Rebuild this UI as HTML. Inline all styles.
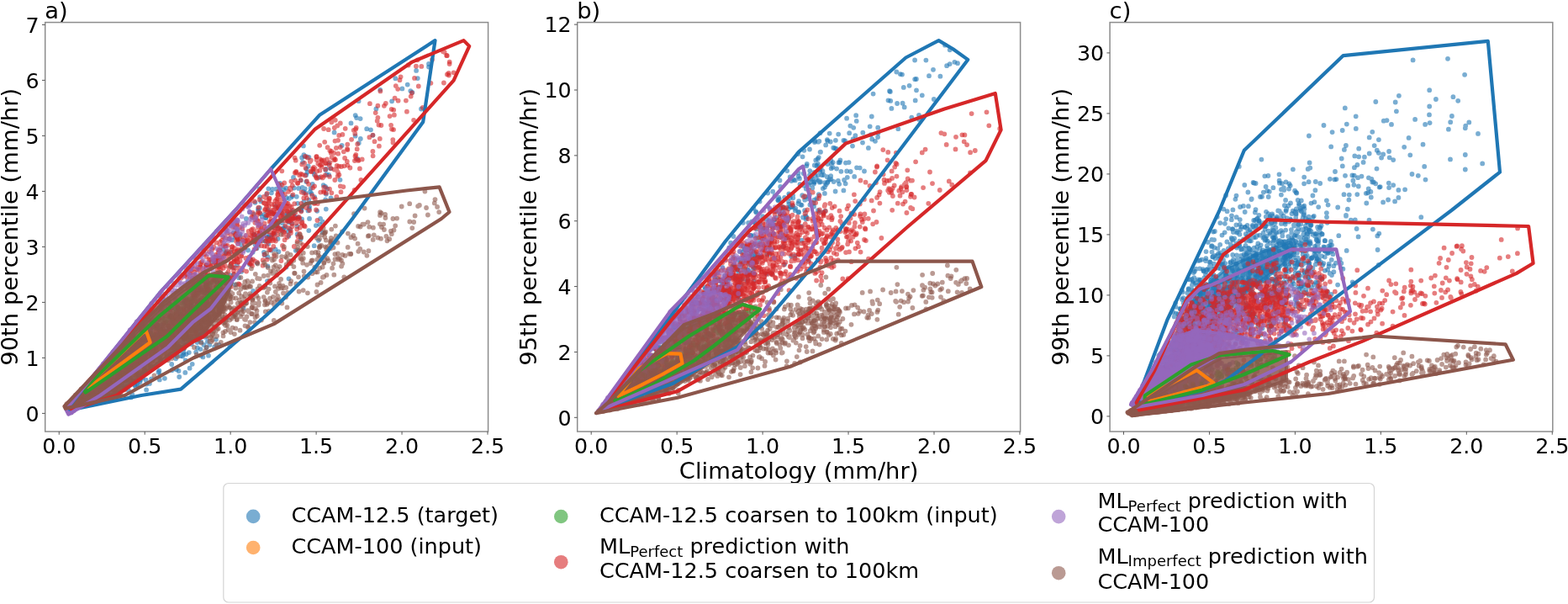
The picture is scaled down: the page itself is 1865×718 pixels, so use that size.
<!DOCTYPE html>
<html><head><meta charset="utf-8"><style>
html,body{margin:0;padding:0;background:#fff;width:1865px;height:718px;overflow:hidden}
svg{display:block}
</style></head><body>
<svg width="1865" height="718" viewBox="0 0 1865 718" font-family="'DejaVu Sans', 'Liberation Sans', sans-serif">
<rect x="53.7" y="26.6" width="526.9" height="486.4" fill="none" stroke="#8c8c8c" stroke-width="1.5"/>
<line x1="50.0" y1="491.40" x2="53.7" y2="491.40" stroke="#555" stroke-width="1"/>
<text x="46.7" y="500.60" text-anchor="end" font-size="25.3">0</text>
<line x1="50.0" y1="425.40" x2="53.7" y2="425.40" stroke="#555" stroke-width="1"/>
<text x="46.7" y="434.60" text-anchor="end" font-size="25.3">1</text>
<line x1="50.0" y1="359.40" x2="53.7" y2="359.40" stroke="#555" stroke-width="1"/>
<text x="46.7" y="368.60" text-anchor="end" font-size="25.3">2</text>
<line x1="50.0" y1="293.40" x2="53.7" y2="293.40" stroke="#555" stroke-width="1"/>
<text x="46.7" y="302.60" text-anchor="end" font-size="25.3">3</text>
<line x1="50.0" y1="227.40" x2="53.7" y2="227.40" stroke="#555" stroke-width="1"/>
<text x="46.7" y="236.60" text-anchor="end" font-size="25.3">4</text>
<line x1="50.0" y1="161.40" x2="53.7" y2="161.40" stroke="#555" stroke-width="1"/>
<text x="46.7" y="170.60" text-anchor="end" font-size="25.3">5</text>
<line x1="50.0" y1="95.40" x2="53.7" y2="95.40" stroke="#555" stroke-width="1"/>
<text x="46.7" y="104.60" text-anchor="end" font-size="25.3">6</text>
<line x1="50.0" y1="29.40" x2="53.7" y2="29.40" stroke="#555" stroke-width="1"/>
<text x="46.7" y="38.60" text-anchor="end" font-size="25.3">7</text>
<line x1="70.25" y1="513.0" x2="70.25" y2="516.7" stroke="#555" stroke-width="1"/>
<text x="70.25" y="539.00" text-anchor="middle" font-size="25.3">0.0</text>
<line x1="172.20" y1="513.0" x2="172.20" y2="516.7" stroke="#555" stroke-width="1"/>
<text x="172.20" y="539.00" text-anchor="middle" font-size="25.3">0.5</text>
<line x1="274.15" y1="513.0" x2="274.15" y2="516.7" stroke="#555" stroke-width="1"/>
<text x="274.15" y="539.00" text-anchor="middle" font-size="25.3">1.0</text>
<line x1="376.10" y1="513.0" x2="376.10" y2="516.7" stroke="#555" stroke-width="1"/>
<text x="376.10" y="539.00" text-anchor="middle" font-size="25.3">1.5</text>
<line x1="478.05" y1="513.0" x2="478.05" y2="516.7" stroke="#555" stroke-width="1"/>
<text x="478.05" y="539.00" text-anchor="middle" font-size="25.3">2.0</text>
<line x1="580.00" y1="513.0" x2="580.00" y2="516.7" stroke="#555" stroke-width="1"/>
<text x="580.00" y="539.00" text-anchor="middle" font-size="25.3">2.5</text>
<rect x="686.7" y="26.6" width="526.8999999999999" height="486.4" fill="none" stroke="#8c8c8c" stroke-width="1.5"/>
<line x1="683.0" y1="496.30" x2="686.7" y2="496.30" stroke="#555" stroke-width="1"/>
<text x="679.7" y="505.50" text-anchor="end" font-size="25.3">0</text>
<line x1="683.0" y1="418.44" x2="686.7" y2="418.44" stroke="#555" stroke-width="1"/>
<text x="679.7" y="427.64" text-anchor="end" font-size="25.3">2</text>
<line x1="683.0" y1="340.58" x2="686.7" y2="340.58" stroke="#555" stroke-width="1"/>
<text x="679.7" y="349.78" text-anchor="end" font-size="25.3">4</text>
<line x1="683.0" y1="262.72" x2="686.7" y2="262.72" stroke="#555" stroke-width="1"/>
<text x="679.7" y="271.92" text-anchor="end" font-size="25.3">6</text>
<line x1="683.0" y1="184.86" x2="686.7" y2="184.86" stroke="#555" stroke-width="1"/>
<text x="679.7" y="194.06" text-anchor="end" font-size="25.3">8</text>
<line x1="683.0" y1="107.00" x2="686.7" y2="107.00" stroke="#555" stroke-width="1"/>
<text x="679.7" y="116.20" text-anchor="end" font-size="25.3">10</text>
<line x1="683.0" y1="29.14" x2="686.7" y2="29.14" stroke="#555" stroke-width="1"/>
<text x="679.7" y="38.34" text-anchor="end" font-size="25.3">12</text>
<line x1="703.20" y1="513.0" x2="703.20" y2="516.7" stroke="#555" stroke-width="1"/>
<text x="703.20" y="539.00" text-anchor="middle" font-size="25.3">0.0</text>
<line x1="805.15" y1="513.0" x2="805.15" y2="516.7" stroke="#555" stroke-width="1"/>
<text x="805.15" y="539.00" text-anchor="middle" font-size="25.3">0.5</text>
<line x1="907.10" y1="513.0" x2="907.10" y2="516.7" stroke="#555" stroke-width="1"/>
<text x="907.10" y="539.00" text-anchor="middle" font-size="25.3">1.0</text>
<line x1="1009.05" y1="513.0" x2="1009.05" y2="516.7" stroke="#555" stroke-width="1"/>
<text x="1009.05" y="539.00" text-anchor="middle" font-size="25.3">1.5</text>
<line x1="1111.00" y1="513.0" x2="1111.00" y2="516.7" stroke="#555" stroke-width="1"/>
<text x="1111.00" y="539.00" text-anchor="middle" font-size="25.3">2.0</text>
<line x1="1212.95" y1="513.0" x2="1212.95" y2="516.7" stroke="#555" stroke-width="1"/>
<text x="1212.95" y="539.00" text-anchor="middle" font-size="25.3">2.5</text>
<rect x="1320.1" y="26.6" width="526.7" height="486.4" fill="none" stroke="#8c8c8c" stroke-width="1.5"/>
<line x1="1316.3999999999999" y1="494.90" x2="1320.1" y2="494.90" stroke="#555" stroke-width="1"/>
<text x="1313.1" y="504.10" text-anchor="end" font-size="25.3">0</text>
<line x1="1316.3999999999999" y1="422.90" x2="1320.1" y2="422.90" stroke="#555" stroke-width="1"/>
<text x="1313.1" y="432.10" text-anchor="end" font-size="25.3">5</text>
<line x1="1316.3999999999999" y1="350.90" x2="1320.1" y2="350.90" stroke="#555" stroke-width="1"/>
<text x="1313.1" y="360.10" text-anchor="end" font-size="25.3">10</text>
<line x1="1316.3999999999999" y1="278.90" x2="1320.1" y2="278.90" stroke="#555" stroke-width="1"/>
<text x="1313.1" y="288.10" text-anchor="end" font-size="25.3">15</text>
<line x1="1316.3999999999999" y1="206.90" x2="1320.1" y2="206.90" stroke="#555" stroke-width="1"/>
<text x="1313.1" y="216.10" text-anchor="end" font-size="25.3">20</text>
<line x1="1316.3999999999999" y1="134.90" x2="1320.1" y2="134.90" stroke="#555" stroke-width="1"/>
<text x="1313.1" y="144.10" text-anchor="end" font-size="25.3">25</text>
<line x1="1316.3999999999999" y1="62.90" x2="1320.1" y2="62.90" stroke="#555" stroke-width="1"/>
<text x="1313.1" y="72.10" text-anchor="end" font-size="25.3">30</text>
<line x1="1336.50" y1="513.0" x2="1336.50" y2="516.7" stroke="#555" stroke-width="1"/>
<text x="1336.50" y="539.00" text-anchor="middle" font-size="25.3">0.0</text>
<line x1="1438.45" y1="513.0" x2="1438.45" y2="516.7" stroke="#555" stroke-width="1"/>
<text x="1438.45" y="539.00" text-anchor="middle" font-size="25.3">0.5</text>
<line x1="1540.40" y1="513.0" x2="1540.40" y2="516.7" stroke="#555" stroke-width="1"/>
<text x="1540.40" y="539.00" text-anchor="middle" font-size="25.3">1.0</text>
<line x1="1642.35" y1="513.0" x2="1642.35" y2="516.7" stroke="#555" stroke-width="1"/>
<text x="1642.35" y="539.00" text-anchor="middle" font-size="25.3">1.5</text>
<line x1="1744.30" y1="513.0" x2="1744.30" y2="516.7" stroke="#555" stroke-width="1"/>
<text x="1744.30" y="539.00" text-anchor="middle" font-size="25.3">2.0</text>
<line x1="1846.25" y1="513.0" x2="1846.25" y2="516.7" stroke="#555" stroke-width="1"/>
<text x="1846.25" y="539.00" text-anchor="middle" font-size="25.3">2.5</text>
<text x="53.2" y="21.7" font-size="27.4">a)</text>
<text x="686.2" y="21.7" font-size="27.4">b)</text>
<text x="1319.6" y="21.7" font-size="27.4">c)</text>
<text transform="translate(21,269.8) rotate(-90)" text-anchor="middle" font-size="27.4">90th percentile (mm/hr)</text>
<text transform="translate(637.5,269.8) rotate(-90)" text-anchor="middle" font-size="27.4">95th percentile (mm/hr)</text>
<text transform="translate(1271,269.8) rotate(-90)" text-anchor="middle" font-size="27.4">99th percentile (mm/hr)</text>
<text x="950.15" y="569" text-anchor="middle" font-size="27.4">Climatology (mm/hr)</text>
<path d="M322.9 229.3h0M490.4 109.8h0M362.3 185.9h0M349.0 210.9h0M319.3 224.3h0M307.0 249.8h0M391.2 207.8h0M334.7 252.8h0M361.4 184.1h0M314.7 254.9h0M397.6 157.4h0M424.1 140.1h0M470.3 93.2h0M452.2 106.8h0M325.1 270.2h0M510.0 79.6h0M326.0 254.4h0M428.6 141.1h0M436.2 153.2h0M443.4 160.8h0M317.1 231.0h0M242.5 371.7h0M311.9 286.2h0M277.7 318.2h0M320.8 269.5h0M232.0 398.9h0M330.2 265.0h0M285.2 278.5h0M351.2 258.1h0M347.6 233.0h0M271.0 348.8h0M252.1 311.1h0M303.6 291.0h0M305.9 283.5h0M330.5 271.5h0M281.7 315.1h0M241.2 371.5h0M228.6 330.9h0M347.3 250.4h0M228.6 404.1h0M327.6 296.4h0M319.2 282.1h0M282.3 274.1h0M361.3 239.9h0M311.7 284.8h0M262.9 335.9h0M228.2 363.9h0M341.9 262.2h0M324.2 264.9h0M229.5 383.4h0M269.1 299.7h0M318.0 334.1h0M227.4 363.5h0M377.2 250.8h0M214.9 413.5h0M120.4 470.7h0M122.1 451.5h0M137.3 437.5h0M105.6 457.3h0M164.4 452.3h0M155.9 472.4h0M243.7 379.9h0M232.5 392.0h0M147.4 433.4h0M102.4 480.9h0M154.8 431.8h0M232.8 392.2h0M217.5 406.5h0M180.1 450.3h0M171.0 418.3h0M152.3 431.3h0M133.0 470.5h0M155.5 436.6h0M127.7 470.5h0M207.4 409.6h0M206.4 414.6h0M202.6 407.8h0M217.1 423.5h0M233.1 418.7h0M143.3 458.3h0M99.6 476.5h0M150.5 451.9h0M220.7 428.4h0M177.1 408.4h0M229.0 400.3h0M139.3 442.0h0M140.0 457.9h0M200.1 409.1h0M145.6 455.2h0M189.6 406.8h0M184.0 425.8h0M220.9 410.4h0M260.5 409.8h0M131.0 463.3h0M123.4 448.0h0M142.8 443.2h0M91.1 482.4h0M197.1 414.0h0M207.3 421.9h0M166.4 428.4h0M187.1 432.4h0M255.1 412.4h0M189.4 440.7h0M221.5 421.1h0M188.5 425.9h0M87.5 485.0h0M237.8 397.8h0M189.8 451.4h0M160.2 457.8h0M146.2 451.2h0M190.5 446.0h0M173.6 451.7h0M258.1 410.7h0M273.4 411.3h0M177.9 455.9h0M363.4 229.4h0M351.8 297.8h0M353.4 268.9h0M375.8 268.1h0M364.2 208.0h0M387.9 230.8h0M337.1 271.5h0M368.0 259.9h0M393.5 200.3h0M360.9 173.4h0M349.8 223.5h0M272.6 283.9h0M314.6 303.2h0M374.9 280.1h0M267.6 269.3h0M357.8 214.3h0M301.8 254.6h0M387.4 201.9h0M370.6 230.2h0M283.6 286.8h0M304.1 289.3h0M393.5 235.5h0M387.9 200.8h0" stroke="#1f77b4" stroke-opacity="0.6" stroke-width="5.8" stroke-linecap="round" fill="none"/>
<path d="M484.7 100.6h0M466.1 120.3h0M357.9 249.5h0M447.4 129.4h0M441.0 154.3h0M322.7 279.5h0M322.0 252.1h0M379.1 210.9h0M354.1 241.8h0M422.7 137.1h0M359.1 187.4h0M307.3 247.7h0M308.9 247.2h0M340.1 223.6h0M380.2 266.8h0M278.0 326.5h0M287.1 291.0h0M285.7 280.9h0M374.1 234.1h0M341.5 253.6h0M277.9 276.6h0M320.1 279.7h0M239.4 343.9h0M309.5 254.1h0M373.7 292.2h0M265.5 296.5h0M354.5 258.5h0M367.3 274.1h0M359.7 222.9h0M219.7 358.0h0M308.6 224.4h0M297.0 252.2h0M309.1 234.2h0M366.4 250.4h0M267.8 336.8h0M340.5 317.6h0M200.7 356.7h0M245.5 341.4h0M318.4 305.4h0M268.6 301.2h0M315.3 339.8h0M344.3 274.9h0M301.1 346.0h0M274.1 299.4h0M216.0 374.4h0M279.5 338.3h0M362.7 224.3h0M255.4 332.8h0M153.8 428.4h0M151.4 455.8h0M167.1 426.7h0M162.9 437.8h0M110.3 452.9h0M147.9 424.1h0M232.0 377.1h0M242.5 409.9h0M160.3 453.7h0M136.3 451.6h0M172.2 425.7h0M99.8 472.8h0M234.5 366.6h0M204.4 440.2h0M214.9 423.2h0M221.9 395.8h0M234.5 389.0h0M171.6 416.6h0M193.9 400.5h0M154.4 437.6h0M235.6 379.4h0M201.1 422.2h0M249.3 409.9h0M164.8 423.2h0M222.1 409.6h0M137.7 463.1h0M133.6 473.8h0M169.4 444.2h0M120.9 467.5h0M248.3 394.2h0M210.5 420.3h0M246.9 405.9h0M89.1 475.1h0M191.6 402.1h0M237.1 394.3h0M196.6 393.2h0M151.4 442.1h0M234.8 413.5h0M218.2 421.3h0M168.1 430.8h0M174.0 456.7h0M132.0 451.7h0M210.7 423.0h0M167.0 451.7h0M164.0 435.0h0M121.9 460.1h0M109.1 476.4h0M200.8 403.1h0M198.3 426.0h0M116.4 471.5h0M212.5 441.0h0M221.4 401.0h0M157.1 428.6h0M131.1 442.3h0M140.5 446.5h0M174.1 463.4h0M241.4 424.4h0M206.2 438.6h0M209.1 426.3h0M157.3 468.9h0M152.9 464.0h0M124.2 465.7h0M109.8 476.7h0M106.0 461.9h0M146.2 452.2h0M188.4 442.5h0M404.5 213.8h0M353.6 278.5h0M383.7 276.3h0M365.5 204.8h0M387.8 248.6h0M360.1 192.8h0M355.8 298.2h0M346.9 252.4h0M342.4 275.3h0M305.9 312.8h0M298.1 308.4h0M367.9 248.2h0M344.8 259.9h0M391.1 194.4h0M357.5 284.2h0M387.1 237.3h0M369.6 223.9h0" stroke="#1f77b4" stroke-opacity="0.6" stroke-width="5.8" stroke-linecap="round" fill="none"/>
<path d="M510.0 76.0h0M333.6 222.0h0M496.8 93.1h0M338.6 237.3h0M501.0 129.5h0M426.6 120.2h0M417.5 146.4h0M316.0 258.7h0M426.8 169.9h0M428.8 165.0h0M488.3 108.1h0M384.7 220.1h0M302.1 282.8h0M214.4 374.2h0M245.5 315.4h0M275.9 285.4h0M249.6 379.4h0M328.2 245.1h0M319.3 289.7h0M226.7 380.9h0M381.1 259.9h0M368.0 245.6h0M335.1 228.7h0M256.6 355.4h0M269.4 336.7h0M335.2 271.8h0M318.4 316.4h0M340.9 235.1h0M368.9 228.2h0M262.8 351.9h0M273.7 327.2h0M234.4 361.7h0M232.8 339.9h0M335.8 265.3h0M359.3 246.3h0M226.6 363.2h0M289.6 366.3h0M242.4 297.8h0M287.0 322.9h0M338.8 256.5h0M218.8 359.6h0M262.5 340.6h0M330.5 283.9h0M343.4 280.7h0M332.1 264.4h0M240.0 330.5h0M383.6 263.5h0M236.6 384.6h0M234.5 407.1h0M124.6 463.2h0M112.7 458.9h0M218.2 419.0h0M166.5 454.2h0M126.9 449.0h0M108.9 469.7h0M245.8 394.5h0M231.3 381.5h0M205.7 392.2h0M134.4 466.6h0M227.8 409.1h0M157.7 449.5h0M175.2 416.5h0M146.2 426.9h0M108.8 462.1h0M224.8 419.1h0M194.4 412.9h0M172.4 440.7h0M234.8 399.9h0M117.0 460.6h0M225.9 389.6h0M123.2 474.0h0M139.5 455.6h0M108.1 460.8h0M214.3 417.1h0M218.0 416.5h0M130.3 453.8h0M174.7 419.1h0M219.3 403.6h0M195.9 449.8h0M117.2 475.2h0M183.6 413.5h0M256.9 403.6h0M244.2 400.8h0M204.2 433.0h0M144.4 446.4h0M107.2 462.6h0M109.4 466.0h0M206.0 400.2h0M147.4 459.2h0M93.1 475.9h0M130.6 438.3h0M161.2 459.5h0M228.7 432.8h0M225.6 437.7h0M138.7 473.1h0M238.5 415.1h0M169.3 449.4h0M162.8 456.5h0M133.2 449.3h0M248.0 422.7h0M111.2 477.9h0M144.2 446.7h0M333.1 217.8h0M373.9 207.5h0M364.5 200.8h0M389.3 224.5h0M331.4 299.2h0M292.8 260.0h0M303.3 279.3h0M315.8 286.8h0M317.8 281.7h0M347.3 265.8h0M322.5 297.5h0M344.9 272.5h0M336.1 273.9h0M364.3 216.0h0" stroke="#1f77b4" stroke-opacity="0.6" stroke-width="5.8" stroke-linecap="round" fill="none"/>
<path d="M425.2 188.8h0M478.4 105.4h0M366.7 197.5h0M422.6 161.7h0M311.8 257.6h0M495.1 83.9h0M337.7 225.5h0M367.4 187.0h0M310.2 239.3h0M365.2 186.4h0M343.9 236.1h0M358.6 250.6h0M406.6 172.9h0M313.2 279.9h0M307.2 292.3h0M343.5 331.3h0M313.9 299.8h0M326.8 277.9h0M367.3 237.6h0M328.5 224.7h0M329.8 268.0h0M211.3 357.3h0M235.8 341.4h0M279.5 282.1h0M272.6 336.8h0M318.5 249.3h0M284.1 330.2h0M271.7 345.1h0M222.1 356.4h0M270.2 377.4h0M231.1 343.4h0M264.9 353.6h0M296.8 314.3h0M232.6 367.7h0M360.9 227.8h0M316.2 259.1h0M193.7 354.9h0M303.5 240.8h0M255.4 311.7h0M358.4 247.3h0M204.3 366.2h0M241.4 373.1h0M343.4 255.2h0M339.3 270.0h0M240.4 398.1h0M223.7 335.0h0M352.8 233.8h0M254.3 346.2h0M196.5 363.1h0M378.9 285.8h0M322.5 282.3h0M127.6 466.1h0M190.3 425.3h0M239.1 387.7h0M183.6 436.8h0M213.5 400.2h0M149.5 461.3h0M219.5 396.0h0M236.6 389.1h0M139.0 450.9h0M236.7 372.9h0M171.9 434.7h0M210.9 408.4h0M145.9 430.5h0M126.8 447.3h0M116.0 472.1h0M212.7 413.1h0M152.6 432.2h0M197.0 411.9h0M98.3 467.8h0M120.8 455.2h0M150.6 450.6h0M129.2 470.9h0M162.5 414.4h0M151.6 427.8h0M239.2 406.4h0M220.3 442.9h0M129.9 469.2h0M222.8 400.1h0M99.0 477.4h0M240.9 382.1h0M133.3 475.7h0M95.1 470.4h0M218.9 401.9h0M141.9 458.2h0M112.9 460.6h0M148.9 452.5h0M104.2 464.9h0M236.9 386.5h0M186.6 402.6h0M245.4 413.3h0M186.6 403.1h0M209.8 439.2h0M213.2 448.0h0M187.4 420.4h0M190.3 397.7h0M153.4 443.3h0M218.3 414.7h0M163.8 457.2h0M239.0 422.7h0M134.4 462.0h0M118.6 472.6h0M130.6 456.3h0M114.6 458.9h0M343.7 264.2h0M301.7 278.7h0M300.7 299.8h0M324.1 225.0h0M305.5 295.3h0M359.0 260.4h0M291.2 294.9h0M295.1 297.5h0M388.5 207.4h0M346.5 234.6h0M349.7 254.0h0M355.2 223.9h0M332.9 262.3h0M372.3 203.8h0M387.1 221.9h0M371.7 218.8h0" stroke="#1f77b4" stroke-opacity="0.6" stroke-width="5.8" stroke-linecap="round" fill="none"/>
<path d="M126.4 437.9h0M133.9 434.7h0M146.7 429.2h0M154.3 417.3h0M147.8 426.6h0M130.6 436.2h0M174.7 403.0h0M142.5 424.4h0M162.1 409.4h0M163.9 416.8h0M122.5 440.7h0M149.2 419.8h0M163.7 402.7h0M143.4 425.7h0M137.8 436.1h0M126.8 444.6h0M137.7 431.9h0M161.0 411.9h0M124.1 445.7h0M114.2 453.2h0M112.2 451.8h0" stroke="#ff7f0e" stroke-opacity="0.6" stroke-width="5.8" stroke-linecap="round" fill="none"/>
<path d="M145.8 426.6h0M130.9 434.5h0M149.1 423.0h0M150.1 417.5h0M137.0 434.2h0M150.0 416.5h0M139.4 430.4h0M143.2 427.8h0M134.0 430.5h0M157.8 413.4h0M152.5 416.4h0M164.7 411.9h0M106.3 456.3h0M163.0 408.1h0" stroke="#ff7f0e" stroke-opacity="0.6" stroke-width="5.8" stroke-linecap="round" fill="none"/>
<path d="M165.7 410.2h0M139.7 432.6h0M165.6 400.6h0M150.3 419.1h0M169.1 403.6h0M131.3 441.1h0M156.7 415.2h0M155.2 414.8h0M143.0 430.9h0M113.0 454.2h0M125.5 438.4h0M153.6 425.3h0" stroke="#ff7f0e" stroke-opacity="0.6" stroke-width="5.8" stroke-linecap="round" fill="none"/>
<path d="M125.1 443.5h0M150.3 424.4h0M138.0 431.6h0M153.8 411.1h0M116.2 447.5h0M131.3 435.6h0M111.2 452.0h0M117.7 446.4h0M104.9 458.0h0M129.2 437.4h0M123.6 443.6h0M149.4 421.6h0M146.7 426.9h0" stroke="#ff7f0e" stroke-opacity="0.6" stroke-width="5.8" stroke-linecap="round" fill="none"/>
<path d="M218.1 366.3h0M138.5 426.8h0M242.2 334.3h0M245.0 339.8h0M142.3 428.1h0M137.6 433.5h0M181.6 401.4h0M135.7 434.2h0M257.8 335.4h0M222.1 354.8h0M148.6 423.5h0M208.4 362.8h0M134.4 443.1h0M147.8 420.9h0M121.8 450.0h0M222.7 356.6h0M170.2 403.5h0M121.7 444.0h0M245.8 348.3h0M179.4 410.3h0M143.0 424.0h0M132.0 435.7h0M140.7 434.9h0M114.5 456.2h0M127.4 441.8h0M193.9 384.4h0M154.9 429.3h0M257.0 333.1h0M162.3 423.7h0M118.7 445.2h0M255.2 332.8h0M251.8 335.5h0M238.2 361.0h0M143.9 424.9h0M216.1 370.4h0M240.9 347.1h0M126.3 438.0h0M208.4 367.1h0M247.0 337.9h0M141.4 427.1h0M122.1 449.2h0M186.4 389.6h0M249.1 345.9h0M149.4 432.7h0M201.6 376.8h0" stroke="#2ca02c" stroke-opacity="0.6" stroke-width="5.8" stroke-linecap="round" fill="none"/>
<path d="M154.6 415.2h0M166.4 421.2h0M190.5 392.5h0M181.0 384.6h0M152.2 427.9h0M179.3 393.4h0M138.4 429.4h0M149.6 414.7h0M230.5 349.9h0M152.6 425.8h0M148.2 433.3h0M161.8 406.8h0M126.9 438.0h0M150.7 427.7h0M179.8 398.2h0M227.6 359.3h0M226.3 371.5h0M104.5 463.1h0M131.3 434.9h0M228.4 354.4h0M163.7 402.8h0M160.4 408.6h0M203.0 375.9h0M197.4 383.0h0M258.5 336.0h0M183.8 398.3h0M257.6 330.9h0M205.1 378.4h0M145.8 419.6h0M231.6 349.9h0M237.9 357.9h0M186.6 397.9h0M221.5 363.2h0M182.8 399.7h0M179.3 394.5h0" stroke="#2ca02c" stroke-opacity="0.6" stroke-width="5.8" stroke-linecap="round" fill="none"/>
<path d="M246.7 334.3h0M159.3 410.1h0M244.1 348.3h0M247.2 346.9h0M229.7 357.9h0M130.9 433.0h0M126.2 442.1h0M257.0 328.6h0M149.0 420.4h0M194.9 395.7h0M184.7 398.5h0M182.6 388.1h0M174.8 398.8h0M165.9 413.9h0M244.8 338.1h0M102.3 464.4h0M119.9 445.3h0M108.6 456.1h0M206.9 374.7h0M226.5 367.3h0M193.1 378.2h0M169.7 412.0h0M224.1 357.9h0M236.1 348.1h0M170.7 396.1h0M147.5 429.7h0M181.3 405.7h0M117.7 450.3h0M171.9 396.5h0M210.6 378.0h0" stroke="#2ca02c" stroke-opacity="0.6" stroke-width="5.8" stroke-linecap="round" fill="none"/>
<path d="M102.3 465.0h0M195.2 379.1h0M249.8 341.3h0M249.5 337.8h0M209.6 370.1h0M215.7 376.4h0M131.0 441.5h0M197.4 381.6h0M228.0 360.7h0M248.2 336.7h0M125.6 448.5h0M176.9 407.0h0M245.2 331.1h0M173.2 404.8h0M224.9 355.8h0M118.6 451.9h0M229.5 364.2h0M191.2 386.7h0M250.3 347.5h0M200.0 394.4h0M231.7 349.8h0M186.2 385.5h0M199.4 379.5h0M216.7 360.7h0M225.4 366.2h0M114.6 448.9h0M195.7 380.6h0M202.3 377.3h0M109.1 456.3h0M170.0 413.7h0M126.0 443.3h0M131.1 443.4h0M189.7 380.6h0M241.9 341.6h0M151.2 424.4h0M230.1 354.8h0M214.6 372.8h0M151.1 413.7h0M242.8 344.9h0M196.5 380.6h0" stroke="#2ca02c" stroke-opacity="0.6" stroke-width="5.8" stroke-linecap="round" fill="none"/>
<path d="M197.2 407.9h0M148.7 461.7h0M242.4 380.8h0M128.1 459.2h0M204.2 413.3h0M151.0 437.1h0M137.9 465.9h0M174.4 417.1h0M202.6 368.3h0M149.6 427.1h0M159.2 417.7h0M206.7 399.5h0M97.4 463.5h0M101.2 469.7h0M184.1 388.3h0M218.3 395.3h0M200.9 414.0h0M112.2 471.5h0M112.1 457.6h0M143.1 423.9h0M232.5 393.0h0M168.6 412.4h0M203.6 398.9h0M114.7 452.4h0M160.5 439.3h0M192.7 408.7h0M152.8 436.8h0M217.0 374.5h0M229.7 385.7h0M203.0 393.4h0M217.6 392.3h0M137.4 463.1h0M152.0 440.5h0M211.9 391.3h0M163.4 433.0h0M225.8 385.2h0M134.1 442.5h0M180.9 403.9h0M227.8 389.5h0M181.2 421.8h0M133.8 445.1h0M142.9 435.8h0M127.7 471.0h0M98.2 463.7h0M198.1 408.1h0M184.4 414.8h0M107.5 469.2h0M217.0 378.7h0M218.2 394.1h0M120.3 446.3h0M182.5 414.1h0M248.7 381.5h0M170.0 415.5h0M185.7 397.4h0M138.7 450.3h0M126.8 457.3h0M238.9 383.5h0M178.6 412.7h0M125.9 444.6h0M185.5 400.6h0M205.6 413.1h0M202.8 411.1h0M103.1 477.9h0M219.4 370.5h0M100.8 471.8h0M156.1 406.1h0M167.3 425.2h0M184.9 403.1h0M153.9 430.2h0M110.6 470.8h0M133.7 462.7h0M215.6 385.2h0M180.1 422.4h0M246.6 371.2h0M183.1 421.6h0M185.9 416.8h0M174.8 414.0h0M124.0 446.3h0M134.7 436.7h0M296.2 305.6h0M314.5 302.5h0M245.2 342.0h0M259.8 307.3h0M239.4 313.0h0M280.0 318.5h0M281.8 301.9h0M325.1 277.6h0M226.2 326.2h0M285.5 270.1h0M342.5 241.8h0M226.5 330.0h0M307.3 262.8h0M250.0 308.8h0M334.7 245.0h0M333.9 241.3h0M256.7 314.4h0M232.8 329.9h0M284.8 338.2h0M319.9 274.5h0M221.6 325.7h0M303.3 310.5h0M238.2 316.8h0M272.7 330.7h0M238.7 324.9h0M304.5 295.3h0M250.0 368.7h0M296.2 312.2h0M320.0 235.8h0M306.6 290.7h0M234.5 344.7h0M327.4 263.1h0M261.4 290.6h0M261.5 296.9h0M274.7 313.6h0M238.4 312.5h0M346.5 260.1h0M284.6 304.7h0M316.1 286.5h0M279.8 278.2h0M316.9 256.1h0M262.6 321.0h0M278.6 310.9h0M258.6 320.4h0M286.9 303.9h0M300.0 277.4h0M319.3 271.7h0M250.0 348.9h0M272.1 283.7h0M253.6 294.3h0M262.3 352.0h0M292.9 280.0h0M287.2 296.2h0M230.9 327.4h0M302.5 296.3h0M270.5 291.8h0M333.2 257.3h0M284.4 318.3h0M315.2 273.1h0M260.3 370.4h0M276.9 303.2h0M300.7 253.0h0M232.7 341.2h0M272.1 337.5h0M333.2 249.1h0M362.7 269.2h0M320.1 297.2h0M242.9 328.2h0M334.6 230.5h0M250.1 315.3h0M307.1 252.4h0M347.6 260.1h0M277.4 269.9h0M332.0 271.0h0M306.8 276.9h0M228.8 316.2h0M345.9 277.0h0M327.2 283.8h0M327.2 238.8h0M300.0 315.9h0M354.5 260.2h0M245.3 318.5h0M286.3 301.1h0M238.1 328.1h0M314.5 269.6h0M236.6 320.9h0M283.6 284.0h0M323.4 251.7h0M331.8 240.7h0M254.2 293.5h0M320.3 275.7h0M322.8 260.9h0M330.1 272.9h0M258.5 311.4h0M275.9 293.5h0M267.4 282.9h0M274.3 315.4h0M247.3 324.9h0M305.3 278.2h0M280.8 281.3h0M299.3 287.9h0M275.8 317.6h0M333.6 256.0h0M284.5 281.9h0M262.0 287.5h0M306.0 311.8h0M248.5 299.1h0M282.2 298.2h0M327.9 286.5h0M359.1 265.3h0M272.3 301.3h0M312.7 309.2h0M258.8 342.6h0M262.5 316.4h0M259.8 297.1h0M380.3 189.2h0M443.4 179.9h0M357.6 214.2h0M364.2 246.9h0M404.8 221.3h0M343.0 279.5h0M443.5 160.6h0M341.4 282.0h0M465.1 148.8h0M412.8 192.0h0M317.2 245.6h0M493.0 92.9h0M374.1 221.3h0M382.6 198.5h0M360.3 291.1h0M376.0 249.5h0M475.5 95.2h0M317.8 251.3h0M365.0 215.3h0M531.1 65.9h0M446.7 134.1h0M403.2 160.9h0M397.5 201.5h0M344.9 223.7h0M531.9 88.4h0M494.9 78.7h0M349.8 293.0h0M467.3 166.1h0M423.3 183.9h0M402.0 205.0h0M430.7 189.4h0M389.6 175.2h0M467.5 169.5h0M387.5 194.1h0M468.2 130.7h0M308.8 237.2h0M338.8 230.9h0M336.3 251.8h0M350.8 205.5h0M502.8 128.0h0M466.0 153.6h0M326.4 249.4h0M331.2 218.7h0M451.8 164.9h0M408.8 180.3h0M385.0 190.3h0M330.3 247.0h0M416.4 199.5h0M392.3 179.0h0M350.6 187.6h0M348.6 249.9h0M406.0 198.0h0M400.3 201.9h0M401.7 209.5h0M377.9 242.1h0M413.4 178.1h0M381.9 210.2h0M365.4 244.5h0M369.6 203.5h0M427.0 190.1h0M376.6 190.0h0M325.7 253.7h0M408.4 222.1h0M323.2 242.8h0M380.3 202.7h0M319.3 240.9h0M357.7 206.7h0M372.0 200.4h0M345.9 225.2h0M335.5 236.2h0M375.3 208.9h0M397.6 190.2h0M385.2 228.6h0" stroke="#d62728" stroke-opacity="0.6" stroke-width="5.8" stroke-linecap="round" fill="none"/>
<path d="M158.7 435.2h0M245.4 383.7h0M168.3 428.9h0M112.7 466.9h0M173.9 424.3h0M181.3 429.6h0M211.7 399.0h0M87.7 482.6h0M167.9 401.2h0M145.9 438.3h0M102.1 475.6h0M113.8 464.3h0M85.7 481.7h0M91.3 471.5h0M105.3 459.5h0M200.0 406.9h0M200.3 387.6h0M152.2 432.3h0M140.8 428.1h0M166.3 428.8h0M190.5 397.7h0M195.5 393.3h0M164.0 445.4h0M232.9 394.8h0M109.8 461.7h0M162.5 424.0h0M116.6 466.1h0M126.6 462.7h0M198.4 423.2h0M125.9 458.5h0M151.1 444.2h0M137.1 429.1h0M206.7 379.0h0M245.6 375.1h0M238.6 387.4h0M130.9 454.9h0M227.5 392.0h0M201.2 406.7h0M235.4 376.0h0M168.7 429.0h0M149.6 429.8h0M143.9 445.8h0M180.3 387.1h0M242.1 372.9h0M201.0 394.7h0M166.0 425.5h0M147.1 447.4h0M105.7 470.9h0M227.7 375.8h0M107.9 476.3h0M181.2 399.9h0M148.7 436.7h0M213.1 396.8h0M179.1 427.7h0M171.2 424.5h0M180.9 401.4h0M237.5 376.8h0M196.3 417.7h0M214.3 387.7h0M138.0 437.8h0M212.6 412.3h0M217.6 395.9h0M220.2 378.5h0M222.2 396.2h0M166.0 424.6h0M94.4 467.7h0M152.2 429.6h0M186.1 412.9h0M208.1 409.8h0M152.7 438.2h0M94.9 470.1h0M218.9 389.4h0M175.3 431.0h0M191.3 403.0h0M164.9 431.2h0M183.8 405.4h0M174.0 414.8h0M215.3 392.1h0M226.4 391.3h0M221.8 374.5h0M294.3 285.5h0M223.9 320.5h0M299.1 280.1h0M347.3 255.0h0M254.4 315.2h0M292.1 286.9h0M285.4 309.2h0M278.5 325.8h0M233.9 351.6h0M294.4 287.8h0M315.7 248.4h0M342.5 260.2h0M330.7 232.1h0M261.4 327.2h0M317.6 308.6h0M309.8 276.9h0M266.9 304.3h0M256.5 305.6h0M263.0 306.4h0M323.6 286.3h0M262.3 329.7h0M352.2 259.4h0M280.0 279.6h0M318.3 287.3h0M314.6 265.7h0M268.4 291.9h0M295.6 275.0h0M241.1 333.4h0M257.4 341.4h0M268.5 326.2h0M281.4 298.7h0M257.2 288.4h0M310.5 270.4h0M269.9 277.5h0M274.9 340.8h0M340.6 247.6h0M276.4 293.2h0M244.0 323.5h0M330.6 274.0h0M356.2 259.6h0M326.2 270.8h0M325.3 292.9h0M311.1 292.2h0M285.6 310.0h0M300.6 258.3h0M308.0 267.0h0M314.7 241.5h0M317.0 272.2h0M271.3 308.3h0M333.6 273.0h0M325.4 285.7h0M332.6 274.7h0M281.0 310.0h0M291.3 294.3h0M300.8 308.4h0M309.1 278.8h0M223.5 338.8h0M263.8 285.9h0M345.4 261.1h0M284.1 323.1h0M275.1 313.0h0M303.4 264.8h0M282.1 283.1h0M256.3 306.9h0M286.5 297.6h0M347.7 259.0h0M335.2 257.4h0M309.2 252.8h0M347.3 265.5h0M331.1 271.3h0M318.9 255.3h0M298.0 278.9h0M282.1 301.1h0M324.4 265.9h0M220.1 327.5h0M259.4 309.1h0M278.4 299.1h0M321.9 253.8h0M241.4 320.0h0M345.6 253.3h0M324.7 253.8h0M297.1 288.9h0M252.5 296.3h0M339.5 246.2h0M248.4 308.5h0M332.9 228.5h0M283.7 311.3h0M343.3 248.1h0M287.4 304.6h0M267.8 315.9h0M235.1 317.9h0M268.5 343.2h0M225.2 319.4h0M356.6 263.2h0M339.1 244.3h0M330.4 236.1h0M239.1 333.6h0M243.4 302.2h0M238.7 317.7h0M340.4 246.5h0M301.2 285.9h0M253.3 333.0h0M308.7 276.2h0M359.4 263.9h0M247.5 329.6h0M333.1 261.8h0M257.8 305.2h0M325.7 276.4h0M258.3 315.6h0M377.4 262.0h0M405.5 228.2h0M385.1 226.7h0M539.6 86.3h0M453.4 149.0h0M404.8 146.5h0M392.0 209.9h0M356.3 277.9h0M488.7 114.6h0M374.6 200.2h0M389.0 189.5h0M343.1 227.8h0M380.2 172.8h0M402.2 182.7h0M492.1 142.8h0M512.4 98.8h0M413.0 177.0h0M439.4 163.2h0M514.0 70.9h0M449.4 125.7h0M452.4 108.4h0M421.6 225.9h0M327.0 246.5h0M531.8 66.2h0M344.7 244.8h0M376.4 186.6h0M348.4 231.3h0M463.6 138.1h0M469.6 116.7h0M333.3 256.3h0M401.2 149.4h0M328.9 247.7h0M424.7 177.2h0M316.6 235.5h0M351.7 190.7h0M377.1 211.9h0M468.9 136.7h0M445.5 168.2h0M338.2 217.5h0M374.5 241.3h0M364.9 235.7h0M387.4 194.0h0M413.3 171.6h0M365.8 187.5h0M409.4 197.3h0M356.2 208.2h0M331.4 262.3h0M382.6 190.3h0M386.9 223.1h0M358.2 251.6h0M378.3 194.6h0M423.7 189.1h0M359.2 195.4h0M336.7 248.7h0M329.6 265.8h0M362.1 194.0h0M426.2 190.9h0M359.5 245.2h0M355.0 259.9h0M376.9 203.6h0M313.8 234.0h0M352.3 265.6h0M373.3 198.9h0M383.6 211.4h0M328.0 262.3h0M385.2 222.6h0M350.2 242.2h0M397.8 152.0h0M354.2 217.8h0M384.5 210.6h0M320.1 238.9h0" stroke="#d62728" stroke-opacity="0.6" stroke-width="5.8" stroke-linecap="round" fill="none"/>
<path d="M139.1 451.4h0M153.4 446.9h0M186.6 402.0h0M189.7 398.3h0M191.7 428.9h0M119.2 452.9h0M102.5 468.4h0M218.8 392.5h0M243.8 396.5h0M128.2 445.2h0M162.0 446.7h0M217.8 400.6h0M205.0 398.6h0M132.3 460.9h0M224.3 382.2h0M150.3 433.5h0M117.6 469.9h0M147.0 448.8h0M126.6 449.9h0M241.8 370.2h0M140.9 454.9h0M183.1 415.6h0M202.0 375.5h0M184.8 424.8h0M178.9 434.3h0M211.0 385.7h0M182.5 416.6h0M242.8 378.7h0M203.1 392.5h0M204.2 394.4h0M99.5 460.8h0M215.0 397.9h0M93.7 477.9h0M96.0 469.8h0M95.2 480.3h0M195.6 406.3h0M110.8 461.2h0M86.8 478.0h0M243.9 391.2h0M154.1 420.9h0M239.9 379.0h0M221.2 384.1h0M175.5 403.7h0M180.4 423.7h0M173.1 421.8h0M241.2 371.8h0M235.3 400.0h0M196.3 397.0h0M88.8 480.9h0M103.3 478.3h0M107.0 478.1h0M200.5 402.9h0M246.2 369.7h0M231.4 381.3h0M168.6 421.6h0M87.3 478.8h0M128.6 454.0h0M136.7 428.9h0M220.1 394.3h0M248.7 376.4h0M141.7 438.7h0M132.3 445.8h0M120.0 458.1h0M304.5 282.3h0M216.0 329.6h0M317.8 274.7h0M265.0 308.2h0M215.4 330.5h0M253.7 305.8h0M350.8 260.6h0M275.2 297.4h0M306.6 254.6h0M308.9 276.7h0M248.6 313.7h0M260.7 308.7h0M229.1 340.9h0M265.1 281.4h0M324.6 283.7h0M283.1 311.9h0M308.3 271.2h0M235.5 336.7h0M259.1 324.3h0M279.9 301.5h0M264.6 344.3h0M346.2 252.7h0M353.2 272.5h0M230.4 319.6h0M281.5 307.0h0M308.1 287.0h0M233.3 328.6h0M324.6 267.2h0M274.7 314.1h0M308.8 271.1h0M320.8 286.0h0M234.3 320.3h0M317.5 292.7h0M246.5 344.7h0M227.8 320.8h0M322.2 263.8h0M290.1 282.8h0M297.5 313.5h0M332.0 245.4h0M349.0 256.1h0M319.9 244.8h0M331.2 247.9h0M240.0 328.8h0M326.2 243.2h0M343.3 256.0h0M323.1 284.7h0M326.5 304.0h0M264.9 316.6h0M303.4 261.0h0M275.9 316.4h0M261.9 334.9h0M240.5 326.6h0M246.2 336.8h0M330.1 279.0h0M288.3 272.0h0M358.1 281.9h0M309.1 266.6h0M282.8 289.2h0M264.1 316.4h0M299.4 257.6h0M267.9 310.6h0M272.1 303.4h0M265.6 291.7h0M342.1 262.7h0M344.3 261.7h0M337.2 257.3h0M299.0 273.1h0M260.3 316.9h0M325.0 262.4h0M315.0 249.8h0M312.6 315.7h0M259.2 312.4h0M258.4 306.1h0M223.3 342.8h0M272.4 318.6h0M340.6 246.5h0M265.0 318.5h0M275.9 331.2h0M325.5 278.7h0M345.4 254.6h0M341.5 250.4h0M238.3 314.3h0M307.1 270.5h0M231.2 351.0h0M281.0 286.7h0M278.0 311.4h0M271.5 322.8h0M259.5 300.3h0M229.8 335.7h0M233.0 339.4h0M320.3 284.5h0M264.6 348.2h0M307.4 246.6h0M317.3 283.2h0M292.1 286.3h0M347.0 258.4h0M226.3 343.9h0M280.0 310.9h0M245.3 314.7h0M265.8 318.8h0M241.7 332.2h0M281.8 267.3h0M302.9 287.4h0M332.6 229.8h0M345.7 262.0h0M305.2 256.7h0M244.6 323.3h0M301.7 284.6h0M254.3 309.7h0M347.6 269.2h0M320.1 256.7h0M271.9 302.7h0M234.1 348.7h0M289.1 285.2h0M282.3 284.2h0M361.8 268.2h0M337.6 247.1h0M534.7 73.6h0M450.9 173.7h0M335.3 203.3h0M361.3 235.4h0M468.1 154.1h0M372.3 234.6h0M497.8 102.5h0M418.1 165.8h0M317.6 230.0h0M465.7 129.8h0M398.8 142.8h0M483.9 132.7h0M423.0 153.8h0M329.2 265.9h0M326.6 252.1h0M376.5 186.0h0M363.1 185.8h0M398.3 214.0h0M355.4 249.1h0M427.9 200.4h0M399.0 189.8h0M394.3 145.3h0M533.7 86.9h0M527.9 98.5h0M410.7 152.8h0M489.9 110.4h0M392.5 193.1h0M482.9 119.6h0M340.8 258.9h0M328.0 268.2h0M352.2 204.0h0M473.6 119.7h0M346.4 215.6h0M370.6 204.2h0M397.4 141.9h0M458.8 122.9h0M381.2 228.6h0M407.4 159.9h0M338.1 275.9h0M337.0 278.8h0M341.6 245.6h0M335.7 231.0h0M367.1 218.8h0M332.1 231.3h0M336.0 253.9h0M413.5 196.6h0M382.5 195.7h0M403.4 207.8h0M346.7 246.1h0M386.2 168.8h0M410.1 187.9h0M399.9 175.9h0M363.5 199.7h0M330.2 230.9h0M376.1 211.0h0M363.0 208.7h0M429.4 213.9h0M421.9 191.1h0M364.0 231.3h0M422.5 185.7h0M392.0 224.7h0M400.7 196.9h0M371.2 232.5h0M394.2 179.8h0M358.3 241.8h0" stroke="#d62728" stroke-opacity="0.6" stroke-width="5.8" stroke-linecap="round" fill="none"/>
<path d="M175.6 415.5h0M124.0 448.1h0M158.2 428.3h0M98.6 476.4h0M220.2 382.2h0M127.6 445.2h0M208.2 406.1h0M146.8 452.4h0M227.6 386.4h0M149.8 432.4h0M225.1 401.0h0M114.1 466.8h0M209.3 380.8h0M179.9 414.8h0M90.6 479.4h0M168.5 442.5h0M205.4 397.1h0M101.8 474.8h0M178.3 416.3h0M152.6 441.6h0M211.4 395.1h0M112.5 474.5h0M223.7 382.9h0M134.7 426.2h0M139.5 460.3h0M232.2 370.7h0M121.9 458.5h0M239.2 389.8h0M195.9 412.4h0M242.0 392.2h0M210.0 418.6h0M245.4 377.2h0M248.2 385.5h0M205.6 397.4h0M148.5 413.9h0M221.2 401.4h0M165.4 417.5h0M158.8 433.3h0M193.3 400.9h0M168.2 424.0h0M145.3 435.9h0M165.4 444.7h0M114.6 446.4h0M210.8 378.5h0M239.4 360.5h0M168.0 420.3h0M137.8 436.1h0M185.2 394.0h0M155.7 441.6h0M128.9 452.5h0M245.7 390.0h0M201.5 406.5h0M174.2 429.5h0M201.7 389.9h0M152.7 439.8h0M209.6 373.5h0M220.6 392.7h0M234.0 358.4h0M218.6 368.1h0M245.1 392.0h0M222.6 373.8h0M227.5 399.5h0M94.4 469.6h0M128.2 468.1h0M150.1 415.1h0M171.6 424.2h0M162.4 422.3h0M95.2 479.2h0M233.4 392.7h0M199.9 412.1h0M247.4 379.6h0M138.6 454.9h0M241.6 370.3h0M171.0 431.1h0M233.1 396.1h0M109.4 467.1h0M235.5 365.5h0M244.4 371.6h0M305.3 288.1h0M339.4 268.5h0M334.4 310.0h0M323.1 280.0h0M324.6 254.9h0M269.1 272.6h0M256.8 310.7h0M293.1 322.6h0M243.6 327.3h0M237.0 340.7h0M320.5 263.4h0M300.8 272.1h0M275.6 332.0h0M306.6 280.6h0M297.7 308.2h0M355.6 258.0h0M303.2 286.5h0M256.7 303.0h0M320.9 252.0h0M256.9 341.1h0M282.9 285.4h0M302.5 274.3h0M238.4 343.9h0M282.0 265.7h0M320.7 236.0h0M341.6 251.6h0M266.9 302.2h0M279.9 270.6h0M354.5 281.2h0M275.8 330.5h0M336.4 261.9h0M325.9 274.8h0M349.1 259.6h0M274.6 278.9h0M322.3 249.7h0M324.2 262.9h0M250.5 316.8h0M272.1 330.7h0M338.6 285.2h0M288.7 285.7h0M296.0 288.3h0M300.0 238.4h0M281.1 276.8h0M230.5 343.7h0M231.0 333.3h0M327.4 255.2h0M293.2 286.0h0M356.6 281.3h0M336.0 291.9h0M278.0 321.9h0M234.4 332.7h0M231.3 344.2h0M245.1 315.2h0M353.6 287.0h0M314.5 292.7h0M229.9 339.0h0M333.2 262.5h0M321.8 296.8h0M343.3 262.9h0M290.9 290.3h0M254.9 359.8h0M351.3 252.8h0M297.2 283.0h0M278.7 294.8h0M289.0 320.9h0M263.4 304.9h0M321.3 284.2h0M226.6 324.3h0M333.5 242.9h0M310.0 286.4h0M250.1 319.7h0M328.2 263.2h0M269.8 298.5h0M279.8 295.8h0M222.2 329.3h0M298.8 313.7h0M337.6 296.0h0M306.0 261.6h0M282.5 296.6h0M278.3 308.0h0M282.1 307.7h0M260.4 318.1h0M260.5 305.8h0M267.6 292.8h0M255.3 306.4h0M277.1 265.0h0M312.8 274.4h0M283.7 337.4h0M245.4 304.9h0M337.5 275.9h0M247.4 343.2h0M260.9 297.6h0M240.3 310.9h0M229.6 351.4h0M299.0 311.0h0M243.4 330.1h0M230.7 345.8h0M259.8 303.6h0M340.7 241.4h0M262.1 337.8h0M273.0 329.5h0M343.1 270.8h0M292.4 307.0h0M301.8 279.2h0M231.2 323.3h0M227.1 321.2h0M264.6 311.6h0M242.4 358.5h0M358.4 268.8h0M261.2 297.1h0M473.2 105.8h0M534.6 76.0h0M420.7 154.8h0M449.4 139.8h0M352.4 204.9h0M533.9 89.5h0M391.7 196.5h0M316.5 242.7h0M422.3 158.9h0M527.0 61.2h0M356.7 270.6h0M448.7 143.7h0M400.3 233.8h0M330.9 246.4h0M501.3 78.9h0M443.6 185.3h0M397.7 188.3h0M470.8 102.1h0M528.6 61.9h0M450.5 148.5h0M496.6 71.3h0M402.1 166.8h0M485.7 77.5h0M476.6 91.3h0M334.5 273.2h0M335.4 219.9h0M456.9 125.8h0M302.8 239.4h0M393.7 182.1h0M425.2 171.2h0M319.9 253.4h0M439.9 123.2h0M385.1 153.0h0M368.0 250.1h0M372.7 201.2h0M423.7 151.9h0M359.8 207.6h0M349.1 253.6h0M339.8 262.3h0M324.1 254.4h0M394.4 229.3h0M380.6 196.5h0M345.9 274.0h0M373.8 241.9h0M383.0 191.6h0M368.8 192.1h0M404.8 175.0h0M397.2 181.9h0M358.7 228.4h0M390.7 154.2h0M398.5 167.6h0M361.0 229.5h0M351.3 214.6h0M374.8 236.5h0M372.1 223.3h0M387.1 201.4h0M330.9 227.9h0M329.2 236.4h0M354.0 217.6h0M347.8 220.5h0M352.4 205.6h0M320.5 250.5h0M387.8 229.4h0M369.8 190.6h0M329.6 241.1h0M394.6 187.1h0M313.6 241.1h0M403.0 197.7h0M393.3 200.1h0M386.7 208.4h0" stroke="#d62728" stroke-opacity="0.6" stroke-width="5.8" stroke-linecap="round" fill="none"/>
<path d="M226.1 339.7h0M181.2 387.7h0M142.3 415.4h0M94.8 468.6h0M252.4 301.7h0M96.7 481.9h0M84.7 486.6h0M114.4 446.6h0M297.5 242.9h0M106.1 457.7h0M95.8 466.4h0M240.8 300.3h0M261.2 301.0h0M83.8 481.4h0M119.0 460.0h0M131.4 434.1h0M122.3 445.1h0M277.5 267.0h0M86.5 488.3h0M96.1 470.4h0M261.2 275.4h0M121.3 461.7h0M295.6 243.6h0M136.7 418.2h0M105.1 454.3h0M219.6 336.8h0M181.8 371.1h0M89.9 474.8h0M133.0 429.0h0M263.4 299.3h0M188.2 377.8h0M254.6 310.7h0M129.5 438.5h0M125.5 442.3h0M235.8 320.0h0M288.8 286.7h0M267.6 286.3h0M241.9 327.7h0M265.1 272.4h0M263.9 279.2h0M132.9 445.6h0M223.7 319.0h0M123.2 454.3h0M275.8 274.8h0M82.4 486.7h0M125.7 443.2h0M140.9 428.3h0M116.9 453.8h0M217.4 353.1h0M123.6 446.1h0M241.6 323.3h0M269.9 265.6h0M282.1 261.5h0M100.7 477.4h0M102.2 463.0h0M155.8 414.7h0M125.5 446.5h0M277.2 259.4h0M200.6 389.8h0M159.2 399.5h0M157.1 425.3h0M84.7 490.3h0M120.5 440.3h0M272.0 270.5h0M247.1 301.9h0M171.3 382.2h0M187.9 375.5h0M203.4 382.9h0M86.8 485.4h0M136.5 444.9h0M226.6 326.9h0M132.3 438.2h0M104.0 461.2h0M114.5 465.0h0M110.9 460.8h0M85.2 481.6h0M169.0 387.0h0M104.3 474.8h0M90.6 479.1h0M237.9 337.1h0M109.7 466.3h0M85.3 486.9h0M191.0 363.9h0M81.1 485.7h0M116.4 441.4h0M134.4 418.4h0M180.2 360.6h0M191.2 361.1h0M250.8 289.2h0M95.3 472.8h0M274.6 284.5h0M232.5 336.8h0M95.9 468.2h0M272.0 275.7h0M138.7 436.4h0M134.0 430.1h0M80.6 485.1h0M268.9 294.7h0M263.4 307.4h0M82.9 488.8h0M208.5 355.3h0M83.7 485.1h0M134.7 426.1h0M287.8 269.3h0M125.3 453.8h0M290.9 243.2h0M104.8 470.7h0M254.9 282.6h0M113.3 464.9h0M122.3 465.9h0M215.0 341.4h0M99.4 473.0h0M99.7 463.8h0M137.9 429.3h0M268.8 276.0h0M282.7 272.7h0M90.9 483.8h0M239.9 304.9h0M172.0 410.8h0M241.8 296.8h0M255.4 304.6h0M255.1 304.6h0M304.0 259.9h0M289.0 300.2h0M308.5 280.2h0M247.2 320.1h0M307.0 268.0h0M250.9 295.5h0M261.7 310.8h0" stroke="#9467bd" stroke-opacity="0.6" stroke-width="5.8" stroke-linecap="round" fill="none"/>
<path d="M168.3 395.6h0M202.7 362.3h0M242.3 294.2h0M261.1 278.9h0M112.9 464.4h0M192.8 362.6h0M113.1 455.0h0M277.9 254.9h0M101.3 467.3h0M138.4 440.0h0M118.6 464.0h0M155.6 404.4h0M114.9 455.4h0M122.9 432.3h0M262.8 278.8h0M138.6 434.7h0M150.5 415.5h0M295.2 264.9h0M85.0 479.1h0M104.6 464.2h0M97.1 476.8h0M194.0 349.3h0M213.7 336.6h0M80.7 486.5h0M100.1 470.5h0M146.2 410.8h0M209.0 359.8h0M156.0 402.4h0M191.7 367.4h0M93.4 474.9h0M189.3 351.2h0M142.9 412.2h0M238.0 327.9h0M136.3 446.8h0M92.0 475.2h0M270.6 274.4h0M206.5 336.6h0M126.1 454.6h0M200.4 360.2h0M192.3 359.3h0M186.2 383.9h0M104.1 458.7h0M177.2 365.3h0M111.7 469.1h0M250.4 289.8h0M223.9 315.3h0M116.7 442.9h0M251.3 293.3h0M178.7 381.5h0M151.0 412.7h0M86.4 479.7h0M291.9 279.8h0M120.2 447.4h0M274.7 268.7h0M154.6 392.2h0M233.1 326.1h0M127.4 440.4h0M129.4 431.0h0M275.4 267.2h0M113.9 449.6h0M226.8 319.0h0M92.1 484.1h0M222.1 319.8h0M296.7 251.8h0M111.7 469.8h0M252.4 305.3h0M121.6 451.8h0M201.2 344.4h0M288.4 248.5h0M251.1 287.1h0M162.5 415.3h0M267.6 282.0h0M116.4 453.4h0M210.0 339.1h0M129.2 450.0h0M197.2 352.4h0M297.7 260.1h0M227.0 319.8h0M220.7 317.3h0M203.6 364.4h0M166.2 381.3h0M128.4 440.2h0M149.0 430.2h0M189.2 365.6h0M145.2 431.2h0M223.9 336.8h0M84.6 490.2h0M266.1 280.5h0M91.6 483.3h0M238.5 301.8h0M283.1 263.0h0M200.0 371.5h0M177.1 380.5h0M146.8 408.1h0M288.2 275.1h0M263.2 293.4h0M234.4 326.5h0M136.0 439.7h0M120.3 451.9h0M303.8 258.3h0M88.6 477.3h0M220.9 340.1h0M126.4 448.1h0M146.9 418.9h0M127.3 452.1h0M287.7 257.4h0M153.0 401.1h0M293.4 244.9h0M278.3 261.8h0M191.7 349.3h0M103.6 457.1h0M179.0 390.4h0M86.2 484.5h0M122.7 447.3h0M118.3 457.9h0M159.3 402.7h0M233.4 302.6h0M187.6 358.7h0M239.0 343.2h0M232.7 305.6h0M259.0 304.8h0M271.8 286.2h0M315.9 269.8h0M257.7 330.1h0M284.3 275.8h0M234.9 306.7h0" stroke="#9467bd" stroke-opacity="0.6" stroke-width="5.8" stroke-linecap="round" fill="none"/>
<path d="M190.1 392.5h0M175.7 392.4h0M217.9 328.8h0M222.7 338.7h0M146.4 443.2h0M171.7 387.2h0M204.0 363.9h0M82.7 483.8h0M103.1 470.6h0M281.5 262.3h0M205.3 341.1h0M116.4 464.9h0M162.7 415.4h0M168.4 384.6h0M247.6 288.3h0M110.4 455.1h0M221.7 322.2h0M234.6 312.9h0M158.4 398.4h0M193.4 353.7h0M115.4 456.6h0M173.0 381.1h0M112.0 470.4h0M165.1 401.1h0M285.0 251.8h0M163.2 403.4h0M120.7 458.3h0M107.0 468.9h0M297.1 243.8h0M227.9 347.2h0M96.4 467.7h0M107.5 456.3h0M213.3 324.3h0M208.7 345.3h0M311.6 261.1h0M206.5 348.0h0M132.4 455.8h0M282.4 261.3h0M91.1 484.9h0M297.3 252.1h0M190.7 356.1h0M253.5 322.8h0M190.8 370.9h0M93.6 469.7h0M111.0 472.3h0M179.5 369.0h0M98.3 470.3h0M157.4 418.0h0M242.3 297.8h0M120.3 449.6h0M103.0 456.6h0M90.6 474.7h0M188.6 396.6h0M289.0 265.8h0M88.9 483.2h0M152.3 418.2h0M86.5 483.7h0M145.9 417.9h0M87.6 488.6h0M82.1 486.5h0M156.8 399.6h0M131.3 440.4h0M292.0 264.9h0M111.3 473.3h0M205.3 340.5h0M254.2 284.2h0M226.8 320.2h0M102.4 479.9h0M130.5 443.5h0M122.1 440.6h0M112.0 462.7h0M169.8 420.5h0M136.0 422.7h0M124.7 445.1h0M254.5 306.7h0M147.7 404.9h0M94.5 476.9h0M174.5 391.7h0M153.4 419.9h0M105.5 455.4h0M92.9 484.5h0M80.4 486.3h0M136.6 446.6h0M108.1 454.4h0M273.2 260.6h0M140.4 418.8h0M179.5 391.1h0M281.4 272.0h0M172.9 403.4h0M305.4 265.0h0M134.7 420.1h0M112.7 452.5h0M211.5 370.2h0M193.1 386.5h0M192.5 390.6h0M148.3 416.4h0M129.4 443.6h0M150.9 413.2h0M174.3 396.6h0M85.9 487.0h0M170.4 376.8h0M82.7 488.1h0M103.4 474.9h0M148.0 425.3h0M275.3 268.1h0M152.4 414.1h0M266.6 306.4h0M241.8 309.7h0M246.4 312.7h0M310.3 266.1h0M282.0 279.5h0M253.1 308.6h0" stroke="#9467bd" stroke-opacity="0.6" stroke-width="5.8" stroke-linecap="round" fill="none"/>
<path d="M267.4 274.8h0M119.4 444.2h0M101.4 464.1h0M153.8 401.9h0M242.2 318.6h0M261.5 299.6h0M93.4 477.3h0M104.3 459.5h0M215.9 344.9h0M210.2 345.7h0M243.2 291.4h0M189.0 359.4h0M99.4 475.2h0M153.3 411.3h0M138.8 419.9h0M279.4 270.8h0M224.5 326.0h0M173.1 402.2h0M119.5 451.0h0M138.8 441.6h0M95.7 473.1h0M274.5 265.9h0M199.4 348.6h0M286.2 278.6h0M208.2 348.5h0M213.2 329.6h0M180.8 381.1h0M189.4 408.1h0M125.6 432.1h0M164.7 388.8h0M128.6 444.5h0M191.5 362.0h0M111.7 462.0h0M94.6 473.1h0M177.2 373.9h0M295.4 246.3h0M211.2 362.0h0M117.0 470.7h0M101.8 467.7h0M122.9 436.9h0M231.7 312.4h0M202.4 347.3h0M154.5 433.6h0M94.9 476.3h0M120.1 455.0h0M110.8 461.5h0M227.7 329.9h0M223.1 334.2h0M155.6 398.0h0M166.6 399.2h0M123.6 435.4h0M204.0 344.3h0M200.9 341.9h0M88.3 486.8h0M184.2 379.1h0M169.8 395.9h0M115.6 453.2h0M177.4 368.3h0M100.8 462.1h0M258.3 295.7h0M178.9 393.9h0M90.3 483.5h0M144.7 433.3h0M250.9 300.3h0M273.1 283.3h0M97.0 476.9h0M91.5 474.6h0M87.3 477.1h0M117.7 459.2h0M151.6 420.5h0M190.1 351.2h0M95.2 477.5h0M87.2 482.9h0M154.6 410.7h0M135.5 437.2h0M170.5 382.8h0M166.5 400.8h0M225.3 330.1h0M218.8 338.5h0M266.4 288.6h0M211.8 347.7h0M289.7 298.0h0M119.7 445.5h0M291.1 267.8h0M114.8 454.1h0M100.0 472.0h0M84.9 490.5h0M278.2 263.2h0M164.4 388.8h0M162.5 382.5h0M84.5 488.3h0M239.0 303.5h0M171.6 379.8h0M167.5 391.3h0M202.8 343.4h0M104.8 472.9h0M214.7 335.9h0M104.2 471.9h0M231.7 326.1h0M206.9 353.7h0M299.5 261.6h0M279.6 263.0h0M230.8 306.1h0M172.7 400.3h0M142.5 409.8h0M275.0 265.6h0M283.0 290.2h0M237.5 305.4h0M311.9 275.0h0M231.3 317.0h0M260.8 304.2h0M232.7 341.0h0M245.5 334.0h0" stroke="#9467bd" stroke-opacity="0.6" stroke-width="5.8" stroke-linecap="round" fill="none"/>
<polygon points="80.0,484.0 140.0,419.0 167.0,390.0 194.0,363.0 218.0,345.0 241.0,329.0 262.0,323.0 276.0,335.0 262.0,372.0 238.0,399.0 200.0,423.0 139.0,468.0 88.0,486.0" fill="#8c564b" fill-opacity="0.92" stroke="#8c564b" stroke-opacity="0.92" stroke-width="4" stroke-linejoin="round"/>
<path d="M119.6 446.0h0M185.4 406.2h0M190.7 407.1h0M248.5 362.0h0M131.9 453.5h0M208.1 393.4h0M202.4 383.3h0M250.7 382.6h0M193.8 415.0h0M165.3 433.2h0M88.0 473.9h0M240.3 376.1h0M106.4 478.3h0M243.4 353.3h0M151.4 449.3h0M129.1 465.1h0M101.1 479.5h0M168.9 394.0h0M92.9 470.2h0M121.3 463.6h0M256.4 376.8h0M135.8 463.9h0M184.1 421.9h0M112.1 471.6h0M189.2 378.3h0M217.0 393.5h0M249.7 376.2h0M179.9 425.8h0M148.9 425.2h0M222.7 362.4h0M202.0 385.1h0M256.3 376.2h0M128.8 449.4h0M219.7 376.1h0M204.9 384.6h0M101.4 479.9h0M130.7 432.1h0M205.9 393.1h0M242.1 356.7h0M126.6 443.5h0M202.3 374.9h0M196.0 407.6h0M117.4 449.1h0M91.3 476.8h0M242.4 371.8h0M194.0 390.0h0M239.7 367.1h0M239.2 371.5h0M99.4 477.0h0M236.6 364.6h0M143.1 444.8h0M169.6 411.8h0M203.8 403.7h0M135.3 458.8h0M143.1 469.0h0M115.5 464.3h0M117.5 473.6h0M239.1 361.6h0M247.6 370.0h0M123.1 469.8h0M244.8 354.2h0M120.5 465.2h0M97.8 473.0h0M248.2 353.4h0M200.1 405.0h0M124.1 444.4h0M161.9 427.9h0M151.6 439.9h0M228.7 372.3h0M113.3 461.5h0M139.9 420.2h0M171.3 419.1h0M100.4 469.0h0M142.1 455.8h0M190.9 427.5h0M248.6 363.6h0M193.9 412.5h0M102.2 462.5h0M203.5 399.9h0M251.2 362.3h0M148.7 430.0h0M139.9 448.8h0M136.7 427.4h0M229.2 381.8h0M87.2 475.9h0M185.3 412.2h0M122.4 458.5h0M253.4 357.1h0M176.2 416.1h0M261.0 368.4h0M233.2 365.5h0M132.0 446.7h0M215.1 383.7h0M199.9 409.0h0M239.7 356.6h0M219.2 400.3h0M118.0 454.8h0M194.9 414.5h0M136.1 437.4h0M212.5 392.8h0M243.5 345.2h0M179.6 420.2h0M169.4 433.5h0M172.1 419.5h0M143.2 446.7h0M224.4 386.8h0M222.4 395.0h0M146.0 449.4h0M237.1 334.2h0M137.2 434.8h0M128.2 460.5h0M240.3 367.5h0M157.8 416.3h0M230.6 372.7h0M115.7 455.6h0M134.9 453.3h0M134.7 437.9h0M243.2 364.2h0M149.1 446.7h0M81.5 478.8h0M245.5 367.8h0M83.7 480.5h0M172.7 427.1h0M137.3 454.7h0M124.8 469.5h0M123.1 449.3h0M256.6 356.0h0M209.6 412.5h0M247.5 377.4h0M111.7 465.9h0M133.1 449.3h0M201.6 391.4h0M210.5 395.6h0M127.5 471.2h0M115.6 471.5h0M249.9 371.8h0M214.9 384.8h0M118.8 464.6h0M110.2 459.5h0M238.6 361.3h0M94.6 470.4h0M139.1 422.3h0M171.8 416.2h0M206.7 400.8h0M157.1 433.0h0M244.0 362.3h0M194.9 415.1h0M147.8 420.1h0M166.3 407.0h0M174.7 386.8h0M147.2 443.1h0M150.0 412.1h0M218.4 391.1h0M135.6 469.2h0M219.9 398.0h0M115.5 475.2h0M253.5 359.0h0M222.2 373.1h0M169.1 389.1h0M155.8 452.8h0M253.5 363.8h0M164.0 420.0h0M236.9 376.8h0M125.6 435.4h0M193.6 414.8h0M109.6 462.1h0M246.9 351.4h0M184.8 419.8h0M120.6 451.5h0M142.8 432.9h0M235.3 388.2h0M200.7 396.0h0M127.1 465.6h0M226.3 366.9h0M234.8 360.7h0M133.1 453.8h0M247.0 354.1h0M132.4 438.4h0M102.1 479.6h0M178.7 396.7h0M218.0 392.5h0M105.4 467.3h0M217.8 401.4h0M142.0 445.3h0M145.4 441.7h0M163.3 407.3h0M234.8 363.8h0M227.3 383.1h0M108.6 464.5h0M183.0 416.0h0M213.5 412.0h0M252.4 367.8h0M218.7 389.4h0M232.8 377.4h0M89.1 473.8h0M140.1 444.8h0M258.1 363.0h0M252.8 376.1h0M83.6 483.6h0M218.5 392.1h0M139.5 441.6h0M178.7 405.5h0M94.2 480.1h0M210.6 380.1h0M225.9 377.2h0M144.3 443.0h0M127.9 435.2h0M119.5 456.2h0M241.6 361.6h0M168.1 426.8h0M99.5 470.2h0M213.2 386.8h0M123.0 440.2h0M177.9 419.9h0M90.6 478.5h0M130.2 455.9h0M225.3 368.7h0M250.4 350.7h0M211.0 423.9h0M216.9 383.0h0M183.5 405.4h0M211.5 394.9h0M128.3 430.1h0M251.3 366.2h0M182.3 427.5h0M228.4 358.6h0M132.7 445.9h0M262.4 361.0h0M239.4 378.9h0M250.3 349.4h0M136.7 455.4h0M161.4 437.1h0M98.6 473.2h0M332.8 340.2h0M291.4 341.7h0M230.3 388.1h0M323.9 309.6h0M407.4 313.3h0M236.5 398.7h0M256.6 394.0h0M261.9 366.3h0M383.9 329.7h0M292.0 349.1h0M294.6 387.8h0M322.6 359.5h0M233.8 421.7h0M293.5 376.5h0M319.8 369.8h0M244.1 417.2h0M291.0 379.4h0M274.5 395.0h0M349.4 317.1h0M238.0 345.2h0M294.3 333.8h0M244.8 382.0h0M255.8 382.2h0M238.2 386.8h0M340.3 342.0h0M385.2 328.9h0M220.4 395.4h0M249.6 371.1h0M295.5 336.2h0M349.3 309.4h0M396.5 313.3h0M358.8 308.2h0M324.9 352.9h0M274.7 373.3h0M325.0 322.4h0M252.6 397.2h0M216.7 390.1h0M355.0 329.3h0M355.6 346.5h0M231.3 390.5h0M215.4 395.1h0M288.7 364.6h0M384.6 270.9h0M255.1 372.0h0M291.5 379.3h0M387.8 285.6h0M291.5 387.3h0M323.1 307.8h0M244.1 357.1h0M337.2 342.3h0M212.7 377.1h0M271.5 392.0h0M340.7 314.5h0M379.8 294.2h0M385.4 312.7h0M270.2 349.8h0M377.5 323.4h0M328.4 324.1h0M324.1 324.9h0M382.8 279.2h0M267.9 346.5h0M360.7 345.1h0M329.8 356.4h0M286.4 329.9h0M255.5 393.4h0M305.8 375.8h0M371.6 309.4h0M304.0 366.8h0M236.8 364.6h0M213.7 380.7h0M255.8 356.6h0M346.8 309.8h0M341.9 301.1h0M226.2 401.4h0M254.1 393.9h0M407.3 302.9h0M335.3 360.5h0M264.5 370.6h0M213.1 378.2h0M307.9 359.6h0M239.3 407.6h0M273.8 353.4h0M257.1 383.2h0M258.4 384.0h0M291.1 351.8h0M284.9 356.6h0M253.6 385.1h0M289.6 369.9h0M258.2 379.2h0M307.6 362.6h0M256.6 385.9h0M257.3 400.0h0M233.4 377.8h0M256.6 392.7h0M305.4 351.7h0M300.9 354.4h0M276.7 354.3h0M277.6 376.2h0M239.7 389.1h0M276.5 389.7h0M272.0 355.4h0M292.0 379.9h0M246.0 399.7h0M265.9 357.4h0M302.2 366.4h0M286.3 360.0h0M258.0 391.6h0M297.4 383.1h0M268.0 366.1h0M258.1 399.3h0M297.1 352.8h0M264.5 378.5h0M252.4 404.3h0M292.2 350.7h0M272.7 365.2h0M298.9 353.7h0M245.2 376.5h0M294.0 340.0h0M273.5 316.4h0M254.8 399.8h0M297.2 352.3h0M281.8 380.2h0M265.8 384.1h0M254.4 396.4h0M460.5 286.3h0M314.0 311.9h0M417.3 301.8h0M375.4 300.0h0M392.8 287.9h0M453.6 253.5h0M413.7 293.9h0M360.8 300.7h0M439.2 269.7h0M402.1 306.7h0M437.8 280.7h0M464.9 274.7h0M406.1 316.6h0M425.6 289.7h0M459.4 280.9h0M456.9 273.0h0M467.4 260.0h0M438.4 298.2h0M420.3 280.0h0M443.7 284.9h0" stroke="#8c564b" stroke-opacity="0.6" stroke-width="5.8" stroke-linecap="round" fill="none"/>
<path d="M187.2 388.1h0M184.4 421.6h0M88.9 480.3h0M96.5 462.5h0M162.9 428.8h0M119.7 470.5h0M220.9 375.8h0M107.5 458.7h0M119.6 446.0h0M176.2 410.1h0M105.6 462.0h0M249.9 365.3h0M202.6 416.0h0M233.3 369.7h0M251.2 353.0h0M245.4 361.8h0M122.7 455.4h0M180.9 406.3h0M93.3 471.3h0M113.8 448.8h0M232.2 369.5h0M201.4 406.5h0M235.9 344.0h0M140.1 425.2h0M219.8 357.7h0M113.0 459.3h0M222.5 372.7h0M219.5 413.6h0M217.0 384.3h0M164.4 413.9h0M149.2 460.4h0M195.3 405.4h0M205.6 388.2h0M118.2 457.0h0M200.4 387.3h0M116.5 460.2h0M156.2 424.8h0M165.3 404.3h0M110.5 463.0h0M133.0 456.1h0M240.4 375.7h0M248.9 380.2h0M138.3 433.7h0M129.4 451.7h0M211.0 412.4h0M261.7 358.3h0M131.1 460.0h0M250.4 349.5h0M179.5 411.3h0M257.8 352.3h0M244.8 356.3h0M219.3 385.4h0M136.1 442.7h0M172.9 413.6h0M164.7 425.6h0M218.2 400.8h0M170.7 419.4h0M150.6 437.6h0M169.1 416.9h0M168.1 425.2h0M187.0 402.6h0M124.4 457.8h0M108.6 467.2h0M142.3 435.9h0M228.6 373.9h0M156.7 409.8h0M117.0 442.3h0M166.8 426.8h0M240.2 379.4h0M191.0 408.2h0M175.2 420.5h0M230.3 395.6h0M194.4 405.8h0M188.4 387.0h0M152.8 410.9h0M233.8 397.3h0M157.3 432.0h0M132.3 437.2h0M203.6 388.0h0M188.8 393.0h0M232.2 352.8h0M105.0 456.3h0M225.9 376.0h0M192.4 405.5h0M210.3 400.3h0M225.8 369.3h0M205.6 380.8h0M123.5 466.4h0M240.2 395.1h0M182.2 403.7h0M131.0 437.7h0M93.8 473.2h0M251.1 349.7h0M236.0 364.3h0M201.4 419.4h0M183.7 409.9h0M99.5 474.0h0M177.7 402.7h0M113.8 466.8h0M94.0 467.0h0M113.4 463.6h0M266.6 365.1h0M260.7 356.2h0M252.7 359.2h0M116.6 458.1h0M182.2 423.2h0M173.4 420.3h0M123.5 460.6h0M126.8 453.2h0M184.4 404.1h0M216.6 378.7h0M225.6 362.9h0M191.1 391.5h0M114.6 462.3h0M116.6 472.2h0M147.0 443.8h0M160.8 413.6h0M132.8 440.3h0M91.4 479.1h0M161.4 411.9h0M166.8 425.2h0M120.8 471.0h0M180.9 435.9h0M117.8 440.5h0M126.0 460.7h0M89.5 474.8h0M190.2 398.4h0M254.1 363.4h0M240.7 357.7h0M234.9 362.6h0M149.0 412.7h0M104.8 460.4h0M245.8 364.0h0M254.8 363.9h0M242.0 347.9h0M140.2 454.8h0M236.1 367.0h0M181.4 414.6h0M202.8 387.3h0M100.3 468.1h0M193.4 416.7h0M165.8 414.9h0M151.5 436.5h0M90.9 481.5h0M98.4 478.7h0M254.0 393.7h0M119.2 446.5h0M166.5 412.8h0M217.3 397.6h0M200.8 413.3h0M140.1 451.3h0M167.4 432.6h0M198.8 424.6h0M155.8 434.0h0M132.6 431.5h0M171.7 440.0h0M169.0 415.5h0M80.7 480.6h0M132.4 444.0h0M141.6 443.1h0M219.6 384.6h0M219.9 386.8h0M255.7 380.4h0M103.0 468.8h0M225.6 395.0h0M139.9 457.7h0M179.6 416.9h0M177.5 413.3h0M118.4 459.6h0M249.6 363.3h0M254.6 364.2h0M140.3 438.3h0M169.1 425.2h0M241.1 378.8h0M146.3 452.1h0M157.3 409.4h0M113.9 447.8h0M151.3 450.7h0M181.1 421.7h0M152.5 413.3h0M225.6 399.7h0M232.0 368.0h0M155.4 407.1h0M138.3 442.8h0M119.6 467.9h0M238.5 374.3h0M97.0 473.1h0M228.5 368.6h0M163.0 443.7h0M90.7 475.3h0M225.7 372.8h0M108.8 457.0h0M234.5 389.9h0M144.1 431.5h0M198.8 400.3h0M198.3 401.1h0M209.8 396.2h0M164.3 409.6h0M170.9 442.0h0M221.2 363.8h0M205.5 396.7h0M256.9 354.2h0M214.9 366.9h0M239.2 372.8h0M193.1 410.8h0M197.6 400.4h0M207.0 412.7h0M208.6 419.2h0M175.4 399.9h0M115.5 470.7h0M228.9 373.7h0M161.4 419.2h0M244.5 394.7h0M267.6 374.4h0M131.4 459.1h0M192.3 401.7h0M208.8 398.7h0M196.1 374.9h0M137.0 455.7h0M234.6 370.2h0M123.6 474.5h0M200.1 394.6h0M153.1 405.1h0M159.1 433.2h0M131.6 444.1h0M315.5 341.4h0M386.3 281.8h0M350.1 324.7h0M290.5 362.2h0M394.1 294.7h0M260.5 368.9h0M378.7 303.7h0M216.8 413.9h0M398.5 308.2h0M341.5 365.4h0M321.1 354.6h0M396.6 294.3h0M287.1 352.2h0M280.3 390.3h0M260.6 374.3h0M371.3 325.2h0M274.6 347.7h0M273.4 380.3h0M272.4 380.7h0M357.3 307.0h0M393.4 295.3h0M365.8 293.1h0M273.6 337.7h0M343.6 309.8h0M393.9 287.7h0M265.5 399.4h0M254.1 365.1h0M352.3 337.4h0M249.4 405.9h0M330.4 319.8h0M330.9 342.9h0M241.4 386.1h0M319.7 343.6h0M270.8 336.8h0M307.5 354.3h0M377.5 338.5h0M221.2 395.9h0M326.2 362.3h0M340.0 353.3h0M370.5 310.0h0M325.8 380.9h0M230.5 378.4h0M264.0 370.3h0M317.9 347.5h0M223.6 370.5h0M357.4 304.2h0M260.2 381.8h0M223.3 403.4h0M327.0 358.6h0M287.8 352.5h0M298.1 340.7h0M315.4 358.2h0M250.1 384.0h0M241.9 370.6h0M206.2 390.2h0M235.7 362.2h0M404.0 307.9h0M393.8 282.9h0M236.3 391.3h0M228.3 377.6h0M299.3 365.8h0M223.7 381.0h0M361.5 322.6h0M344.9 313.4h0M321.9 322.4h0M314.9 362.3h0M250.5 391.4h0M267.2 379.4h0M380.1 318.9h0M327.8 347.0h0M273.6 355.0h0M234.5 384.1h0M236.0 357.0h0M205.3 373.0h0M259.7 390.7h0M380.2 293.7h0M263.4 345.5h0M252.3 387.9h0M386.3 276.6h0M357.2 288.8h0M286.2 343.7h0M275.0 335.2h0M261.2 366.3h0M270.4 386.7h0M267.7 374.4h0M291.1 355.7h0M240.8 381.8h0M278.9 397.1h0M253.3 389.4h0M281.7 379.4h0M276.5 349.1h0M238.3 378.9h0M279.7 374.4h0M245.2 362.8h0M299.2 373.2h0M268.0 335.9h0M257.3 409.4h0M275.6 369.2h0M242.9 389.1h0M235.7 373.9h0M295.9 370.5h0M294.8 369.2h0M286.0 343.1h0M252.3 389.2h0M276.3 368.0h0M290.9 361.9h0M246.5 391.2h0M303.0 383.1h0M310.9 380.6h0M287.6 370.4h0M268.1 367.7h0M243.5 368.2h0M245.8 374.5h0M248.2 381.4h0M248.1 377.5h0M288.1 373.4h0M280.2 376.2h0M251.6 406.0h0M353.5 289.2h0M315.4 314.6h0M402.1 308.4h0M453.9 270.1h0M433.0 266.6h0M463.2 284.2h0M317.2 301.0h0M417.5 282.2h0M431.3 266.6h0M360.2 312.7h0M360.8 307.2h0M432.7 299.5h0M345.7 302.9h0M340.9 306.3h0M426.3 298.8h0M433.6 247.6h0M465.8 278.2h0M468.5 273.5h0M470.2 268.3h0M390.8 310.0h0M398.4 302.1h0M490.3 271.1h0M458.1 254.9h0M428.3 295.9h0M472.1 259.6h0M477.7 245.5h0M492.2 264.0h0" stroke="#8c564b" stroke-opacity="0.6" stroke-width="5.8" stroke-linecap="round" fill="none"/>
<path d="M211.9 406.4h0M216.8 391.9h0M158.0 433.2h0M182.1 389.2h0M173.9 415.1h0M187.4 379.2h0M196.4 415.0h0M152.2 450.9h0M121.1 457.8h0M253.5 369.5h0M211.9 398.9h0M228.1 367.7h0M140.8 462.6h0M143.8 443.9h0M212.4 412.7h0M235.8 349.5h0M234.4 374.8h0M207.8 403.4h0M203.1 403.7h0M161.3 422.5h0M94.6 479.8h0M173.1 415.6h0M114.2 470.5h0M150.3 439.5h0M208.3 391.3h0M146.2 433.9h0M242.8 375.3h0M181.6 425.3h0M180.0 382.4h0M252.0 346.1h0M222.9 385.7h0M98.9 475.8h0M196.2 396.5h0M232.5 377.1h0M222.0 378.0h0M153.0 430.1h0M243.2 361.9h0M200.3 388.0h0M88.5 477.4h0M185.8 390.1h0M158.2 419.5h0M212.9 385.8h0M258.0 359.7h0M210.1 405.0h0M237.5 370.3h0M121.7 469.3h0M240.0 371.6h0M174.4 419.4h0M236.4 378.0h0M219.6 377.4h0M139.7 435.3h0M213.1 400.1h0M261.2 373.3h0M178.6 435.4h0M242.3 360.3h0M118.8 444.6h0M159.0 431.1h0M226.3 373.5h0M96.6 481.2h0M212.7 381.9h0M247.3 352.0h0M140.4 444.5h0M179.5 402.1h0M130.2 441.7h0M209.5 384.4h0M128.0 442.4h0M104.6 466.8h0M185.8 405.0h0M180.4 409.7h0M234.5 382.5h0M156.6 451.9h0M105.7 473.4h0M122.6 461.7h0M223.0 371.0h0M86.7 474.1h0M148.9 432.3h0M149.0 412.6h0M200.0 411.7h0M245.3 339.0h0M170.8 422.4h0M211.3 410.4h0M171.0 422.5h0M261.1 369.9h0M106.6 460.5h0M211.1 365.0h0M237.2 366.1h0M191.8 410.1h0M240.5 384.8h0M227.3 375.6h0M220.1 385.5h0M113.2 454.1h0M148.2 422.8h0M235.6 402.8h0M114.5 446.0h0M192.1 404.4h0M228.0 386.9h0M101.5 478.8h0M182.7 418.6h0M229.9 377.4h0M255.7 356.0h0M142.2 438.8h0M182.0 404.6h0M202.8 409.2h0M255.2 358.1h0M218.4 391.9h0M181.7 425.0h0M212.3 370.9h0M88.7 474.7h0M84.7 476.3h0M229.1 388.1h0M80.3 480.9h0M97.2 470.1h0M151.3 434.7h0M152.0 426.7h0M147.0 448.8h0M191.4 405.2h0M84.8 483.5h0M184.1 380.9h0M186.8 399.9h0M203.8 400.2h0M139.8 425.9h0M124.1 443.5h0M111.3 458.4h0M128.7 463.2h0M204.0 376.2h0M177.6 429.6h0M168.8 431.5h0M256.4 353.9h0M151.3 429.1h0M126.5 437.9h0M113.8 459.1h0M224.6 403.4h0M90.8 478.4h0M254.0 350.5h0M231.4 376.5h0M255.9 352.5h0M137.8 424.4h0M202.9 421.1h0M242.9 375.8h0M83.2 480.0h0M176.8 412.1h0M104.0 458.0h0M259.9 358.1h0M212.9 402.3h0M213.9 376.7h0M247.8 344.5h0M223.1 364.2h0M205.2 381.4h0M222.7 358.9h0M209.7 393.9h0M129.6 453.2h0M182.3 417.3h0M167.7 410.6h0M209.7 396.9h0M137.4 439.8h0M257.6 361.0h0M108.6 464.1h0M170.1 405.9h0M171.7 438.0h0M235.4 365.0h0M204.5 389.5h0M216.6 397.5h0M109.4 470.6h0M136.3 468.5h0M212.3 385.4h0M164.4 445.4h0M79.3 480.1h0M100.4 459.6h0M225.1 388.1h0M239.2 372.2h0M136.4 446.8h0M185.0 422.7h0M152.6 448.5h0M247.7 367.9h0M264.4 365.4h0M148.7 429.7h0M266.4 366.8h0M218.3 396.3h0M200.1 428.3h0M113.8 470.1h0M111.3 470.5h0M195.5 384.0h0M170.3 412.8h0M222.2 384.5h0M259.2 366.6h0M143.5 426.4h0M198.7 394.6h0M144.5 451.1h0M237.4 378.5h0M228.3 393.4h0M136.1 456.4h0M189.3 405.1h0M90.1 481.1h0M211.7 410.1h0M195.2 419.7h0M168.7 425.7h0M123.0 452.8h0M152.1 426.0h0M209.8 384.5h0M158.7 438.4h0M92.0 481.2h0M200.8 404.5h0M126.9 457.0h0M190.5 391.9h0M148.0 463.4h0M99.3 480.3h0M145.8 444.3h0M207.0 386.7h0M107.6 456.4h0M158.8 428.6h0M199.6 368.1h0M254.7 352.9h0M171.5 416.6h0M191.9 408.0h0M163.7 427.7h0M123.5 467.3h0M151.2 434.9h0M390.5 295.6h0M361.8 328.2h0M357.0 278.8h0M295.1 389.0h0M376.6 282.9h0M230.9 413.0h0M213.1 387.4h0M315.5 357.0h0M332.7 316.8h0M235.2 373.8h0M286.9 367.9h0M247.0 352.3h0M251.5 399.0h0M350.7 324.8h0M244.4 378.1h0M330.2 352.0h0M353.8 297.1h0M331.5 355.1h0M336.6 339.8h0M402.0 301.4h0M376.4 346.9h0M252.0 398.3h0M406.0 309.4h0M317.2 361.5h0M313.7 353.1h0M236.4 402.7h0M258.6 348.8h0M217.4 389.4h0M378.0 282.0h0M337.0 348.4h0M334.9 342.4h0M313.0 342.0h0M247.2 384.2h0M222.1 368.2h0M306.2 330.9h0M231.6 384.4h0M223.7 381.6h0M346.5 312.8h0M282.5 365.7h0M258.2 355.5h0M388.5 326.9h0M268.8 381.7h0M386.6 308.3h0M280.4 370.7h0M342.0 347.8h0M374.3 317.7h0M230.2 344.8h0M380.4 292.3h0M327.0 340.4h0M305.0 373.0h0M300.4 356.7h0M308.7 339.8h0M325.6 317.4h0M308.8 331.3h0M317.6 361.8h0M296.5 391.5h0M201.7 361.3h0M235.8 404.0h0M273.3 365.8h0M332.0 336.8h0M395.1 318.7h0M381.6 335.9h0M280.3 342.5h0M385.3 312.1h0M345.5 337.5h0M250.8 376.3h0M286.7 360.5h0M380.1 284.1h0M212.5 379.9h0M280.0 374.2h0M277.0 372.3h0M293.5 341.8h0M224.9 359.4h0M280.6 354.5h0M265.4 365.8h0M268.1 349.0h0M241.7 390.2h0M297.3 349.2h0M284.2 348.4h0M265.8 370.1h0M246.5 358.8h0M255.0 389.5h0M245.4 355.1h0M242.3 375.4h0M253.2 396.8h0M263.2 380.2h0M274.2 352.7h0M302.6 360.4h0M292.8 360.4h0M299.7 373.0h0M257.6 363.2h0M257.6 365.3h0M290.0 339.0h0M243.7 389.4h0M300.3 360.7h0M252.9 364.8h0M255.7 374.1h0M267.9 394.0h0M247.7 383.8h0M246.1 387.1h0M267.5 386.0h0M274.6 359.5h0M251.9 363.5h0M243.9 397.2h0M268.5 387.1h0M282.4 371.6h0M305.5 369.3h0M291.3 335.0h0M410.5 303.9h0M438.9 280.1h0M386.1 277.2h0M452.1 252.2h0M375.3 323.4h0M437.5 264.1h0M449.4 282.6h0M421.0 254.2h0M415.3 301.8h0M329.3 327.1h0M522.2 252.1h0M444.8 279.3h0M406.9 275.4h0M458.4 259.0h0M516.8 241.4h0M417.1 301.9h0M508.9 255.5h0M422.2 283.6h0M426.1 268.9h0M394.3 272.6h0M387.0 293.3h0" stroke="#8c564b" stroke-opacity="0.6" stroke-width="5.8" stroke-linecap="round" fill="none"/>
<path d="M240.6 362.4h0M93.9 477.7h0M128.3 461.5h0M124.4 436.9h0M132.7 443.5h0M204.3 426.1h0M104.6 470.3h0M220.3 382.1h0M230.4 376.5h0M135.9 457.8h0M233.5 390.9h0M238.3 365.6h0M265.1 376.5h0M202.8 395.5h0M190.4 417.2h0M255.0 358.9h0M206.2 395.5h0M163.2 434.6h0M257.2 377.8h0M186.5 386.7h0M141.5 447.9h0M192.2 395.8h0M212.5 381.1h0M158.4 411.5h0M232.9 392.5h0M120.1 452.7h0M215.8 376.6h0M86.4 481.4h0M195.0 387.0h0M165.4 412.0h0M238.7 373.7h0M126.5 451.5h0M230.0 381.6h0M89.6 478.1h0M246.3 382.7h0M194.3 395.1h0M252.5 359.2h0M116.4 455.5h0M244.9 359.9h0M240.2 354.3h0M170.0 418.0h0M245.7 357.7h0M86.9 479.1h0M238.3 371.7h0M180.1 411.2h0M163.3 444.8h0M128.7 461.0h0M224.9 372.1h0M211.8 382.5h0M223.1 384.9h0M157.4 406.9h0M264.7 361.9h0M151.6 449.6h0M154.9 425.3h0M197.7 408.1h0M111.8 450.4h0M226.6 380.7h0M186.3 399.1h0M138.0 440.6h0M210.2 377.0h0M231.7 392.5h0M160.3 416.3h0M120.1 467.0h0M130.5 450.3h0M124.7 449.0h0M183.4 446.3h0M103.1 467.8h0M245.1 372.9h0M81.6 482.2h0M185.9 420.8h0M169.9 397.6h0M155.9 440.9h0M191.0 395.5h0M146.2 461.7h0M89.8 469.7h0M186.9 413.3h0M167.6 428.1h0M204.8 402.4h0M197.5 395.5h0M140.0 451.0h0M88.2 477.8h0M110.3 457.3h0M128.7 453.5h0M210.9 384.1h0M216.1 387.8h0M186.9 423.7h0M184.3 403.0h0M218.3 399.4h0M143.1 429.3h0M162.4 405.2h0M140.5 448.6h0M179.6 403.3h0M91.2 472.4h0M128.2 435.6h0M245.9 355.4h0M240.8 363.6h0M137.9 442.7h0M150.4 434.5h0M162.1 428.7h0M173.1 425.7h0M257.7 359.0h0M194.6 415.6h0M144.0 463.8h0M86.1 483.3h0M202.0 405.4h0M232.0 367.0h0M160.1 445.6h0M91.9 480.1h0M216.8 391.1h0M181.3 424.0h0M154.9 435.2h0M172.0 423.5h0M167.1 421.2h0M106.4 471.2h0M238.4 378.3h0M176.5 439.3h0M102.0 466.5h0M192.6 406.2h0M170.6 426.6h0M101.8 472.0h0M160.6 434.8h0M196.2 404.5h0M134.1 440.3h0M166.5 417.3h0M131.1 447.3h0M165.0 423.8h0M124.3 457.7h0M153.0 448.5h0M97.3 466.0h0M143.9 421.2h0M218.1 396.7h0M248.8 369.8h0M219.2 381.7h0M176.5 411.6h0M95.0 475.0h0M209.9 372.2h0M209.4 387.2h0M155.2 449.1h0M219.7 398.3h0M110.5 455.0h0M103.4 470.3h0M179.8 420.2h0M206.9 383.2h0M227.2 390.6h0M226.0 387.0h0M141.0 437.9h0M153.5 427.8h0M180.6 416.1h0M158.1 426.0h0M187.7 403.9h0M182.8 397.9h0M180.6 427.2h0M169.9 418.3h0M192.5 407.3h0M184.9 404.4h0M140.6 435.5h0M186.0 398.8h0M163.8 441.7h0M169.9 420.5h0M172.1 420.7h0M100.0 461.9h0M234.2 363.0h0M256.4 375.1h0M147.9 412.1h0M183.5 404.4h0M154.6 415.2h0M148.6 440.0h0M171.5 403.3h0M108.1 477.2h0M147.5 427.0h0M110.0 466.6h0M227.0 392.8h0M251.5 366.6h0M252.3 352.6h0M191.2 422.1h0M227.1 386.3h0M145.9 439.2h0M175.4 419.0h0M265.3 366.9h0M261.2 364.3h0M178.4 395.4h0M169.6 389.4h0M174.7 431.7h0M151.6 437.3h0M151.3 446.6h0M210.4 385.7h0M261.5 362.1h0M252.9 348.6h0M144.9 454.8h0M113.4 451.9h0M160.5 403.1h0M209.3 396.8h0M128.4 450.3h0M189.6 414.2h0M103.9 463.8h0M179.0 408.7h0M200.8 401.0h0M153.3 426.9h0M120.6 460.0h0M244.5 378.3h0M236.0 366.0h0M197.2 411.2h0M152.2 422.8h0M111.0 470.0h0M183.9 410.4h0M129.8 449.7h0M173.5 412.3h0M129.5 448.5h0M158.7 411.9h0M209.3 383.2h0M251.1 401.1h0M172.6 399.8h0M243.1 359.1h0M192.9 366.5h0M100.0 476.4h0M168.5 407.8h0M219.8 403.1h0M219.4 395.2h0M176.3 435.7h0M91.2 473.6h0M179.2 425.4h0M209.0 396.1h0M147.5 446.1h0M177.0 404.4h0M86.1 480.4h0M388.4 297.1h0M245.7 412.8h0M296.9 340.6h0M278.1 366.1h0M231.3 401.2h0M371.1 300.4h0M318.7 318.1h0M388.4 294.5h0M343.6 311.3h0M366.3 329.5h0M381.5 272.5h0M226.4 400.1h0M328.5 305.1h0M320.8 333.3h0M313.7 328.0h0M334.3 278.8h0M326.0 301.9h0M303.8 325.8h0M377.2 308.6h0M230.7 368.0h0M326.1 308.5h0M365.9 348.3h0M239.5 356.1h0M239.7 370.3h0M258.8 351.2h0M337.9 293.4h0M298.4 351.6h0M270.8 363.4h0M212.4 366.3h0M234.4 379.6h0M393.5 286.5h0M328.5 302.5h0M269.9 325.4h0M237.7 388.8h0M387.3 275.7h0M249.6 401.5h0M383.7 317.5h0M306.5 343.3h0M318.3 360.2h0M246.7 370.0h0M334.1 331.9h0M210.4 381.1h0M380.3 305.4h0M285.5 392.7h0M206.3 396.7h0M369.3 312.9h0M358.1 282.4h0M386.4 303.3h0M395.2 286.7h0M327.8 315.3h0M268.1 355.3h0M318.8 327.3h0M321.3 336.6h0M346.2 334.1h0M382.3 292.0h0M288.0 359.5h0M241.9 363.5h0M306.4 313.6h0M233.8 377.6h0M231.0 354.9h0M409.3 329.4h0M389.4 307.2h0M298.9 319.3h0M214.5 399.1h0M272.8 350.6h0M282.9 371.3h0M378.5 300.0h0M397.3 326.7h0M300.1 334.5h0M282.7 360.6h0M262.4 356.5h0M238.7 379.2h0M243.9 374.4h0M244.7 382.4h0M293.1 360.2h0M315.8 370.4h0M278.6 376.2h0M244.5 378.2h0M259.9 357.4h0M300.3 356.6h0M257.9 361.2h0M275.7 378.6h0M267.2 383.1h0M303.5 377.2h0M286.2 376.2h0M247.9 385.4h0M265.4 395.3h0M253.0 367.7h0M290.4 341.6h0M262.8 406.8h0M261.7 375.8h0M237.4 376.6h0M243.0 376.6h0M300.0 365.5h0M258.2 377.8h0M257.4 360.4h0M281.1 338.2h0M267.3 358.7h0M255.1 373.9h0M237.5 367.5h0M354.6 294.1h0M443.9 270.7h0M451.9 266.3h0M365.0 314.8h0M452.0 255.9h0M339.6 305.1h0M335.1 305.1h0M391.2 292.5h0M456.1 266.6h0M398.9 268.6h0M382.0 306.0h0M487.2 242.2h0M487.3 263.5h0M401.5 288.5h0M498.9 244.0h0M493.6 256.5h0M505.4 227.6h0M453.0 283.7h0M507.1 247.0h0M520.1 245.9h0M436.4 303.8h0M399.7 280.4h0M398.4 283.7h0M428.6 269.6h0M413.9 277.6h0M497.1 245.1h0M517.5 237.1h0" stroke="#8c564b" stroke-opacity="0.6" stroke-width="5.8" stroke-linecap="round" fill="none"/>
<path d="M858.5 335.0h0M793.7 402.3h0M746.3 462.5h0M834.7 389.9h0M730.7 469.2h0M900.3 311.6h0M879.7 316.9h0M836.6 368.7h0M770.0 433.5h0M724.2 477.9h0M767.3 437.2h0M836.8 388.6h0M842.9 360.7h0M866.4 321.7h0M881.1 317.1h0M789.8 408.5h0M824.4 369.9h0M847.2 360.6h0M895.0 300.1h0M797.8 394.0h0M795.1 405.5h0M796.4 420.3h0M846.3 361.7h0M727.6 480.5h0M794.3 407.8h0M860.6 337.2h0M852.3 375.9h0M874.9 349.2h0M725.0 481.2h0M820.4 407.3h0M813.2 397.2h0M815.1 407.3h0M755.4 445.5h0M862.2 345.0h0M779.8 430.5h0M825.1 370.1h0M851.9 356.5h0M838.5 378.5h0M787.0 403.3h0M889.8 321.1h0M787.3 424.5h0M804.1 408.4h0M869.6 346.9h0M837.1 359.3h0M803.7 390.6h0M851.1 342.5h0M812.3 389.4h0M769.1 418.0h0M838.3 341.4h0M802.3 396.6h0M887.5 293.4h0M805.6 370.8h0M775.9 435.5h0M768.4 415.1h0M813.7 383.1h0M874.6 328.5h0M740.8 463.6h0M781.0 411.9h0M843.7 368.7h0M830.4 343.3h0M737.7 478.1h0M836.1 378.0h0M860.5 347.3h0M761.5 450.6h0M779.6 447.4h0M880.6 312.2h0M783.8 413.1h0M822.4 398.1h0M840.5 361.7h0M766.8 417.8h0M767.5 428.1h0M884.5 310.0h0M901.0 303.3h0M897.9 301.8h0M724.8 478.3h0M878.2 355.8h0M802.4 397.4h0M911.5 325.7h0M800.6 385.4h0M757.2 439.3h0M895.8 319.0h0M866.1 333.3h0M811.4 382.9h0M783.8 402.3h0M795.9 397.5h0M820.4 396.5h0M815.7 392.6h0M776.5 426.3h0M823.4 371.9h0M815.1 414.6h0M855.9 344.6h0M853.5 359.5h0M764.9 443.7h0M785.2 406.1h0M794.3 400.6h0M745.4 465.1h0M768.8 429.7h0M895.1 303.0h0M833.2 387.8h0M862.5 331.7h0M824.8 377.2h0M762.0 469.1h0M846.7 370.7h0M817.6 390.7h0M855.3 373.5h0M755.5 456.3h0M843.5 346.4h0M899.8 267.8h0M901.5 292.2h0M958.6 260.6h0M896.4 247.6h0M976.0 180.7h0M938.0 239.6h0M956.4 178.8h0M931.3 246.5h0M918.1 325.4h0M984.7 216.1h0M995.1 200.6h0M945.7 250.2h0M920.7 267.7h0M917.8 249.8h0M949.4 242.0h0M971.6 196.7h0M897.2 290.5h0M901.5 303.5h0M958.4 256.6h0M999.4 190.5h0M972.9 250.2h0M1000.4 203.8h0M964.4 212.9h0M937.9 248.3h0M951.0 212.2h0M952.4 243.4h0M973.8 231.2h0M1004.1 213.9h0M918.3 264.9h0M869.1 288.7h0M910.3 275.1h0M982.7 219.3h0M927.8 254.8h0M957.2 237.7h0M967.7 241.8h0M893.7 292.1h0M1011.7 204.0h0M931.8 293.1h0M951.5 219.1h0M971.5 235.9h0M943.3 235.3h0M913.2 229.5h0M960.9 236.3h0M872.4 281.0h0M893.1 279.8h0M941.3 215.0h0M981.4 250.8h0M943.1 232.5h0M915.3 288.3h0M915.2 263.2h0M968.9 216.5h0M984.4 195.0h0M977.6 208.2h0M925.2 237.8h0M1007.8 210.8h0M954.2 232.2h0M938.3 230.3h0M1015.3 151.8h0M1058.0 108.2h0M986.7 158.6h0M959.8 194.9h0M954.6 186.3h0M1070.8 88.1h0M1124.0 53.7h0M1066.3 85.5h0M969.4 167.5h0M1011.4 149.6h0M983.9 166.1h0M975.6 180.8h0M1014.6 165.4h0M949.3 183.0h0M1088.1 71.5h0M968.6 204.8h0M1126.1 78.2h0M1060.4 128.9h0M1044.5 157.9h0" stroke="#1f77b4" stroke-opacity="0.6" stroke-width="5.8" stroke-linecap="round" fill="none"/>
<path d="M788.5 415.9h0M826.5 378.4h0M890.7 314.2h0M804.0 400.6h0M873.0 315.2h0M807.7 415.0h0M726.3 470.9h0M862.3 327.9h0M813.6 390.2h0M776.5 425.6h0M751.3 446.8h0M753.2 441.6h0M820.1 396.1h0M726.8 474.8h0M785.5 412.9h0M858.0 340.2h0M827.1 386.0h0M889.3 327.6h0M889.8 311.5h0M832.1 367.1h0M801.5 409.6h0M775.7 432.5h0M898.0 306.4h0M871.2 327.1h0M836.1 373.6h0M859.4 317.8h0M849.3 335.5h0M777.4 429.4h0M843.9 327.2h0M772.7 422.3h0M823.2 367.4h0M795.3 395.6h0M877.2 352.0h0M778.0 413.8h0M845.8 361.7h0M893.2 293.9h0M883.0 300.1h0M790.8 415.1h0M744.2 472.1h0M831.4 383.1h0M873.8 330.4h0M882.7 313.8h0M880.9 332.4h0M803.0 404.4h0M786.8 416.5h0M823.8 363.5h0M778.9 431.0h0M852.1 362.4h0M764.2 447.2h0M803.2 402.7h0M751.6 462.4h0M848.7 357.4h0M736.3 462.9h0M828.4 395.5h0M764.9 446.6h0M806.6 386.0h0M765.8 462.5h0M785.5 413.6h0M819.3 386.7h0M847.6 366.7h0M871.3 320.3h0M877.3 320.9h0M844.0 378.7h0M807.8 393.4h0M756.2 435.2h0M779.4 425.7h0M808.0 377.0h0M736.8 474.4h0M759.3 428.0h0M767.4 436.4h0M751.1 449.9h0M866.7 354.5h0M843.4 372.7h0M897.5 318.5h0M892.2 306.0h0M867.6 344.7h0M784.5 420.6h0M748.6 455.5h0M847.2 361.4h0M854.8 341.1h0M894.1 315.6h0M780.6 420.6h0M788.7 413.4h0M761.3 434.9h0M777.7 425.7h0M753.7 446.7h0M732.3 473.6h0M757.8 455.9h0M760.7 460.8h0M819.2 384.3h0M867.4 294.5h0M727.0 469.1h0M763.2 443.2h0M784.1 417.0h0M801.7 388.5h0M780.8 427.8h0M760.4 444.5h0M845.5 360.4h0M802.5 422.3h0M885.2 297.4h0M798.9 401.9h0M864.5 329.1h0M756.3 468.0h0M771.8 436.2h0M988.2 209.2h0M950.2 251.9h0M923.3 258.8h0M953.5 285.7h0M969.5 209.5h0M912.2 302.3h0M967.9 216.4h0M955.9 220.5h0M963.4 243.4h0M989.0 195.1h0M939.2 245.2h0M928.9 269.8h0M899.7 272.2h0M959.4 258.4h0M933.2 314.3h0M891.0 297.4h0M971.0 213.1h0M930.4 251.7h0M897.3 264.1h0M968.6 237.7h0M929.8 251.3h0M941.8 246.3h0M1016.2 209.9h0M889.5 303.9h0M962.9 231.9h0M972.6 188.9h0M976.6 199.9h0M987.8 168.5h0M938.9 232.1h0M978.5 203.5h0M986.5 213.5h0M963.0 177.5h0M966.3 223.5h0M938.3 243.0h0M911.7 260.8h0M902.9 305.8h0M996.9 214.8h0M997.5 193.2h0M884.3 299.5h0M987.7 210.0h0M936.7 263.2h0M955.8 206.2h0M957.1 250.2h0M949.6 205.7h0M899.8 266.4h0M974.9 216.7h0M990.5 198.8h0M1093.0 136.8h0M1056.5 119.3h0M1088.7 119.4h0M1096.8 113.3h0M1110.0 82.8h0M1068.3 153.2h0M991.2 175.7h0M1018.2 137.2h0M1018.7 143.9h0M1129.7 59.3h0M1058.9 109.0h0M1035.8 160.2h0M1067.1 123.0h0M1088.2 94.2h0M1081.6 101.8h0M1017.4 161.2h0M1139.0 75.2h0M1038.6 111.6h0M1075.7 127.4h0M1118.4 90.7h0M997.2 159.6h0M1005.2 167.4h0" stroke="#1f77b4" stroke-opacity="0.6" stroke-width="5.8" stroke-linecap="round" fill="none"/>
<path d="M801.6 375.1h0M797.7 411.4h0M841.7 358.9h0M827.0 359.5h0M799.1 417.3h0M860.2 335.2h0M798.7 403.4h0M776.4 422.3h0M790.6 432.1h0M823.0 393.5h0M866.3 328.5h0M873.2 316.7h0M864.7 330.9h0M754.3 436.0h0M726.2 478.0h0M839.0 370.6h0M756.1 466.6h0M830.5 378.8h0M853.3 362.7h0M878.0 337.7h0M776.1 426.2h0M896.7 333.8h0M872.8 306.1h0M853.5 331.2h0M748.4 454.2h0M723.3 483.3h0M743.5 456.0h0M839.0 343.3h0M783.3 427.5h0M740.0 465.0h0M889.3 332.4h0M787.0 424.6h0M780.5 400.5h0M856.6 334.0h0M885.0 320.9h0M887.9 308.5h0M826.1 379.0h0M889.1 320.1h0M881.8 338.4h0M824.4 374.9h0M832.4 360.0h0M893.2 311.7h0M822.7 379.6h0M754.3 436.8h0M859.4 340.0h0M781.3 412.1h0M897.5 326.5h0M766.4 438.2h0M736.8 468.7h0M743.8 451.2h0M781.9 413.4h0M837.3 362.3h0M816.6 383.8h0M878.1 308.8h0M779.8 415.3h0M784.7 419.2h0M829.1 369.9h0M862.8 336.8h0M764.5 430.5h0M837.2 348.4h0M854.6 346.1h0M803.9 412.3h0M799.5 413.2h0M860.7 334.9h0M817.2 371.2h0M835.9 359.7h0M749.1 462.2h0M803.7 387.6h0M841.9 363.7h0M895.7 298.4h0M761.9 463.8h0M781.3 414.7h0M752.0 444.1h0M861.5 372.6h0M800.6 389.4h0M862.4 356.2h0M773.1 435.2h0M888.2 325.6h0M748.6 448.9h0M877.4 332.1h0M734.7 467.3h0M743.0 459.2h0M786.6 418.7h0M777.9 413.5h0M790.2 434.4h0M775.9 425.4h0M834.3 361.6h0M806.0 392.5h0M790.3 412.4h0M784.6 444.1h0M892.5 323.9h0M998.9 193.1h0M998.2 218.8h0M913.2 245.6h0M896.4 280.1h0M919.4 269.6h0M991.6 216.0h0M915.6 302.0h0M968.1 245.5h0M905.2 305.3h0M980.9 229.9h0M1005.7 218.3h0M984.2 217.0h0M928.2 221.9h0M970.3 196.9h0M929.6 255.1h0M890.1 264.8h0M949.6 209.8h0M929.1 245.9h0M971.2 276.3h0M949.6 252.4h0M975.5 158.2h0M963.1 217.3h0M968.8 196.4h0M993.0 176.2h0M898.2 264.8h0M899.6 252.6h0M897.6 304.2h0M939.7 210.5h0M926.4 265.6h0M926.9 236.8h0M975.3 201.6h0M938.0 259.1h0M946.3 247.8h0M984.4 167.7h0M958.8 224.5h0M958.3 234.0h0M945.6 304.5h0M988.7 200.2h0M981.0 222.5h0M920.5 261.6h0M920.0 277.8h0M959.3 197.2h0M923.1 251.5h0M893.3 303.5h0M963.1 208.1h0M940.9 246.2h0M894.3 263.5h0M1003.4 226.4h0M968.9 169.0h0M915.4 293.7h0M883.6 292.5h0M988.3 190.4h0M901.0 282.4h0M955.1 258.5h0M894.9 312.5h0M945.8 214.4h0M941.1 304.7h0M907.6 271.9h0M903.0 267.3h0M939.7 245.6h0M939.8 234.9h0M1041.0 167.8h0M1084.3 139.6h0M1135.4 73.8h0M1028.0 203.5h0M973.8 187.1h0M1101.4 71.6h0M1026.0 169.6h0M1105.0 90.2h0M1003.4 166.9h0M1110.8 118.0h0M1089.9 94.0h0M1036.8 138.5h0M1090.0 107.3h0" stroke="#1f77b4" stroke-opacity="0.6" stroke-width="5.8" stroke-linecap="round" fill="none"/>
<path d="M883.1 306.4h0M735.8 472.2h0M792.4 389.7h0M848.4 362.6h0M878.8 324.4h0M812.9 396.7h0M850.7 332.2h0M878.9 351.6h0M888.6 334.7h0M802.7 406.5h0M752.3 455.3h0M790.9 426.5h0M830.7 333.6h0M855.4 391.5h0M738.6 470.2h0M794.5 406.8h0M778.5 438.0h0M831.9 360.8h0M742.5 461.3h0M863.3 347.0h0M848.2 352.9h0M871.2 316.3h0M795.2 402.5h0M808.7 404.7h0M780.0 434.1h0M857.5 354.0h0M743.5 466.6h0M759.5 456.0h0M734.9 466.2h0M883.5 331.7h0M895.5 325.0h0M825.8 372.8h0M789.3 441.5h0M837.1 377.6h0M877.5 321.0h0M778.8 429.0h0M752.6 443.9h0M894.8 310.6h0M851.0 325.1h0M757.1 447.7h0M897.3 312.0h0M857.4 332.3h0M779.5 439.2h0M799.7 395.8h0M787.3 425.9h0M834.6 379.2h0M876.7 339.7h0M850.0 328.7h0M862.9 349.8h0M736.8 461.7h0M885.5 296.2h0M811.2 390.1h0M828.1 396.6h0M844.6 374.4h0M780.6 428.6h0M798.2 397.1h0M777.9 447.2h0M791.4 412.8h0M877.5 347.0h0M812.0 375.9h0M821.4 379.0h0M821.1 384.6h0M768.1 435.5h0M858.4 354.1h0M851.9 343.7h0M872.1 365.0h0M889.8 306.9h0M767.1 453.0h0M743.9 450.3h0M863.8 345.7h0M808.5 379.5h0M771.9 415.9h0M802.5 398.7h0M868.1 357.4h0M849.5 355.5h0M825.2 386.7h0M733.3 461.7h0M894.2 310.0h0M879.1 346.2h0M773.1 426.6h0M751.1 469.9h0M764.4 431.4h0M802.7 375.0h0M774.0 413.2h0M758.9 456.6h0M846.2 362.5h0M824.8 394.4h0M738.0 459.7h0M853.4 324.0h0M793.0 420.2h0M843.2 354.5h0M864.2 337.0h0M867.8 330.7h0M892.9 299.5h0M846.5 345.1h0M823.7 361.2h0M757.6 443.9h0M821.5 391.1h0M993.6 227.5h0M953.6 243.8h0M975.9 215.9h0M1005.9 193.6h0M925.7 238.3h0M904.8 270.0h0M962.0 309.6h0M962.5 219.4h0M981.0 217.1h0M893.7 301.3h0M1019.0 199.3h0M974.6 251.6h0M988.4 213.1h0M983.8 210.2h0M968.0 218.5h0M903.1 287.3h0M950.1 239.2h0M898.9 251.5h0M973.2 168.7h0M904.2 265.0h0M975.3 204.1h0M973.1 208.3h0M908.0 271.3h0M880.1 299.0h0M903.6 239.6h0M887.8 298.1h0M982.2 172.4h0M943.4 245.0h0M927.5 214.5h0M1007.2 203.5h0M935.5 282.9h0M892.5 279.8h0M904.5 305.6h0M921.5 232.9h0M915.2 268.2h0M1009.6 193.1h0M974.4 167.8h0M933.1 234.8h0M953.1 269.1h0M919.2 227.7h0M965.8 212.6h0M936.2 203.1h0M926.2 234.7h0M979.2 253.0h0M944.0 213.7h0M921.5 261.1h0M994.9 177.0h0M990.7 193.1h0M928.2 276.6h0M896.1 311.0h0M907.1 257.1h0M933.5 247.4h0M970.3 190.4h0M972.9 194.8h0M883.8 264.8h0M1037.2 165.5h0M1010.2 158.2h0M963.3 203.1h0M1073.0 88.6h0M1022.7 199.6h0M978.8 224.1h0M993.9 166.8h0M1044.2 151.7h0M1044.1 163.0h0M1059.2 119.9h0M1073.6 122.7h0M1014.0 173.6h0M1129.7 76.1h0M1026.3 157.7h0M979.7 208.0h0M1034.7 150.3h0M1074.8 103.9h0M1032.9 175.9h0M973.8 214.6h0M1007.1 140.7h0M1093.1 141.9h0" stroke="#1f77b4" stroke-opacity="0.6" stroke-width="5.8" stroke-linecap="round" fill="none"/>
<path d="M797.3 433.0h0M768.1 446.3h0M788.7 434.8h0M802.8 431.7h0M756.3 455.9h0M798.4 432.0h0M762.1 452.6h0M800.7 430.6h0M779.3 439.4h0M803.8 420.8h0M743.7 466.7h0M791.7 433.3h0M750.1 456.2h0M795.3 434.7h0M777.1 443.0h0M747.9 460.0h0M786.6 440.2h0M766.3 455.2h0M780.6 444.4h0M757.1 455.1h0M792.8 440.2h0" stroke="#ff7f0e" stroke-opacity="0.6" stroke-width="5.8" stroke-linecap="round" fill="none"/>
<path d="M777.4 446.8h0M758.8 452.4h0M778.2 448.1h0M782.5 442.8h0M782.4 440.1h0M776.5 444.1h0M756.6 458.4h0M772.4 444.6h0M770.0 452.7h0M781.0 445.5h0M779.8 444.7h0M794.4 434.3h0M799.4 431.4h0M806.6 430.8h0" stroke="#ff7f0e" stroke-opacity="0.6" stroke-width="5.8" stroke-linecap="round" fill="none"/>
<path d="M780.0 439.4h0M746.8 463.0h0M746.1 463.2h0M776.2 448.2h0M783.0 440.8h0M772.1 447.1h0M798.2 431.3h0M781.4 441.0h0M770.7 446.4h0M802.0 421.8h0M778.8 435.4h0M745.0 466.1h0" stroke="#ff7f0e" stroke-opacity="0.6" stroke-width="5.8" stroke-linecap="round" fill="none"/>
<path d="M751.9 457.9h0M772.7 444.5h0M792.6 431.9h0M777.2 442.6h0M770.5 452.4h0M768.1 446.6h0M785.7 442.4h0M798.5 431.7h0M746.8 458.4h0M802.2 432.3h0M770.1 448.6h0M780.1 445.3h0M807.2 426.3h0" stroke="#ff7f0e" stroke-opacity="0.6" stroke-width="5.8" stroke-linecap="round" fill="none"/>
<path d="M885.5 371.2h0M755.2 456.6h0M781.7 449.4h0M758.2 454.6h0M761.6 444.1h0M873.9 391.2h0M886.0 373.8h0M765.5 442.3h0M810.5 429.2h0M814.4 423.7h0M742.8 470.9h0M877.7 386.9h0M806.7 421.9h0M773.8 435.6h0M887.3 371.0h0M732.4 470.9h0M869.5 390.2h0M777.8 443.4h0M869.4 393.4h0M743.1 466.0h0M821.1 423.5h0M783.1 435.0h0M809.5 434.4h0M838.7 393.8h0M757.9 451.1h0M732.5 474.2h0M881.5 383.5h0M866.9 378.6h0M821.7 410.9h0M880.8 374.3h0M867.4 384.5h0M742.9 468.8h0M745.6 464.2h0M738.1 467.8h0M872.0 379.7h0M798.1 433.1h0M805.5 428.4h0M837.3 400.3h0M868.9 388.3h0M792.6 431.8h0M867.2 389.8h0M865.4 379.6h0M791.0 440.4h0M837.3 412.0h0M822.0 421.9h0" stroke="#2ca02c" stroke-opacity="0.6" stroke-width="5.8" stroke-linecap="round" fill="none"/>
<path d="M867.7 390.2h0M886.3 378.7h0M867.4 378.9h0M892.1 374.1h0M889.5 369.0h0M769.4 451.5h0M854.5 395.9h0M844.2 408.2h0M894.5 373.2h0M869.8 389.3h0M851.9 393.4h0M839.8 402.9h0M750.6 459.8h0M855.5 404.5h0M850.2 393.2h0M835.4 401.3h0M760.3 462.0h0M840.7 410.8h0M890.5 368.6h0M888.0 367.3h0M805.0 429.9h0M814.1 419.9h0M739.9 470.2h0M881.9 383.5h0M777.7 449.7h0M769.0 449.0h0M774.8 434.4h0M824.0 413.9h0M850.9 389.2h0M809.6 432.6h0M797.6 438.9h0M873.3 376.0h0M806.8 430.9h0M747.5 469.4h0M829.4 411.4h0" stroke="#2ca02c" stroke-opacity="0.6" stroke-width="5.8" stroke-linecap="round" fill="none"/>
<path d="M838.0 412.7h0M737.9 470.8h0M821.1 416.0h0M832.0 414.3h0M884.2 379.7h0M894.5 366.7h0M808.3 412.2h0M881.1 380.3h0M829.8 410.0h0M755.4 460.8h0M735.7 475.0h0M830.7 401.5h0M765.9 454.0h0M752.7 463.0h0M748.9 458.6h0M833.8 415.8h0M737.2 474.6h0M762.0 456.7h0M783.1 434.6h0M814.9 422.7h0M817.1 418.3h0M856.1 394.5h0M745.0 468.1h0M883.0 374.5h0M883.7 374.9h0M836.0 418.5h0M852.7 386.6h0M848.2 405.5h0M825.5 410.5h0M766.9 444.5h0" stroke="#2ca02c" stroke-opacity="0.6" stroke-width="5.8" stroke-linecap="round" fill="none"/>
<path d="M808.5 420.7h0M824.7 407.7h0M848.7 392.6h0M817.3 427.3h0M809.4 426.4h0M743.6 469.1h0M766.8 456.3h0M868.7 387.0h0M812.3 423.6h0M868.6 384.0h0M745.6 467.1h0M897.2 370.1h0M840.5 408.9h0M830.6 408.9h0M864.4 396.3h0M826.2 409.6h0M799.8 429.4h0M808.4 428.5h0M893.4 367.7h0M777.8 449.1h0M882.7 378.2h0M858.6 393.8h0M824.1 419.6h0M836.6 412.9h0M779.4 444.3h0M756.8 460.0h0M772.9 438.0h0M802.9 434.4h0M745.8 463.5h0M789.7 440.7h0M770.6 443.1h0M893.9 370.2h0M874.6 373.7h0M864.7 386.7h0M775.1 453.8h0M818.2 419.8h0M857.3 386.0h0M775.5 450.7h0M771.1 456.9h0M733.8 471.0h0" stroke="#2ca02c" stroke-opacity="0.6" stroke-width="5.8" stroke-linecap="round" fill="none"/>
<path d="M883.7 366.3h0M839.7 381.8h0M810.9 402.4h0M840.7 385.6h0M780.0 422.0h0M767.9 448.6h0M759.4 456.1h0M832.9 383.9h0M757.4 452.6h0M863.1 371.0h0M859.5 372.6h0M842.8 373.1h0M761.1 463.2h0M848.7 375.4h0M863.4 369.0h0M793.9 415.0h0M843.0 379.3h0M814.6 399.2h0M785.6 442.3h0M778.0 452.1h0M809.7 399.4h0M749.9 473.9h0M876.0 371.4h0M833.4 383.1h0M842.4 405.1h0M844.2 354.3h0M824.4 410.0h0M791.6 427.5h0M824.8 395.3h0M802.7 415.0h0M742.4 461.5h0M863.3 370.3h0M763.1 435.5h0M806.7 399.5h0M888.4 347.9h0M842.7 397.3h0M793.9 418.7h0M853.7 348.5h0M797.0 435.8h0M855.6 375.9h0M816.6 403.4h0M747.0 447.1h0M865.8 363.7h0M749.1 461.7h0M731.2 479.5h0M883.7 339.4h0M889.0 342.9h0M881.8 326.3h0M889.9 353.9h0M823.5 374.6h0M784.9 400.0h0M767.0 440.5h0M850.0 351.5h0M849.7 369.3h0M831.6 406.1h0M760.4 437.8h0M761.9 447.3h0M889.1 341.4h0M832.9 396.6h0M839.3 368.5h0M877.6 339.9h0M881.2 344.6h0M797.8 421.3h0M884.5 381.5h0M856.2 372.4h0M828.9 409.6h0M801.8 399.0h0M879.1 336.8h0M890.1 351.3h0M807.9 398.0h0M887.6 355.6h0M758.6 437.3h0M845.7 383.8h0M875.6 337.4h0M735.0 465.1h0M895.6 337.2h0M815.7 403.8h0M796.7 419.1h0M805.9 402.4h0M881.5 344.7h0M864.6 355.5h0M873.6 343.2h0M799.2 423.3h0M746.8 474.7h0M877.8 351.8h0M752.1 473.0h0M837.1 361.1h0M871.8 357.7h0M816.0 406.5h0M887.4 350.0h0M780.9 420.2h0M792.6 425.9h0M793.5 458.8h0M873.7 370.8h0M863.2 371.5h0M870.3 320.2h0M777.0 412.6h0M791.3 420.7h0M783.1 427.8h0M775.3 431.4h0M871.3 393.3h0M868.3 351.0h0M819.3 423.0h0M871.3 346.9h0M837.7 389.0h0M878.2 334.4h0M764.8 433.5h0M872.4 343.6h0M813.2 392.7h0M789.5 453.6h0M847.1 398.3h0M769.9 445.8h0M784.8 449.5h0M777.0 449.5h0M873.8 349.4h0M722.0 481.7h0M784.5 447.7h0M785.7 417.8h0M834.9 382.7h0M749.3 475.6h0M824.5 369.2h0M809.5 431.4h0M755.8 457.2h0M842.4 398.3h0M825.5 377.1h0M871.6 346.2h0M769.6 432.0h0M868.6 326.2h0M739.6 460.2h0M766.5 437.3h0M897.3 353.0h0M782.9 433.6h0M767.1 453.3h0M882.8 345.4h0M777.7 442.4h0M785.1 417.8h0M896.4 291.3h0M955.6 311.8h0M983.7 280.1h0M979.4 255.7h0M937.9 297.2h0M926.8 301.1h0M859.7 344.6h0M886.9 316.2h0M996.3 273.3h0M919.0 304.0h0M931.5 269.9h0M966.1 272.5h0M970.8 273.4h0M926.0 310.9h0M940.4 286.0h0M965.2 303.9h0M948.7 309.2h0M949.2 296.7h0M850.6 344.2h0M970.2 241.1h0M883.0 303.0h0M982.0 251.0h0M871.9 355.5h0M948.5 257.7h0M977.3 333.7h0M1005.8 272.0h0M849.7 325.8h0M895.0 307.9h0M854.1 321.7h0M942.2 292.3h0M974.7 277.2h0M875.3 343.1h0M960.1 304.6h0M886.0 316.1h0M931.6 266.4h0M942.2 303.1h0M1019.8 288.6h0M899.6 319.4h0M880.4 341.4h0M970.3 254.2h0M929.2 325.4h0M894.7 309.6h0M950.4 302.8h0M879.9 345.0h0M918.5 287.5h0M920.4 358.6h0M982.6 314.4h0M941.7 291.8h0M909.9 297.7h0M865.4 329.8h0M1012.1 286.6h0M921.1 289.9h0M912.3 276.7h0M921.1 316.6h0M942.0 309.2h0M883.0 382.2h0M896.4 342.6h0M940.7 296.0h0M907.4 355.8h0M913.7 322.1h0M906.1 305.3h0M843.6 333.5h0M920.2 277.3h0M988.4 278.5h0M919.2 326.7h0M1002.3 331.5h0M908.2 353.8h0M966.2 240.9h0M894.5 288.2h0M998.5 250.7h0M978.7 277.3h0M877.5 334.6h0M881.0 345.9h0M909.0 284.7h0M850.1 353.1h0M929.3 278.2h0M932.2 294.2h0M828.3 356.3h0M885.1 337.8h0M876.6 344.9h0M926.9 269.3h0M879.6 314.6h0M878.9 332.5h0M910.4 290.6h0M868.5 386.2h0M931.9 315.0h0M899.1 307.3h0M901.2 376.1h0M841.6 353.6h0M918.6 307.5h0M866.6 381.9h0M880.2 329.8h0M948.8 263.8h0M842.7 381.2h0M810.4 373.4h0M907.6 287.9h0M912.1 341.7h0M881.6 324.5h0M874.2 351.9h0M887.2 309.5h0M902.8 269.7h0M934.1 295.1h0M851.8 321.8h0M874.8 365.9h0M848.1 354.2h0M823.5 386.0h0M930.0 278.0h0M931.7 273.6h0M887.4 338.1h0M918.9 281.6h0M949.0 279.2h0M927.7 276.3h0M935.3 294.9h0M959.5 283.1h0M899.5 299.3h0M869.3 340.8h0M944.1 302.3h0M897.3 325.8h0M874.1 342.7h0M890.8 340.7h0M871.6 332.3h0M828.9 398.9h0M898.9 283.3h0M841.9 339.3h0M853.0 348.9h0M850.2 405.5h0M844.7 376.6h0M850.5 362.7h0M922.3 294.5h0M896.5 327.6h0M847.3 357.1h0M935.2 246.9h0M869.1 354.0h0M900.9 306.5h0M891.6 348.3h0M876.6 320.2h0M932.5 263.3h0M838.0 351.9h0M883.8 288.5h0M846.0 336.2h0M857.6 341.5h0M957.9 282.5h0M918.0 285.1h0M937.6 296.2h0M863.2 333.0h0M835.1 385.1h0M881.2 378.0h0M893.8 356.4h0M889.5 332.9h0M985.6 316.1h0M933.1 255.7h0M834.2 346.4h0M926.1 274.1h0M928.8 270.6h0M868.4 349.0h0M875.2 341.1h0M885.3 289.1h0M909.8 271.2h0M866.9 361.3h0M903.4 282.3h0M948.7 288.5h0M870.6 380.8h0M904.3 274.0h0M902.7 321.2h0M889.3 327.5h0M864.2 365.3h0M859.1 398.3h0M822.7 391.1h0M873.1 393.5h0M956.3 288.8h0M929.4 254.5h0M861.4 345.5h0M896.5 317.8h0M876.9 345.3h0M862.2 321.2h0M899.2 312.7h0M930.1 292.1h0M831.3 360.1h0M878.4 327.9h0M948.3 261.2h0M932.6 254.0h0M850.9 373.7h0M902.1 348.8h0M832.0 397.5h0M901.6 350.1h0M891.6 312.2h0M851.1 379.9h0M845.6 396.6h0M928.4 295.9h0M893.5 299.1h0M853.8 342.1h0M911.9 271.6h0M880.4 336.4h0M848.6 399.5h0M840.1 373.1h0M903.1 318.0h0M810.3 371.1h0M922.8 309.2h0M909.8 324.2h0M835.0 376.1h0M872.7 324.7h0M910.7 289.2h0M929.1 282.2h0M874.0 336.6h0M909.0 329.3h0M948.6 270.7h0M908.9 291.9h0M930.2 297.5h0M963.5 303.2h0M884.2 304.0h0M878.7 338.8h0M909.1 322.6h0M919.2 272.0h0M942.2 293.0h0M937.8 256.7h0M875.9 380.4h0M915.0 291.4h0M941.3 310.5h0M933.1 301.8h0M923.8 267.1h0M905.5 272.0h0M931.2 287.1h0M818.4 369.9h0M861.3 337.3h0M862.1 385.1h0M914.7 300.4h0M891.6 304.3h0M882.7 349.2h0M942.9 265.4h0M883.1 356.4h0M1060.7 203.4h0M982.0 284.3h0M1070.5 232.7h0M1077.6 218.4h0M969.9 299.3h0M1075.9 219.1h0M945.1 309.8h0M1006.9 281.6h0M964.6 313.3h0M960.2 307.8h0M991.7 316.4h0M1028.0 284.9h0M1083.6 230.9h0M1001.1 295.1h0M1023.1 257.0h0M1077.9 221.9h0M977.6 324.2h0M1034.5 220.8h0M961.5 288.0h0M1028.4 254.5h0M961.8 295.7h0M1018.2 279.1h0M969.9 288.5h0M945.7 303.2h0M1011.6 275.3h0M991.7 309.6h0M1008.7 331.1h0M1017.2 239.1h0M1055.0 214.9h0M977.8 266.9h0M1045.6 231.6h0M1029.4 272.4h0M1072.1 222.1h0M982.0 306.8h0M1077.5 217.2h0M1176.3 149.3h0M1098.1 223.1h0M1155.6 135.1h0M1159.8 179.0h0M1040.9 204.5h0M1150.1 172.1h0M1123.3 159.3h0M1136.5 177.4h0M1119.4 158.1h0" stroke="#d62728" stroke-opacity="0.6" stroke-width="5.8" stroke-linecap="round" fill="none"/>
<path d="M843.1 355.8h0M788.0 430.7h0M763.6 453.0h0M769.9 466.1h0M752.4 449.5h0M824.2 392.3h0M819.1 393.7h0M859.1 343.9h0M745.3 464.2h0M830.4 403.6h0M823.6 386.7h0M840.7 390.3h0M726.3 472.4h0M838.9 413.1h0M729.1 473.9h0M822.0 392.5h0M822.4 388.7h0M804.7 401.2h0M818.4 419.9h0M737.1 478.1h0M791.3 439.4h0M880.7 343.1h0M734.8 468.0h0M740.1 478.6h0M820.2 416.4h0M821.9 417.2h0M738.8 459.4h0M827.3 415.2h0M819.9 412.3h0M846.8 399.0h0M836.1 388.0h0M894.8 354.9h0M797.5 392.5h0M809.9 395.3h0M871.9 327.0h0M734.1 482.3h0M771.3 437.1h0M790.2 420.0h0M813.4 401.0h0M884.8 328.1h0M732.8 482.2h0M812.5 415.0h0M775.7 433.7h0M855.3 381.6h0M795.2 412.2h0M763.7 455.2h0M880.8 348.1h0M724.9 478.2h0M823.2 387.3h0M840.3 393.9h0M752.6 462.9h0M762.6 446.3h0M845.7 368.2h0M837.2 368.5h0M746.7 450.5h0M753.3 463.1h0M789.8 422.5h0M780.5 446.4h0M751.2 443.0h0M887.8 355.8h0M869.7 354.5h0M784.5 417.5h0M831.6 388.9h0M888.9 375.8h0M772.4 429.3h0M889.9 331.5h0M781.3 426.0h0M740.7 471.0h0M846.0 366.2h0M792.0 436.2h0M883.9 350.9h0M813.7 410.4h0M870.9 367.9h0M818.4 420.2h0M728.1 472.0h0M864.1 355.1h0M772.2 440.8h0M878.1 358.3h0M746.0 451.2h0M873.2 353.7h0M803.0 405.0h0M889.0 325.0h0M860.7 346.7h0M808.9 378.7h0M738.9 464.0h0M791.1 401.5h0M824.3 386.3h0M793.2 442.8h0M878.9 370.5h0M894.4 348.8h0M890.8 357.7h0M878.3 364.7h0M830.6 363.1h0M813.1 406.5h0M732.2 465.2h0M751.5 450.7h0M856.4 379.1h0M876.4 348.5h0M824.0 419.3h0M743.3 457.7h0M830.7 380.6h0M893.2 335.5h0M865.3 346.0h0M779.6 422.7h0M766.4 430.5h0M853.1 376.7h0M864.4 354.0h0M785.1 433.2h0M771.5 437.3h0M805.8 397.2h0M870.5 374.1h0M872.0 372.9h0M847.3 383.9h0M902.5 356.8h0M855.6 332.7h0M889.6 327.5h0M855.0 364.4h0M735.3 482.4h0M745.5 464.8h0M789.9 423.9h0M849.4 373.0h0M826.2 390.7h0M893.2 348.1h0M832.6 402.5h0M842.4 400.5h0M779.8 414.6h0M814.6 405.4h0M774.5 471.1h0M902.6 335.0h0M826.5 422.1h0M987.3 241.9h0M892.2 290.9h0M906.9 347.8h0M893.7 313.7h0M897.0 341.8h0M869.9 368.8h0M918.1 324.8h0M880.6 335.4h0M861.1 335.3h0M973.5 279.6h0M843.8 331.7h0M961.2 260.1h0M914.4 283.3h0M875.5 340.2h0M866.3 343.8h0M979.6 254.1h0M865.2 363.8h0M994.0 295.5h0M931.5 255.4h0M882.4 331.4h0M937.1 328.2h0M964.2 319.0h0M950.2 263.2h0M894.2 327.6h0M880.6 321.3h0M885.7 383.7h0M962.0 285.8h0M903.1 307.8h0M945.6 290.7h0M972.6 258.6h0M939.9 288.9h0M878.1 347.4h0M967.4 289.9h0M937.2 295.3h0M923.5 282.5h0M948.8 284.6h0M875.1 351.4h0M867.3 342.6h0M974.9 249.3h0M881.7 311.6h0M939.8 316.7h0M949.6 302.0h0M859.3 312.3h0M992.7 245.3h0M921.8 294.4h0M954.3 311.1h0M912.8 341.8h0M961.4 269.6h0M914.3 285.5h0M868.6 330.1h0M842.9 332.9h0M983.9 281.3h0M1016.5 278.4h0M866.8 319.3h0M966.6 259.8h0M990.8 273.5h0M872.9 329.4h0M976.7 260.4h0M938.2 260.9h0M989.3 261.2h0M957.5 273.8h0M884.9 338.0h0M869.4 353.2h0M880.0 356.8h0M934.6 333.7h0M908.0 301.9h0M958.4 252.6h0M948.6 322.4h0M957.5 254.1h0M918.6 271.5h0M909.3 307.0h0M874.6 337.7h0M906.2 283.2h0M859.3 371.2h0M890.2 306.7h0M841.1 370.8h0M912.3 301.0h0M936.1 268.0h0M871.5 376.3h0M843.9 376.7h0M918.0 326.3h0M935.0 258.7h0M884.6 304.0h0M865.1 348.3h0M861.2 373.0h0M848.2 342.7h0M868.4 361.3h0M912.1 304.0h0M911.5 281.9h0M927.9 260.5h0M847.3 368.5h0M889.2 329.9h0M928.5 305.8h0M917.9 282.3h0M902.8 269.1h0M917.0 287.3h0M919.2 321.2h0M924.5 287.1h0M833.8 361.2h0M902.7 291.6h0M846.0 375.5h0M907.6 291.2h0M838.2 369.7h0M823.0 378.1h0M907.4 290.4h0M956.0 302.9h0M866.3 353.4h0M849.2 326.3h0M859.5 393.6h0M927.9 268.7h0M897.6 270.0h0M842.6 373.2h0M927.1 263.7h0M898.3 312.1h0M827.4 393.3h0M815.2 384.6h0M857.9 418.6h0M875.4 345.6h0M863.0 380.0h0M947.0 269.8h0M881.0 346.8h0M906.9 299.1h0M890.5 366.9h0M873.0 348.6h0M919.4 315.7h0M920.2 260.2h0M946.1 281.7h0M818.0 381.2h0M870.0 325.8h0M949.9 269.4h0M873.3 313.0h0M909.7 303.9h0M843.3 374.6h0M959.4 301.4h0M903.2 328.5h0M873.4 320.1h0M934.2 295.6h0M834.2 402.8h0M846.3 382.7h0M888.7 336.2h0M874.1 307.6h0M922.4 267.4h0M887.3 297.4h0M898.1 289.6h0M862.8 309.5h0M880.2 329.4h0M886.0 340.7h0M910.5 308.8h0M822.6 361.5h0M875.2 393.7h0M885.9 362.6h0M918.9 283.8h0M939.8 326.2h0M881.7 348.5h0M855.9 382.2h0M866.3 383.4h0M906.8 312.8h0M934.2 286.1h0M874.2 349.9h0M823.8 385.1h0M836.6 360.3h0M937.5 285.2h0M963.9 304.9h0M926.7 248.3h0M831.7 365.3h0M847.8 345.1h0M912.9 325.9h0M868.4 309.9h0M870.8 350.4h0M859.4 375.7h0M888.2 293.4h0M881.1 329.0h0M874.4 316.0h0M855.9 391.7h0M946.2 291.5h0M841.1 395.5h0M958.4 291.8h0M896.6 337.3h0M935.9 292.3h0M909.2 335.3h0M910.2 303.7h0M852.1 334.6h0M898.7 310.4h0M835.4 387.0h0M898.9 315.3h0M843.3 381.9h0M916.8 280.3h0M949.4 265.6h0M854.3 375.0h0M890.2 279.2h0M936.2 280.3h0M875.2 331.6h0M928.3 337.3h0M822.4 360.3h0M925.9 293.1h0M816.1 366.2h0M940.6 273.0h0M845.0 384.7h0M826.2 364.9h0M854.2 411.3h0M858.2 340.6h0M827.2 387.3h0M874.1 357.8h0M958.5 275.2h0M874.3 350.4h0M898.0 297.6h0M905.3 320.6h0M912.8 281.2h0M826.2 369.8h0M926.6 250.9h0M849.4 359.7h0M927.9 247.6h0M931.2 265.1h0M936.5 263.2h0M891.9 295.5h0M931.8 279.7h0M822.9 355.0h0M857.9 321.6h0M874.9 339.4h0M872.5 330.7h0M845.8 366.6h0M938.4 270.8h0M905.9 325.1h0M814.5 374.8h0M908.1 278.3h0M830.5 375.7h0M836.2 385.8h0M871.4 327.6h0M835.4 373.9h0M961.5 310.9h0M865.8 326.7h0M995.7 293.6h0M1042.5 264.0h0M1025.8 263.9h0M948.5 293.0h0M964.6 300.0h0M1050.6 207.3h0M1063.7 220.4h0M1011.6 259.6h0M970.9 323.6h0M971.2 273.8h0M1066.6 195.2h0M972.8 308.6h0M1007.5 248.3h0M1078.4 226.0h0M1038.2 266.3h0M983.8 310.9h0M1060.3 228.8h0M1017.4 295.3h0M960.1 298.4h0M977.6 294.7h0M1066.5 209.6h0M1009.8 264.9h0M1022.8 242.5h0M1073.5 228.3h0M973.2 321.5h0M1050.3 178.1h0M1015.0 275.1h0M975.4 317.7h0M1015.9 231.3h0M1033.0 307.7h0M958.9 322.6h0M976.3 328.5h0M996.3 284.5h0M1051.6 213.7h0M1043.1 197.5h0M1074.0 242.6h0M1061.2 249.8h0M955.7 296.9h0M1006.5 274.8h0M977.5 300.2h0M1013.3 254.6h0M980.3 289.4h0M1036.7 238.4h0M1125.7 171.9h0M1144.4 160.3h0M1089.1 192.3h0M1189.2 153.0h0M1128.8 215.4h0" stroke="#d62728" stroke-opacity="0.6" stroke-width="5.8" stroke-linecap="round" fill="none"/>
<path d="M822.8 380.3h0M845.6 367.9h0M789.4 421.4h0M898.4 329.6h0M733.9 481.3h0M779.0 435.7h0M806.3 428.3h0M831.2 397.7h0M884.6 317.8h0M852.1 360.5h0M747.8 477.5h0M770.1 453.4h0M768.6 425.3h0M880.8 348.6h0M895.1 337.4h0M864.3 391.1h0M829.5 407.7h0M776.8 424.2h0M825.5 404.1h0M815.5 400.3h0M753.1 443.7h0M800.4 409.8h0M816.3 391.7h0M884.2 345.6h0M825.7 379.4h0M858.9 368.0h0M841.9 415.5h0M812.4 397.7h0M800.6 405.5h0M798.8 424.8h0M753.1 475.2h0M760.9 447.3h0M856.1 366.6h0M887.5 343.6h0M832.4 380.8h0M811.0 394.3h0M885.0 326.1h0M865.8 349.2h0M769.6 433.2h0M856.6 380.1h0M806.1 410.1h0M753.6 448.0h0M795.2 404.2h0M802.3 384.7h0M842.8 397.3h0M830.9 386.4h0M795.8 436.9h0M761.9 471.2h0M841.0 380.2h0M814.7 423.8h0M816.0 414.8h0M783.6 418.1h0M806.9 412.6h0M743.3 464.0h0M757.9 440.4h0M855.2 388.0h0M845.0 378.7h0M809.5 397.5h0M819.8 401.6h0M775.4 429.5h0M862.2 364.8h0M741.6 464.5h0M838.7 378.9h0M794.4 443.8h0M853.9 362.0h0M798.7 439.7h0M793.9 443.0h0M774.4 440.2h0M834.1 382.8h0M813.2 386.7h0M823.6 389.4h0M892.2 343.0h0M809.0 382.6h0M751.8 474.0h0M774.3 422.1h0M755.0 442.4h0M773.7 442.3h0M766.2 433.8h0M839.6 390.1h0M828.8 382.5h0M828.0 397.5h0M756.4 454.7h0M892.9 326.2h0M756.2 450.9h0M873.9 348.2h0M832.5 386.3h0M815.8 419.4h0M771.9 450.1h0M737.3 461.7h0M824.9 382.4h0M890.2 334.6h0M793.2 413.0h0M762.2 442.7h0M837.4 397.3h0M894.7 345.3h0M772.6 445.3h0M897.9 340.7h0M782.5 427.9h0M871.1 378.3h0M823.9 384.6h0M761.9 429.2h0M844.6 361.1h0M896.3 356.9h0M863.3 351.8h0M825.9 390.0h0M815.7 397.4h0M793.3 440.2h0M789.8 414.5h0M726.4 477.3h0M807.6 410.2h0M831.5 413.7h0M880.3 363.9h0M854.2 372.3h0M752.2 459.2h0M772.6 435.5h0M966.5 295.2h0M966.6 262.7h0M989.7 247.1h0M901.3 318.1h0M930.6 311.0h0M875.0 318.5h0M960.1 277.2h0M947.1 330.8h0M947.4 277.0h0M939.8 270.9h0M910.6 270.6h0M963.9 272.6h0M942.2 286.8h0M973.6 279.4h0M967.4 268.8h0M947.3 288.5h0M974.7 232.6h0M953.2 289.3h0M960.6 320.0h0M864.4 340.9h0M893.7 333.0h0M979.5 252.4h0M927.6 256.0h0M856.2 345.3h0M922.4 303.9h0M940.9 329.4h0M914.2 339.9h0M973.8 267.8h0M871.5 379.9h0M951.1 279.4h0M893.2 364.2h0M887.5 310.4h0M945.7 307.4h0M973.5 259.4h0M864.8 324.6h0M894.5 334.3h0M974.7 274.9h0M936.3 251.7h0M942.5 255.6h0M994.3 270.8h0M957.8 266.1h0M915.3 299.7h0M907.9 319.8h0M914.9 311.1h0M928.4 328.3h0M900.9 347.6h0M889.0 291.6h0M906.4 357.5h0M864.8 341.6h0M893.5 332.9h0M871.5 302.1h0M973.4 266.4h0M925.3 277.9h0M1000.2 257.1h0M956.0 234.0h0M972.4 261.7h0M954.5 289.5h0M888.5 345.0h0M984.7 299.2h0M957.1 233.1h0M942.7 243.8h0M996.6 289.6h0M845.4 338.6h0M940.9 274.8h0M853.1 341.8h0M965.5 271.8h0M861.8 359.0h0M948.4 319.9h0M867.7 345.7h0M911.9 308.1h0M915.3 322.9h0M926.6 263.1h0M897.6 367.2h0M867.8 355.8h0M917.0 320.0h0M930.2 333.6h0M881.2 328.4h0M910.1 335.4h0M905.2 277.4h0M844.2 398.6h0M903.7 296.6h0M875.8 328.9h0M843.6 357.4h0M878.8 335.9h0M857.0 380.1h0M917.7 324.6h0M929.0 264.8h0M957.9 293.8h0M939.8 301.4h0M932.3 280.8h0M908.0 294.8h0M843.0 410.0h0M885.2 356.0h0M917.8 276.5h0M846.0 362.6h0M938.4 300.5h0M929.3 247.6h0M843.0 360.1h0M924.7 281.2h0M912.7 273.1h0M932.1 293.0h0M897.0 323.6h0M931.8 267.1h0M815.3 383.2h0M831.4 381.3h0M874.1 332.5h0M846.8 356.1h0M951.1 272.9h0M828.4 394.2h0M915.1 289.2h0M857.0 389.3h0M845.1 362.6h0M861.1 346.1h0M905.8 304.2h0M861.9 343.2h0M879.7 378.2h0M906.5 294.9h0M957.0 267.8h0M915.6 314.0h0M865.0 338.6h0M862.3 350.2h0M862.2 330.5h0M851.6 339.5h0M862.8 384.4h0M909.9 266.4h0M906.3 319.8h0M867.6 328.0h0M952.0 269.3h0M941.0 257.0h0M943.7 263.2h0M952.8 297.2h0M862.8 307.9h0M905.2 326.5h0M882.6 313.7h0M928.0 274.1h0M933.5 288.9h0M908.4 375.2h0M903.6 335.8h0M855.0 327.4h0M906.8 331.8h0M869.4 352.5h0M836.1 353.9h0M930.7 261.3h0M873.9 387.3h0M876.8 347.1h0M838.4 348.7h0M862.4 371.9h0M953.1 270.7h0M931.3 293.4h0M953.7 329.4h0M864.5 339.2h0M961.3 284.9h0M834.6 356.1h0M901.2 301.7h0M894.7 334.0h0M900.9 373.7h0M909.9 294.8h0M870.8 318.6h0M865.7 338.0h0M907.2 283.8h0M854.7 348.0h0M869.0 314.0h0M859.4 356.6h0M931.1 281.5h0M822.7 381.1h0M909.6 324.9h0M903.9 290.2h0M887.5 367.0h0M934.6 278.2h0M884.1 379.8h0M869.3 327.3h0M900.6 334.6h0M835.8 378.7h0M877.5 344.9h0M835.9 403.6h0M851.4 326.2h0M886.3 320.7h0M847.3 353.2h0M934.6 322.8h0M898.7 326.2h0M909.1 329.0h0M933.3 288.9h0M843.9 398.0h0M832.1 382.9h0M909.4 292.6h0M928.4 324.1h0M921.3 287.1h0M920.8 251.5h0M809.7 371.7h0M906.5 305.4h0M928.4 270.0h0M923.6 315.0h0M846.9 354.0h0M854.0 402.8h0M864.6 361.9h0M922.9 301.7h0M860.5 334.8h0M893.1 315.4h0M922.8 330.9h0M938.5 301.5h0M876.5 330.2h0M925.0 261.4h0M934.3 249.5h0M904.1 362.8h0M891.6 290.1h0M918.4 299.8h0M880.2 346.1h0M911.8 343.7h0M871.3 372.8h0M866.4 360.0h0M874.5 317.2h0M878.0 364.1h0M906.6 329.8h0M847.0 346.4h0M894.3 324.5h0M912.4 305.1h0M940.9 282.5h0M872.4 325.0h0M917.8 276.7h0M855.6 381.7h0M855.4 341.6h0M1061.7 223.9h0M1022.8 269.6h0M1057.2 224.2h0M1083.0 233.8h0M1055.6 190.3h0M971.1 333.5h0M989.8 259.0h0M1006.4 272.9h0M972.9 308.9h0M982.0 288.1h0M1025.0 260.9h0M1064.2 198.6h0M1012.6 311.2h0M1001.8 293.8h0M972.0 301.8h0M998.8 296.7h0M1027.9 236.9h0M1023.6 299.6h0M1028.9 271.5h0M1018.8 277.4h0M982.7 309.6h0M977.0 278.4h0M949.9 302.1h0M1061.1 211.9h0M991.8 300.8h0M1008.2 290.2h0M988.4 293.1h0M1069.3 226.7h0M1009.0 286.9h0M1056.2 226.5h0M1009.0 244.5h0M1029.6 216.7h0M1043.0 198.5h0M989.6 312.2h0M971.3 276.9h0M952.3 319.8h0M983.5 273.5h0M988.1 281.6h0M1046.4 241.6h0M990.4 279.5h0M1079.7 212.5h0M1057.7 228.8h0M1173.5 133.3h0M1146.7 168.3h0M1100.6 177.6h0M1078.4 253.0h0M1137.0 162.8h0M1154.0 205.3h0M1109.0 218.1h0M1147.4 160.4h0M1154.1 181.2h0M1056.3 180.9h0" stroke="#d62728" stroke-opacity="0.6" stroke-width="5.8" stroke-linecap="round" fill="none"/>
<path d="M755.4 439.4h0M903.8 347.7h0M794.4 441.7h0M854.4 367.8h0M795.7 444.0h0M819.8 411.7h0M762.6 454.0h0M899.9 351.2h0M819.6 407.9h0M885.4 351.4h0M815.1 376.2h0M767.2 455.3h0M818.5 396.4h0M807.2 385.9h0M876.6 339.1h0M867.2 363.8h0M739.5 467.0h0M888.6 355.1h0M781.9 419.8h0M852.0 388.6h0M781.4 424.5h0M788.5 402.2h0M752.4 441.9h0M842.4 396.2h0M875.1 354.0h0M856.3 393.6h0M820.4 383.5h0M752.5 451.7h0M822.3 413.3h0M869.6 355.0h0M772.6 426.7h0M887.9 353.3h0M769.1 428.3h0M811.5 431.8h0M740.3 457.4h0M746.2 455.8h0M876.7 334.6h0M808.8 428.2h0M828.0 394.2h0M896.2 343.1h0M743.9 463.7h0M747.3 456.7h0M791.2 409.2h0M758.1 445.3h0M838.1 362.0h0M773.1 423.7h0M890.7 326.5h0M838.5 385.9h0M804.3 406.9h0M864.1 388.3h0M843.4 411.7h0M823.9 419.2h0M793.6 427.4h0M859.6 363.2h0M808.7 400.8h0M890.6 338.1h0M843.9 371.9h0M880.4 350.1h0M807.9 402.4h0M772.1 438.2h0M820.9 407.0h0M775.9 449.0h0M876.0 349.4h0M777.8 430.1h0M757.3 443.9h0M878.5 381.3h0M864.8 359.1h0M812.3 405.0h0M856.5 356.7h0M762.3 445.6h0M777.1 441.3h0M878.2 348.3h0M737.3 467.8h0M884.0 332.4h0M726.2 481.8h0M780.5 415.1h0M803.6 414.1h0M818.2 368.4h0M798.6 393.6h0M826.5 361.3h0M866.7 345.6h0M812.6 428.0h0M896.3 338.4h0M847.9 363.5h0M756.4 450.6h0M883.3 327.9h0M761.0 449.7h0M840.6 390.9h0M757.8 453.0h0M872.1 376.6h0M866.3 375.7h0M758.7 445.3h0M746.7 448.4h0M795.9 393.4h0M789.0 416.7h0M794.1 418.2h0M768.6 419.2h0M806.6 387.8h0M886.5 328.1h0M791.1 436.0h0M827.2 403.6h0M784.2 447.1h0M866.5 342.3h0M847.4 391.3h0M911.6 344.8h0M856.0 386.3h0M737.4 465.2h0M908.2 341.3h0M865.4 377.7h0M833.7 360.5h0M876.5 353.4h0M868.3 372.8h0M737.0 475.8h0M791.2 411.4h0M896.1 329.9h0M868.1 348.8h0M786.7 415.2h0M841.2 386.4h0M763.7 431.3h0M913.5 287.7h0M971.4 288.0h0M962.1 225.8h0M990.1 275.4h0M976.0 262.9h0M902.3 341.8h0M1005.2 276.1h0M1001.4 265.8h0M974.2 253.5h0M863.3 347.2h0M999.4 263.0h0M941.4 269.7h0M909.0 296.8h0M912.5 293.8h0M979.8 256.4h0M909.3 332.8h0M988.4 256.1h0M972.8 280.1h0M942.4 288.6h0M901.0 306.2h0M851.5 336.3h0M910.4 333.9h0M919.6 316.8h0M873.8 345.3h0M881.6 348.8h0M911.9 367.2h0M941.5 290.6h0M907.3 265.9h0M969.8 270.5h0M976.1 311.6h0M872.6 299.1h0M916.5 324.5h0M881.2 292.8h0M966.7 228.7h0M990.1 288.3h0M982.4 283.4h0M892.7 291.3h0M871.8 327.1h0M942.4 241.3h0M867.8 330.6h0M980.9 271.0h0M980.4 289.2h0M906.9 262.0h0M938.5 345.1h0M1012.2 281.7h0M915.1 279.0h0M960.4 249.4h0M912.4 319.2h0M970.5 261.8h0M849.8 344.1h0M900.9 335.8h0M986.3 270.3h0M846.5 343.1h0M968.5 299.0h0M925.8 308.4h0M933.2 325.4h0M969.3 263.0h0M917.7 301.0h0M904.1 306.8h0M925.4 348.9h0M980.7 244.9h0M940.4 317.0h0M868.8 351.0h0M921.5 254.8h0M956.9 308.0h0M945.7 284.0h0M1008.2 281.5h0M943.3 280.0h0M968.5 281.1h0M927.1 318.0h0M1007.8 272.5h0M981.3 243.1h0M952.8 301.9h0M931.4 246.0h0M922.0 330.0h0M886.7 312.6h0M973.9 236.0h0M985.3 258.6h0M1006.1 300.1h0M888.9 290.9h0M887.8 357.0h0M961.8 270.3h0M837.8 369.6h0M893.6 299.6h0M829.7 352.7h0M934.4 311.7h0M820.9 389.4h0M893.6 292.9h0M865.3 337.3h0M894.7 352.6h0M869.5 341.8h0M908.4 297.4h0M849.8 326.0h0M839.7 372.8h0M952.5 270.7h0M850.9 332.8h0M915.1 368.9h0M837.0 347.8h0M893.3 297.7h0M866.3 388.6h0M841.4 340.4h0M875.9 327.8h0M858.2 332.7h0M903.0 317.4h0M861.8 349.4h0M866.9 348.8h0M841.5 378.3h0M896.0 308.4h0M948.6 267.7h0M834.3 367.2h0M840.5 403.7h0M875.4 332.3h0M887.8 303.2h0M933.8 255.8h0M964.5 284.4h0M941.0 271.3h0M919.4 278.7h0M842.3 367.2h0M837.4 388.6h0M841.0 382.2h0M851.5 344.5h0M851.1 332.8h0M887.8 375.9h0M949.4 264.1h0M878.5 335.7h0M954.3 276.0h0M857.2 354.8h0M948.5 283.7h0M935.2 282.6h0M901.3 311.0h0M949.0 265.0h0M927.8 282.0h0M922.3 321.7h0M895.6 350.7h0M881.7 290.3h0M941.3 294.7h0M920.4 307.0h0M910.9 323.9h0M892.5 359.3h0M854.9 353.3h0M919.4 294.2h0M823.0 384.8h0M849.9 331.9h0M894.3 313.7h0M834.5 390.8h0M851.4 368.2h0M938.4 281.1h0M853.0 344.4h0M865.2 350.9h0M917.5 288.8h0M951.0 298.2h0M843.3 335.0h0M897.9 271.3h0M886.0 342.8h0M883.4 332.8h0M923.1 270.4h0M824.6 359.5h0M946.1 269.8h0M864.8 365.9h0M850.6 377.8h0M888.2 310.8h0M814.3 378.5h0M880.5 331.3h0M878.0 340.3h0M890.8 293.5h0M836.3 401.9h0M931.7 267.8h0M936.9 282.0h0M841.3 396.5h0M822.1 364.2h0M916.8 308.1h0M854.8 375.4h0M927.5 324.3h0M915.5 294.6h0M826.0 373.9h0M932.0 288.5h0M894.7 327.3h0M904.9 332.1h0M925.3 306.1h0M858.5 341.3h0M885.2 344.2h0M926.7 294.2h0M919.5 314.9h0M905.6 323.1h0M871.6 307.4h0M880.5 343.0h0M895.9 326.8h0M897.1 310.7h0M893.5 311.4h0M879.3 331.9h0M886.6 373.5h0M873.6 350.5h0M812.6 382.1h0M896.7 338.6h0M896.9 271.2h0M870.8 351.5h0M908.6 281.4h0M904.3 312.0h0M904.8 278.9h0M831.4 377.7h0M891.4 310.3h0M937.3 274.6h0M835.1 355.2h0M915.4 267.8h0M834.1 376.2h0M848.6 397.1h0M907.3 310.3h0M923.4 250.5h0M819.1 371.6h0M836.5 389.9h0M850.5 359.7h0M920.6 311.8h0M849.5 383.3h0M807.0 375.0h0M872.4 355.6h0M940.6 276.0h0M916.5 279.0h0M866.6 372.0h0M1014.6 281.7h0M1016.9 264.9h0M1012.4 253.6h0M1065.4 193.8h0M959.6 285.7h0M989.9 277.0h0M1046.6 228.1h0M1039.0 250.5h0M1059.9 226.2h0M1027.9 259.9h0M996.7 309.2h0M964.0 304.6h0M953.5 312.0h0M1083.2 214.7h0M1042.0 217.1h0M1023.5 214.5h0M989.4 317.9h0M1032.8 259.8h0M953.4 315.8h0M1016.4 269.5h0M1084.2 230.8h0M1023.3 254.4h0M1104.3 241.8h0M1057.7 214.6h0M1058.2 225.3h0M976.8 310.1h0M994.7 275.9h0M1010.0 299.4h0M995.2 302.2h0M1085.3 248.2h0M977.4 284.8h0M988.3 306.7h0M999.4 275.1h0M1048.4 283.0h0M1016.2 254.8h0M949.3 282.0h0M1078.3 222.1h0M987.0 296.9h0M1071.7 223.9h0M969.3 324.9h0M1013.0 273.4h0M1010.5 280.1h0M979.6 288.1h0M957.5 313.3h0M1021.0 293.2h0M1043.1 234.9h0M1029.9 286.1h0M1087.6 234.5h0M956.7 316.9h0M1085.0 214.6h0M1076.6 239.6h0M1052.0 217.9h0M1132.3 219.7h0M1117.8 226.0h0M1083.2 247.0h0M1065.9 181.6h0M1106.0 204.5h0M1067.8 241.7h0M1096.8 181.4h0M1061.9 233.0h0M1079.3 202.3h0" stroke="#d62728" stroke-opacity="0.6" stroke-width="5.8" stroke-linecap="round" fill="none"/>
<polygon points="718.0,480.0 753.0,440.0 793.0,390.0 815.0,362.0 830.0,350.0 850.0,347.0 868.0,352.0 860.0,368.0 850.0,372.0 813.0,386.0 770.0,420.0 724.0,478.0" fill="#9467bd" fill-opacity="0.8" stroke="#9467bd" stroke-opacity="0.8" stroke-width="4" stroke-linejoin="round"/>
<path d="M860.3 329.1h0M870.0 306.2h0M855.2 343.8h0M828.1 360.0h0M836.4 371.0h0M812.9 405.3h0M776.6 408.8h0M827.4 384.3h0M775.8 435.6h0M844.0 365.0h0M819.5 402.6h0M848.4 348.3h0M878.5 287.8h0M849.3 340.6h0M796.1 399.1h0M818.3 399.2h0M796.1 382.3h0M900.4 264.0h0M756.7 444.1h0M751.4 448.0h0M850.4 334.3h0M798.4 407.4h0M749.5 455.8h0M808.2 397.1h0M757.5 459.6h0M740.8 474.7h0M782.3 403.8h0M924.2 271.2h0M900.8 292.4h0M844.7 350.1h0M912.8 286.8h0M779.9 412.1h0M785.2 400.2h0M849.1 371.4h0M776.6 429.6h0M914.4 278.6h0M773.6 414.0h0M896.7 324.6h0M767.6 457.9h0M887.3 296.1h0M765.5 425.6h0M890.0 299.8h0M786.9 401.4h0M850.2 327.6h0M918.9 261.9h0M753.8 440.7h0M826.4 390.5h0M813.4 395.9h0M770.5 411.0h0M845.6 336.6h0M739.2 462.7h0M809.1 423.4h0M772.3 430.6h0M935.9 262.0h0M932.0 252.3h0M787.8 430.0h0M763.1 424.3h0M837.2 381.5h0M915.7 249.0h0M790.1 405.8h0M721.8 482.5h0M768.5 441.6h0M905.6 295.3h0M832.2 366.6h0M813.4 363.5h0M820.4 380.2h0M906.2 278.3h0M906.6 291.2h0M837.5 366.2h0M864.6 340.1h0M838.0 367.5h0M736.6 465.0h0M856.3 311.2h0M888.2 302.4h0M821.3 352.1h0M834.7 365.1h0M786.6 391.6h0M754.7 437.0h0M912.9 273.3h0M861.9 309.0h0M719.2 481.9h0M733.1 479.3h0M887.3 300.1h0M880.0 316.1h0M845.0 344.4h0M731.9 464.2h0M915.3 258.0h0M756.1 430.8h0M797.1 401.7h0M738.6 461.2h0M754.6 435.4h0M912.6 296.4h0M881.8 283.5h0M882.2 322.2h0M794.6 413.0h0M797.3 391.6h0M751.6 460.2h0M798.6 395.5h0M833.6 339.2h0M765.8 442.7h0M801.1 400.6h0M853.1 324.9h0M826.8 390.7h0M899.0 288.6h0M784.0 427.7h0M932.6 267.3h0M771.7 428.0h0M805.6 396.0h0M729.8 476.9h0M825.2 396.7h0M810.8 370.7h0M776.0 441.2h0M720.4 481.5h0M842.9 367.1h0M797.5 387.5h0M740.8 454.3h0M912.3 289.5h0M812.7 436.8h0M888.9 300.7h0" stroke="#9467bd" stroke-opacity="0.6" stroke-width="5.8" stroke-linecap="round" fill="none"/>
<path d="M820.8 368.9h0M931.2 283.0h0M738.6 466.7h0M820.9 365.3h0M824.5 372.8h0M839.5 359.1h0M823.9 371.9h0M905.0 271.1h0M859.4 336.5h0M842.6 342.8h0M817.5 355.0h0M907.0 285.7h0M738.3 462.6h0M787.2 403.2h0M748.3 439.3h0M742.5 461.9h0M741.4 473.1h0M794.8 393.3h0M840.8 342.6h0M893.1 303.2h0M920.8 278.2h0M766.7 454.3h0M933.1 284.3h0M778.1 399.5h0M778.6 399.1h0M722.0 479.0h0M878.4 340.8h0M792.8 407.2h0M841.1 362.8h0M836.3 385.4h0M856.8 349.7h0M894.3 312.2h0M754.6 452.6h0M747.3 457.6h0M803.8 384.1h0M878.2 348.9h0M742.7 457.6h0M828.2 373.2h0M908.4 250.4h0M882.3 280.0h0M834.9 391.9h0M856.4 334.3h0M927.0 280.8h0M823.6 358.6h0M887.1 301.6h0M867.0 355.3h0M879.6 298.9h0M808.6 394.2h0M742.5 455.7h0M856.3 355.3h0M790.8 439.4h0M890.0 307.3h0M926.1 247.7h0M743.9 448.4h0M821.8 358.8h0M825.3 347.2h0M772.3 450.5h0M802.9 387.7h0M773.2 422.9h0M919.6 266.2h0M899.1 278.2h0M878.4 291.6h0M746.6 467.8h0M765.9 420.6h0M813.3 370.3h0M868.5 337.8h0M852.4 357.2h0M736.5 466.2h0M810.8 367.9h0M724.2 478.7h0M736.1 468.8h0M765.3 436.5h0M721.9 484.3h0M788.5 427.3h0M912.0 275.1h0M890.5 270.1h0M817.8 404.9h0M916.2 251.7h0M776.2 425.3h0M904.6 276.0h0M886.7 298.3h0M913.4 263.6h0M867.4 294.8h0M757.7 447.6h0M779.3 406.0h0M791.0 401.4h0M915.6 247.5h0M840.9 355.5h0M903.4 261.3h0M877.2 307.0h0M775.1 423.3h0M935.3 275.2h0M862.9 349.8h0M883.9 307.5h0M814.5 370.2h0M917.6 264.2h0M757.3 427.4h0M842.4 351.4h0M792.7 434.1h0M869.3 310.0h0M804.8 366.0h0M829.4 347.4h0M849.2 345.9h0M769.6 443.7h0M868.5 325.6h0M885.6 310.9h0M908.5 272.6h0M772.5 436.4h0M872.3 312.1h0M829.5 340.3h0M894.5 300.0h0M745.1 462.1h0M743.4 447.2h0M741.7 455.8h0M842.1 358.4h0M904.5 288.7h0M862.4 323.2h0M822.7 371.5h0" stroke="#9467bd" stroke-opacity="0.6" stroke-width="5.8" stroke-linecap="round" fill="none"/>
<path d="M774.4 403.7h0M845.1 326.5h0M800.1 396.7h0M859.2 332.4h0M864.7 302.5h0M736.2 467.2h0M773.2 411.8h0M903.6 267.6h0M838.5 365.0h0M816.2 399.4h0M769.3 444.5h0M757.3 444.6h0M866.9 332.3h0M721.3 481.6h0M936.3 258.6h0M930.5 301.7h0M892.2 296.9h0M820.0 401.5h0M920.3 269.8h0M811.0 404.0h0M844.4 348.2h0M881.2 307.3h0M916.8 267.9h0M717.4 484.1h0M853.4 315.1h0M852.2 343.7h0M857.3 324.2h0M728.4 475.2h0M789.5 413.0h0M933.7 269.8h0M801.5 412.0h0M934.3 260.0h0M869.8 319.7h0M891.4 280.1h0M894.3 293.2h0M903.6 269.3h0M864.9 333.6h0M884.7 305.2h0M767.1 437.7h0M802.5 376.6h0M905.5 274.9h0M895.3 312.7h0M913.6 266.1h0M722.8 483.6h0M762.8 448.4h0M736.4 466.2h0M751.8 448.3h0M841.1 347.4h0M771.5 418.0h0M780.3 438.5h0M737.4 460.3h0M830.3 393.0h0M808.7 399.3h0M926.9 252.3h0M875.8 289.6h0M814.3 363.0h0M901.5 258.3h0M767.8 421.8h0M773.6 438.5h0M773.5 427.0h0M862.1 327.5h0M752.3 452.4h0M766.7 427.9h0M918.1 275.0h0M808.2 369.6h0M836.5 356.9h0M852.8 366.1h0M935.4 259.6h0M764.0 430.1h0M910.9 275.9h0M740.5 468.1h0M831.1 353.5h0M827.7 358.8h0M807.8 411.3h0M717.1 481.0h0M825.0 385.4h0M776.1 427.4h0M765.2 428.6h0M768.6 429.0h0M749.6 445.4h0M825.1 346.0h0M846.1 367.1h0M753.1 447.0h0M875.1 312.1h0M823.1 362.7h0M837.8 361.5h0M912.8 269.4h0M820.3 376.8h0M920.9 306.9h0M849.1 343.2h0M793.6 412.0h0M795.1 400.8h0M761.8 434.3h0M829.2 393.5h0M728.4 476.9h0M869.9 324.7h0M782.3 415.3h0M894.0 314.5h0M762.2 446.0h0M841.0 330.8h0M773.9 422.4h0M889.8 306.3h0M778.0 436.4h0M918.2 266.8h0M795.2 395.7h0M724.9 473.2h0M822.1 373.1h0" stroke="#9467bd" stroke-opacity="0.6" stroke-width="5.8" stroke-linecap="round" fill="none"/>
<path d="M781.0 406.8h0M822.9 367.7h0M773.4 406.6h0M840.5 344.6h0M897.3 284.4h0M806.9 370.4h0M771.1 446.3h0M921.8 246.1h0M730.3 467.0h0M780.5 428.2h0M807.9 401.1h0M885.5 294.9h0M739.6 455.4h0M731.8 462.6h0M917.9 266.3h0M874.2 309.0h0M888.3 287.0h0M895.2 284.1h0M734.3 473.5h0M856.4 340.8h0M750.7 469.4h0M867.3 319.9h0M805.8 374.9h0M897.5 287.2h0M782.5 435.3h0M780.2 435.3h0M897.5 294.5h0M856.6 312.1h0M874.9 303.9h0M922.0 249.4h0M851.2 319.9h0M815.7 407.7h0M818.2 377.0h0M831.6 345.1h0M904.4 300.7h0M829.0 361.5h0M742.7 448.1h0M747.0 473.0h0M833.8 337.8h0M769.7 431.8h0M805.7 395.0h0M848.7 339.5h0M765.6 439.7h0M891.9 286.2h0M851.8 334.1h0M731.0 474.1h0M931.2 258.1h0M724.9 480.1h0M839.5 348.9h0M775.2 450.6h0M813.6 359.4h0M718.3 485.1h0M886.9 323.7h0M776.1 409.0h0M742.1 473.1h0M876.5 304.9h0M888.7 295.6h0M814.9 393.3h0M797.1 371.0h0M767.7 431.1h0M830.3 368.2h0M859.4 318.9h0M825.3 367.0h0M722.8 473.0h0M795.3 382.9h0M915.0 262.2h0M846.6 328.1h0M742.4 473.6h0M768.8 448.7h0M748.3 448.0h0M936.8 259.2h0M887.5 307.4h0M759.4 446.3h0M921.3 259.0h0M736.8 460.3h0M850.0 318.2h0M777.7 431.2h0M804.2 419.5h0M917.8 283.8h0M929.5 278.1h0M917.8 296.5h0M879.6 306.9h0M900.5 259.8h0M915.8 283.3h0M871.8 295.6h0M734.5 461.5h0M773.0 415.2h0M753.3 454.0h0M760.9 436.8h0M910.5 284.7h0M735.4 470.6h0M784.1 397.4h0M790.4 384.7h0M896.4 288.7h0M803.2 414.4h0M860.7 360.0h0M723.9 472.9h0M891.6 284.9h0M754.4 451.4h0M724.5 474.9h0M890.6 321.5h0M769.7 432.0h0M772.5 430.9h0M848.7 334.5h0M758.1 431.0h0M883.1 291.9h0" stroke="#9467bd" stroke-opacity="0.6" stroke-width="5.8" stroke-linecap="round" fill="none"/>
<polygon points="712.0,489.0 724.0,478.0 790.0,410.0 813.0,390.0 850.0,376.0 885.0,370.0 895.0,385.0 870.0,412.0 830.0,440.0 800.0,462.0 740.0,482.0" fill="#8c564b" fill-opacity="0.85" stroke="#8c564b" stroke-opacity="0.85" stroke-width="4" stroke-linejoin="round"/>
<path d="M769.9 469.7h0M780.4 443.6h0M816.8 442.7h0M776.0 453.7h0M793.6 420.7h0M755.8 469.4h0M766.6 451.2h0M772.4 472.3h0M820.1 449.4h0M821.5 428.3h0M800.6 461.3h0M731.7 485.6h0M868.3 420.2h0M745.3 462.3h0M818.5 451.7h0M843.0 423.8h0M843.2 426.2h0M795.3 440.0h0M793.0 448.5h0M779.2 456.7h0M768.3 456.4h0M841.6 431.6h0M828.9 435.8h0M819.9 441.1h0M774.4 461.9h0M867.9 417.3h0M804.8 453.1h0M781.5 446.0h0M724.1 478.9h0M856.3 420.3h0M818.0 439.3h0M758.9 461.5h0M739.7 480.6h0M797.8 445.7h0M749.0 472.4h0M764.0 464.0h0M735.8 475.0h0M768.0 461.0h0M868.9 411.0h0M854.7 437.8h0M870.6 417.8h0M776.5 470.1h0M844.7 444.7h0M782.5 462.0h0M879.3 414.2h0M745.2 462.1h0M755.0 465.0h0M821.3 445.7h0M847.7 434.5h0M785.7 460.5h0M734.1 482.6h0M815.4 449.7h0M783.5 454.1h0M781.7 439.2h0M717.3 488.7h0M885.9 435.2h0M823.6 433.2h0M861.9 403.8h0M852.0 424.2h0M814.8 434.0h0M834.6 433.1h0M828.7 438.6h0M795.9 467.8h0M777.5 457.6h0M760.8 472.3h0M856.4 420.5h0M785.7 458.7h0M836.7 424.4h0M748.2 471.4h0M861.9 417.3h0M737.5 474.8h0M788.8 441.6h0M878.8 408.4h0M846.1 416.5h0M748.2 469.0h0M789.8 442.8h0M853.5 435.7h0M832.1 442.3h0M839.2 399.8h0M776.5 440.6h0M766.6 463.4h0M755.7 459.7h0M816.1 433.7h0M839.8 423.5h0M753.0 450.4h0M844.5 416.1h0M807.9 450.1h0M761.0 446.2h0M859.5 427.6h0M737.1 476.3h0M778.2 461.2h0M739.8 472.8h0M846.6 448.3h0M775.1 454.1h0M733.3 479.2h0M808.4 439.8h0M854.6 442.5h0M857.3 417.6h0M856.5 429.9h0M828.9 437.4h0M802.5 455.4h0M798.0 444.3h0M862.2 400.8h0M764.8 467.2h0M747.6 480.6h0M875.3 418.5h0M759.5 468.2h0M824.8 426.3h0M838.6 426.4h0M830.1 440.9h0M733.2 477.3h0M816.1 448.2h0M773.4 461.3h0M827.0 427.8h0M792.7 449.5h0M796.0 457.7h0M814.1 433.2h0M812.6 441.2h0M814.9 444.5h0M806.5 425.9h0M769.7 458.3h0M824.2 425.7h0M761.6 462.0h0M878.2 413.7h0M835.1 417.1h0M752.3 468.2h0M854.0 427.8h0M792.4 466.6h0M749.7 475.7h0M806.7 467.4h0M836.9 432.8h0M862.6 406.8h0M777.2 449.7h0M725.9 476.9h0M803.0 440.1h0M759.7 469.2h0M856.6 410.6h0M865.4 411.8h0M781.2 457.1h0M880.8 437.0h0M712.1 488.5h0M856.0 418.4h0M758.8 449.7h0M725.6 487.3h0M840.0 443.0h0M874.0 404.1h0M776.9 469.0h0M824.9 431.4h0M869.8 416.6h0M786.6 452.3h0M829.8 434.5h0M760.8 466.3h0M827.3 436.4h0M791.3 445.5h0M789.0 451.4h0M747.5 469.9h0M757.0 473.3h0M778.8 454.5h0M805.4 444.2h0M763.1 456.7h0M827.5 449.1h0M750.8 468.5h0M865.8 408.0h0M750.1 455.1h0M763.7 445.6h0M802.3 438.0h0M745.8 472.4h0M819.0 452.1h0M855.4 444.2h0M827.1 447.0h0M747.5 462.7h0M831.4 439.2h0M888.6 429.8h0M817.5 448.7h0M849.2 415.6h0M842.0 451.0h0M752.1 468.0h0M784.7 450.4h0M745.7 470.9h0M832.5 436.4h0M753.5 476.7h0M789.0 449.1h0M781.1 453.9h0M786.3 438.2h0M870.3 383.0h0M938.1 389.3h0M978.7 376.2h0M867.2 393.6h0M950.2 397.7h0M954.9 397.8h0M909.6 406.2h0M930.6 381.7h0M910.6 408.2h0M957.4 391.8h0M867.9 404.4h0M980.1 373.6h0M916.2 386.5h0M945.6 385.2h0M954.8 382.5h0M998.9 382.4h0M965.7 389.9h0M857.4 428.9h0M923.8 388.9h0M992.7 371.3h0M879.5 416.8h0M936.9 381.9h0M950.9 376.2h0M903.9 410.5h0M851.9 419.8h0M998.1 395.6h0M866.4 399.4h0M914.9 366.5h0M859.7 417.2h0M963.7 366.6h0M961.8 375.6h0M949.1 386.4h0M954.3 371.4h0M899.3 395.5h0M990.8 402.8h0M933.8 386.3h0M927.6 395.6h0M891.4 372.7h0M875.9 413.2h0M952.4 386.3h0M995.5 383.6h0M989.0 369.6h0M938.0 400.6h0M942.0 371.4h0M946.5 367.8h0M886.7 409.8h0M901.7 398.1h0M869.9 441.8h0M952.7 385.1h0M980.0 385.0h0M895.5 422.6h0M938.0 410.3h0M916.2 419.5h0M844.9 397.6h0M863.1 419.1h0M923.7 408.0h0M948.8 362.9h0M919.2 387.0h0M854.6 423.7h0M843.7 396.2h0M952.0 366.9h0M991.3 384.0h0M873.1 438.0h0M885.5 393.9h0M873.1 407.0h0M988.9 383.2h0M948.6 362.3h0M944.3 404.0h0M918.2 400.1h0M902.6 416.5h0M975.2 388.4h0M981.1 371.0h0M979.9 392.3h0M945.2 431.8h0M919.1 387.0h0M960.4 377.4h0M989.8 361.7h0M893.3 406.2h0M934.1 407.6h0M982.4 329.5h0M968.4 402.5h0M943.1 374.8h0M867.4 393.6h0M905.0 405.2h0M932.8 367.6h0M904.9 403.9h0M919.5 383.5h0M905.3 387.0h0M894.8 397.8h0M926.3 377.6h0M992.6 371.3h0M984.0 372.0h0M878.8 415.2h0M946.8 407.6h0M980.7 383.1h0M897.7 378.6h0M897.8 403.9h0M960.4 371.9h0M906.1 426.2h0M860.0 429.7h0M865.8 410.4h0M915.2 386.8h0M938.7 400.0h0M975.5 360.2h0M943.4 404.7h0M911.3 398.2h0M898.2 416.2h0M909.5 395.6h0M853.5 415.2h0M899.6 390.9h0M939.0 401.1h0M982.0 376.4h0M965.9 384.1h0M1016.6 362.3h0M1108.7 353.8h0M1001.4 390.7h0M1150.1 331.0h0M1044.3 368.6h0M997.4 374.4h0M1068.7 373.7h0M998.1 369.7h0M1097.1 326.8h0M1086.4 345.1h0M980.4 387.9h0M1109.2 325.0h0M1100.1 341.7h0M1016.0 373.4h0M1006.0 366.5h0M1143.9 333.1h0M1101.3 358.9h0M1071.7 357.6h0M962.9 401.6h0M982.7 362.5h0M1104.9 353.3h0M985.2 370.1h0M1115.3 337.5h0M1012.5 385.8h0M1025.7 347.9h0M968.6 394.0h0M955.6 391.5h0M1138.6 347.3h0M1082.6 352.6h0M1032.5 374.6h0M960.2 378.2h0M1126.9 315.5h0M952.8 376.0h0M1142.9 334.2h0M1065.2 357.9h0M1066.1 358.8h0M1119.0 353.1h0M1031.3 377.6h0M969.1 380.8h0M972.9 378.6h0M1097.0 339.2h0M1106.4 343.5h0M1022.9 369.9h0" stroke="#8c564b" stroke-opacity="0.6" stroke-width="5.8" stroke-linecap="round" fill="none"/>
<path d="M859.4 425.6h0M762.7 455.7h0M719.7 483.7h0M879.5 411.0h0M818.4 450.6h0M760.2 465.4h0M834.0 417.0h0M743.7 475.8h0M881.8 424.7h0M875.1 428.5h0M721.9 480.7h0M836.0 424.0h0M797.0 437.2h0M760.3 477.0h0M810.8 451.9h0M797.7 454.5h0M871.4 423.8h0M737.3 475.1h0M800.5 443.3h0M864.7 424.3h0M860.9 420.3h0M809.5 442.0h0M814.6 438.2h0M831.4 429.6h0M786.8 458.9h0M787.6 455.9h0M878.3 418.9h0M723.8 478.4h0M839.0 412.4h0M766.9 475.0h0M856.7 425.6h0M849.3 406.0h0M864.8 397.1h0M786.8 464.6h0M753.9 480.3h0M725.1 487.1h0M773.7 464.7h0M867.4 421.6h0M771.3 466.6h0M734.0 478.5h0M753.0 468.1h0M845.8 426.4h0M832.9 452.7h0M732.8 483.9h0M759.9 479.3h0M748.7 478.8h0M772.3 457.7h0M819.9 435.5h0M872.9 403.9h0M775.9 450.4h0M839.5 422.6h0M772.8 462.7h0M822.1 445.6h0M757.3 456.2h0M821.9 429.5h0M790.7 460.3h0M854.8 420.0h0M757.9 453.1h0M764.3 464.7h0M867.6 400.3h0M854.9 409.0h0M783.1 473.2h0M844.9 411.5h0M806.4 437.4h0M869.0 430.3h0M760.2 468.9h0M820.4 437.9h0M872.5 411.8h0M869.6 418.7h0M860.5 399.7h0M817.6 433.1h0M829.6 423.4h0M787.0 446.9h0M876.1 403.8h0M824.6 433.3h0M790.1 441.9h0M805.9 456.1h0M749.0 479.4h0M871.3 420.7h0M815.7 424.7h0M871.3 405.1h0M842.9 420.5h0M860.6 420.9h0M874.6 416.5h0M854.0 442.0h0M760.2 480.5h0M832.8 430.5h0M757.9 466.2h0M838.2 427.6h0M822.1 435.8h0M763.7 479.5h0M806.8 448.1h0M877.2 408.2h0M762.8 472.7h0M771.4 452.9h0M837.6 419.2h0M836.6 431.2h0M806.8 463.8h0M784.1 458.6h0M857.0 431.4h0M776.6 459.8h0M839.4 420.9h0M774.4 444.0h0M869.6 398.6h0M835.1 406.1h0M778.7 456.0h0M785.6 460.0h0M833.9 437.3h0M718.5 487.3h0M872.2 426.5h0M820.6 441.8h0M814.4 444.6h0M833.0 434.7h0M789.1 451.8h0M859.7 397.7h0M852.8 417.8h0M871.2 420.4h0M734.6 480.0h0M760.6 473.6h0M810.7 446.8h0M795.5 457.3h0M754.8 460.0h0M881.3 417.1h0M839.9 415.3h0M841.6 421.4h0M777.0 475.0h0M867.3 433.2h0M880.6 429.9h0M848.2 426.3h0M839.6 425.5h0M880.4 415.2h0M815.9 417.0h0M824.0 435.0h0M768.1 465.7h0M773.3 474.9h0M861.9 430.2h0M814.7 448.2h0M763.6 460.7h0M871.9 403.2h0M839.8 416.0h0M862.1 413.1h0M793.8 434.9h0M836.7 411.6h0M836.3 443.1h0M791.8 455.7h0M814.6 453.1h0M849.0 407.8h0M827.1 433.3h0M736.7 483.1h0M871.6 425.7h0M759.1 457.3h0M732.6 474.5h0M859.0 398.8h0M744.6 471.9h0M860.4 438.8h0M822.6 416.9h0M731.9 477.7h0M850.4 416.7h0M819.9 434.4h0M779.1 449.9h0M802.2 446.1h0M749.8 454.5h0M854.9 417.9h0M833.9 433.5h0M860.6 398.3h0M745.8 463.2h0M858.2 435.1h0M858.1 431.9h0M742.9 479.0h0M807.7 443.3h0M850.0 432.8h0M831.7 445.7h0M858.9 446.3h0M805.3 445.4h0M917.0 419.4h0M885.0 382.0h0M945.6 395.7h0M931.5 396.5h0M983.2 361.8h0M930.7 419.1h0M909.9 403.7h0M864.0 429.2h0M949.1 390.8h0M981.2 348.7h0M935.4 397.5h0M983.7 394.3h0M901.4 437.5h0M898.5 364.5h0M964.8 368.5h0M906.1 397.0h0M916.0 381.8h0M913.5 409.2h0M905.5 405.7h0M958.1 381.5h0M954.5 402.2h0M919.5 396.5h0M876.6 432.9h0M950.4 369.1h0M997.0 386.0h0M985.3 343.7h0M903.8 372.6h0M958.9 371.4h0M968.0 371.3h0M920.8 401.2h0M872.3 441.2h0M985.6 386.3h0M875.9 398.9h0M858.9 428.1h0M928.8 344.2h0M977.3 374.6h0M925.3 398.2h0M1002.4 379.0h0M904.0 388.1h0M1003.3 397.9h0M981.0 378.7h0M879.0 408.8h0M859.6 441.3h0M865.7 402.6h0M872.5 398.4h0M944.5 398.0h0M996.7 367.6h0M994.2 360.3h0M882.3 393.1h0M920.4 417.4h0M974.5 375.3h0M922.6 427.6h0M969.5 366.8h0M912.7 396.3h0M992.4 364.6h0M923.2 419.3h0M991.6 377.5h0M928.6 403.6h0M951.5 394.4h0M919.9 401.3h0M909.6 397.4h0M873.8 415.9h0M992.6 376.4h0M876.7 403.8h0M933.8 364.6h0M856.8 423.7h0M983.2 403.6h0M963.8 393.2h0M853.4 378.8h0M883.5 377.1h0M888.3 389.4h0M919.9 396.0h0M867.2 415.6h0M889.9 386.3h0M973.2 399.5h0M871.7 431.6h0M904.4 413.2h0M877.1 428.0h0M970.2 408.4h0M899.8 396.2h0M964.9 382.1h0M931.6 392.7h0M893.5 430.6h0M930.2 404.3h0M995.5 374.0h0M861.4 417.1h0M945.3 399.0h0M973.2 358.7h0M993.8 361.8h0M922.4 395.5h0M970.0 406.5h0M892.1 424.4h0M937.6 362.5h0M965.7 383.4h0M912.5 359.4h0M874.6 384.7h0M908.5 397.7h0M895.0 401.6h0M977.5 377.0h0M874.1 380.9h0M867.3 403.1h0M947.8 424.1h0M879.6 392.7h0M867.0 448.3h0M991.0 355.2h0M929.8 419.5h0M977.5 377.6h0M964.9 402.7h0M948.9 371.1h0M988.0 356.6h0M851.8 419.7h0M931.4 380.1h0M930.8 403.5h0M911.3 414.7h0M969.2 387.2h0M914.4 403.9h0M854.3 424.0h0M895.2 437.3h0M975.9 378.8h0M1149.3 337.0h0M1144.0 348.0h0M1130.7 331.0h0M986.5 378.5h0M975.5 364.5h0M992.3 367.6h0M1037.5 358.5h0M1120.8 335.7h0M984.4 387.8h0M1046.2 361.2h0M1027.5 370.5h0M1038.0 360.9h0M979.9 394.9h0M1106.3 336.7h0M1098.4 344.7h0M973.5 365.7h0M950.7 383.1h0M1139.9 337.9h0M1137.1 335.8h0M1036.8 373.1h0M954.5 390.0h0M1067.4 338.1h0M985.1 366.6h0M999.0 371.0h0M961.2 370.4h0M1097.9 351.4h0M1050.1 344.5h0M1013.0 362.9h0M1080.1 358.6h0M1035.1 346.4h0M1070.2 364.8h0M1059.7 348.0h0" stroke="#8c564b" stroke-opacity="0.6" stroke-width="5.8" stroke-linecap="round" fill="none"/>
<path d="M817.9 427.5h0M751.2 468.5h0M734.6 486.0h0M763.1 473.9h0M801.0 442.5h0M739.9 469.2h0M793.9 434.3h0M743.1 479.1h0M801.5 432.6h0M831.8 435.9h0M725.2 478.8h0M816.1 443.1h0M789.7 451.7h0M832.6 412.3h0M786.2 459.9h0M769.0 457.3h0M883.9 425.1h0M827.8 435.4h0M826.6 424.8h0M779.0 464.9h0M749.1 456.9h0M797.3 443.4h0M804.5 455.3h0M860.0 405.8h0M727.1 484.4h0M880.6 445.1h0M835.1 434.0h0M823.6 424.7h0M862.9 415.6h0M859.6 403.8h0M836.2 422.9h0M855.9 415.3h0M813.7 445.6h0M825.9 441.7h0M863.7 415.3h0M742.8 474.7h0M779.0 463.8h0M877.3 405.4h0M849.1 422.2h0M823.9 434.5h0M772.4 442.9h0M794.7 449.7h0M752.2 466.8h0M819.5 435.0h0M791.8 463.0h0M830.2 428.9h0M876.9 406.3h0M783.3 448.5h0M871.8 405.8h0M768.8 451.9h0M790.3 441.5h0M746.1 455.9h0M867.7 427.4h0M812.7 432.5h0M742.4 464.5h0M735.6 478.9h0M867.4 402.0h0M720.7 481.3h0M731.0 474.6h0M755.4 458.5h0M861.7 420.1h0M846.2 406.4h0M743.1 465.9h0M816.7 434.3h0M820.3 438.7h0M770.9 447.7h0M872.9 426.3h0M724.2 481.5h0M816.7 427.4h0M870.3 430.1h0M790.0 459.7h0M718.2 484.7h0M850.3 432.7h0M817.0 435.7h0M879.5 417.9h0M806.4 445.0h0M775.3 455.6h0M801.4 442.8h0M799.5 453.7h0M798.7 443.2h0M827.2 448.0h0M810.2 450.7h0M834.4 420.4h0M804.7 439.4h0M857.8 421.1h0M871.3 420.3h0M728.1 475.1h0M832.8 411.7h0M831.3 424.1h0M862.2 426.9h0M857.2 424.1h0M842.0 444.3h0M877.1 405.5h0M789.4 455.5h0M748.3 474.0h0M817.7 436.2h0M748.5 464.2h0M744.5 472.0h0M850.7 438.8h0M800.5 452.1h0M728.9 480.8h0M742.9 465.1h0M756.9 458.9h0M805.4 437.9h0M866.1 411.6h0M746.3 480.5h0M840.2 443.3h0M744.1 480.7h0M842.3 416.0h0M723.8 479.5h0M728.9 481.3h0M729.8 484.6h0M872.1 414.6h0M754.2 474.9h0M733.5 481.2h0M773.2 465.8h0M733.3 485.7h0M793.8 447.8h0M815.6 443.9h0M749.8 474.1h0M815.6 436.2h0M778.4 454.7h0M763.4 470.9h0M862.5 436.7h0M817.3 450.0h0M793.5 466.5h0M818.4 416.9h0M808.5 436.8h0M747.0 459.2h0M754.2 465.9h0M751.0 478.5h0M835.7 426.7h0M765.4 474.4h0M807.8 442.2h0M833.9 421.5h0M850.3 440.1h0M842.9 422.0h0M729.4 484.9h0M837.6 415.4h0M874.1 424.2h0M859.2 427.6h0M868.6 424.1h0M801.8 449.2h0M734.7 470.2h0M811.4 444.5h0M855.4 438.0h0M730.3 472.2h0M814.4 445.7h0M810.1 423.2h0M817.8 447.2h0M750.8 473.2h0M779.3 471.2h0M796.7 435.5h0M851.5 421.1h0M870.5 390.5h0M742.2 478.1h0M826.7 424.9h0M789.4 454.3h0M848.2 430.5h0M803.3 447.6h0M831.0 431.9h0M820.2 440.1h0M747.1 480.4h0M829.5 448.2h0M793.0 461.6h0M754.2 470.8h0M760.2 473.3h0M967.2 377.0h0M919.9 422.6h0M970.4 360.2h0M961.8 401.0h0M887.1 415.8h0M864.7 406.5h0M965.4 375.3h0M864.9 416.1h0M900.4 417.2h0M954.4 368.0h0M877.5 429.8h0M888.4 399.5h0M967.3 389.4h0M899.1 402.0h0M913.8 415.0h0M940.3 367.4h0M962.6 369.9h0M993.7 404.6h0M897.0 382.9h0M858.3 388.6h0M963.5 360.4h0M884.2 424.4h0M871.4 431.5h0M913.9 374.3h0M974.7 409.6h0M997.8 369.3h0M880.2 404.6h0M923.5 367.3h0M892.3 432.8h0M987.8 396.9h0M920.3 359.5h0M896.8 372.3h0M897.1 390.0h0M889.8 429.1h0M869.4 419.3h0M888.1 418.8h0M913.3 385.8h0M968.1 387.8h0M876.8 417.9h0M955.3 389.7h0M886.1 406.3h0M994.9 385.9h0M960.3 383.9h0M863.3 417.3h0M911.8 384.0h0M987.3 379.6h0M854.3 391.2h0M972.3 365.7h0M888.5 379.9h0M988.8 375.4h0M983.6 395.1h0M848.4 411.2h0M853.4 430.1h0M940.3 374.2h0M932.3 377.9h0M882.0 414.2h0M912.9 385.6h0M1005.5 393.6h0M870.9 373.2h0M935.7 435.1h0M912.9 398.2h0M952.7 386.5h0M966.4 366.0h0M987.7 382.6h0M937.6 394.2h0M930.4 407.0h0M982.8 356.7h0M996.8 368.1h0M890.5 413.4h0M971.5 375.6h0M993.0 364.9h0M964.0 384.3h0M913.0 407.1h0M895.7 393.7h0M927.9 386.6h0M893.0 384.8h0M962.6 367.0h0M867.0 393.9h0M995.0 380.0h0M868.4 431.3h0M935.9 429.3h0M894.8 393.6h0M873.4 394.2h0M967.8 395.5h0M955.7 373.0h0M949.9 352.9h0M939.3 392.9h0M988.2 374.2h0M993.5 388.2h0M852.0 421.8h0M905.7 382.2h0M930.3 390.1h0M893.4 442.2h0M956.0 389.5h0M913.1 392.6h0M873.6 374.8h0M868.8 394.0h0M981.2 388.4h0M902.9 410.6h0M970.6 388.8h0M924.3 400.5h0M857.1 416.5h0M977.6 403.1h0M918.5 404.1h0M862.3 410.6h0M885.4 430.0h0M949.3 383.2h0M931.3 383.7h0M897.7 398.4h0M966.8 357.3h0M860.2 394.7h0M1110.0 337.5h0M968.5 381.1h0M1072.9 346.1h0M1127.8 346.2h0M1085.4 366.0h0M956.0 377.8h0M1147.4 331.2h0M1120.1 343.1h0M1033.1 377.7h0M1122.4 357.5h0M1043.8 356.6h0M977.4 367.7h0M980.7 378.3h0M967.8 393.9h0M1101.5 367.4h0M1079.9 349.6h0M1065.6 346.4h0M1108.6 347.4h0M1008.8 366.3h0M1075.1 359.2h0M974.6 364.5h0M986.6 368.7h0" stroke="#8c564b" stroke-opacity="0.6" stroke-width="5.8" stroke-linecap="round" fill="none"/>
<path d="M774.3 471.0h0M867.8 412.8h0M812.4 444.8h0M852.6 420.3h0M780.0 467.8h0M819.8 422.8h0M756.6 474.6h0M762.3 474.5h0M745.9 471.1h0M869.8 407.5h0M750.4 455.0h0M733.8 479.2h0M822.4 441.6h0M769.3 469.6h0M843.5 418.8h0M739.3 481.8h0M741.8 467.4h0M762.8 455.4h0M783.4 471.0h0M814.8 446.0h0M819.1 433.8h0M844.9 434.5h0M860.8 404.3h0M758.6 454.9h0M762.9 465.4h0M872.1 440.6h0M858.9 396.2h0M864.4 413.8h0M866.8 405.1h0M765.5 455.6h0M784.3 458.6h0M834.9 442.8h0M758.0 474.6h0M781.1 447.4h0M751.5 463.1h0M818.1 433.7h0M800.4 438.4h0M838.2 415.3h0M795.5 450.0h0M751.1 476.2h0M814.2 430.4h0M824.5 438.4h0M739.5 484.0h0M776.9 475.4h0M869.6 425.1h0M866.4 415.2h0M816.4 432.0h0M754.0 481.2h0M792.1 466.3h0M845.3 400.2h0M875.1 422.3h0M773.6 465.0h0M809.0 445.8h0M757.4 460.0h0M831.8 430.3h0M812.9 447.3h0M760.2 472.0h0M865.0 419.8h0M805.3 430.1h0M827.8 440.3h0M818.8 445.3h0M794.7 432.9h0M730.4 479.2h0M785.9 455.0h0M769.2 478.6h0M860.9 410.5h0M867.1 401.0h0M747.1 461.0h0M727.1 478.8h0M748.7 468.2h0M735.5 477.7h0M800.6 447.9h0M782.7 470.2h0M745.9 468.4h0M762.8 478.0h0M717.1 488.8h0M830.1 431.8h0M874.4 401.8h0M835.8 433.9h0M817.0 434.1h0M816.8 443.6h0M734.3 470.7h0M862.3 421.3h0M841.0 440.8h0M839.5 435.2h0M789.5 416.4h0M809.0 436.0h0M759.2 454.3h0M882.8 420.7h0M792.7 429.8h0M772.8 455.6h0M858.6 417.9h0M878.0 431.4h0M754.0 456.6h0M779.5 441.2h0M766.7 445.8h0M775.0 473.4h0M762.0 466.8h0M880.8 414.4h0M794.3 447.8h0M757.0 470.5h0M833.6 441.6h0M756.9 450.4h0M751.9 471.8h0M830.8 430.4h0M829.4 449.2h0M735.6 475.5h0M875.5 416.9h0M848.1 426.8h0M744.1 474.2h0M718.2 488.5h0M750.8 463.3h0M837.2 435.8h0M847.8 433.7h0M762.8 470.9h0M776.0 446.7h0M871.4 398.4h0M845.8 437.1h0M860.8 425.3h0M799.0 435.9h0M742.4 459.9h0M820.4 432.9h0M779.2 444.7h0M776.0 464.9h0M767.3 461.0h0M849.8 434.3h0M751.7 475.3h0M827.2 441.1h0M860.0 421.8h0M857.2 418.1h0M759.0 473.8h0M725.0 487.4h0M732.2 484.8h0M749.5 468.2h0M836.2 431.4h0M853.3 446.9h0M767.3 476.4h0M850.6 427.4h0M775.3 454.2h0M775.9 463.6h0M783.4 474.7h0M807.0 446.2h0M847.8 427.0h0M805.2 453.4h0M806.1 426.3h0M876.3 414.0h0M863.4 432.9h0M821.2 448.7h0M839.3 430.4h0M853.3 413.2h0M782.6 456.4h0M789.8 439.8h0M830.7 451.7h0M779.8 454.8h0M760.2 455.2h0M850.9 444.9h0M852.5 410.6h0M715.3 488.8h0M844.7 413.3h0M734.6 468.8h0M832.2 436.1h0M870.6 421.4h0M787.2 454.5h0M822.8 445.6h0M783.5 463.1h0M855.0 407.5h0M764.9 467.4h0M833.7 421.1h0M859.6 432.6h0M855.2 422.5h0M843.1 418.0h0M857.5 445.7h0M841.3 430.5h0M823.9 434.4h0M815.6 437.4h0M945.9 399.3h0M903.4 424.2h0M889.6 414.8h0M879.5 411.2h0M888.9 391.1h0M861.3 423.4h0M909.5 403.3h0M908.1 414.5h0M979.9 382.2h0M961.6 378.6h0M970.2 390.4h0M950.5 416.3h0M944.7 389.5h0M958.9 367.7h0M961.7 401.9h0M971.2 372.5h0M923.5 406.6h0M967.7 381.6h0M899.1 407.4h0M902.8 424.5h0M900.1 386.7h0M861.4 398.2h0M946.7 400.9h0M961.5 367.3h0M917.8 376.3h0M851.0 404.1h0M929.7 401.9h0M951.8 430.5h0M900.5 410.8h0M995.2 396.7h0M860.5 402.8h0M884.3 393.1h0M988.7 364.4h0M872.1 395.2h0M864.4 418.4h0M976.3 339.0h0M872.2 424.1h0M985.9 380.9h0M907.8 398.0h0M886.1 419.6h0M867.8 387.4h0M951.0 395.5h0M977.0 385.8h0M983.4 364.5h0M922.7 416.7h0M866.7 410.2h0M874.5 433.5h0M988.7 377.1h0M1000.9 398.4h0M918.9 414.4h0M925.6 388.8h0M994.1 402.6h0M951.6 410.9h0M1000.8 407.8h0M999.7 391.0h0M945.0 394.4h0M865.0 389.3h0M902.3 411.1h0M853.7 404.9h0M982.8 378.8h0M903.5 407.5h0M971.1 385.6h0M859.0 421.9h0M900.2 403.4h0M878.4 404.9h0M853.7 421.8h0M980.7 379.3h0M860.8 406.1h0M860.3 420.7h0M930.2 385.5h0M852.3 406.0h0M986.3 364.0h0M851.8 404.8h0M966.5 417.4h0M960.5 397.5h0M986.0 367.8h0M970.3 381.4h0M963.0 405.2h0M940.9 362.7h0M991.7 367.0h0M882.5 416.6h0M971.0 364.1h0M988.0 389.3h0M947.2 387.9h0M851.0 414.4h0M962.2 348.1h0M909.5 434.9h0M915.7 391.0h0M891.7 413.8h0M913.5 419.5h0M874.5 412.9h0M882.3 374.8h0M989.1 366.8h0M959.7 418.0h0M927.5 409.9h0M885.0 416.3h0M874.1 408.4h0M910.1 430.0h0M928.3 413.9h0M893.8 428.7h0M933.3 408.7h0M857.8 419.7h0M978.2 383.0h0M937.2 378.7h0M906.2 390.8h0M996.0 376.9h0M963.0 355.2h0M985.6 398.5h0M923.6 377.3h0M1020.8 372.8h0M952.5 392.5h0M1153.7 343.4h0M1066.4 317.8h0M1081.1 354.3h0M1137.3 320.8h0M1112.4 339.6h0M1118.3 344.6h0M958.7 412.1h0M1043.4 370.9h0M1043.4 379.8h0M1107.2 347.3h0M991.1 381.2h0M1131.5 328.3h0M1034.1 368.9h0M1096.7 351.8h0M950.9 372.9h0M987.5 384.7h0M1127.4 327.7h0M954.3 382.7h0M1020.2 365.6h0" stroke="#8c564b" stroke-opacity="0.6" stroke-width="5.8" stroke-linecap="round" fill="none"/>
<polygon points="1392.0,415.0 1403.0,388.0 1418.0,360.0 1430.0,344.0 1460.0,318.0 1500.0,300.0 1535.0,288.0 1540.0,300.0 1520.0,320.0 1490.0,340.0 1465.0,362.0 1440.0,390.0 1415.0,418.0" fill="#1f77b4" fill-opacity="0.7" stroke="#1f77b4" stroke-opacity="0.7" stroke-width="4" stroke-linejoin="round"/>
<path d="M1436.2 372.2h0M1371.9 446.2h0M1416.6 371.9h0M1406.7 415.7h0M1440.1 372.0h0M1434.2 389.9h0M1438.3 374.9h0M1413.6 398.9h0M1396.2 434.8h0M1444.6 352.3h0M1397.9 426.3h0M1403.0 432.4h0M1376.5 444.1h0M1414.0 398.8h0M1430.8 382.1h0M1429.7 382.4h0M1380.0 455.2h0M1420.5 370.8h0M1434.1 382.1h0M1441.1 369.0h0M1403.5 432.8h0M1382.4 448.7h0M1431.8 391.8h0M1417.3 405.2h0M1380.2 458.5h0M1432.8 379.6h0M1404.2 416.5h0M1438.7 362.9h0M1440.1 372.1h0M1430.5 361.6h0M1425.9 379.9h0M1415.2 395.7h0M1413.2 389.2h0M1405.7 396.6h0M1450.6 352.4h0M1396.5 420.0h0M1431.5 366.8h0M1443.8 351.8h0M1404.9 391.6h0M1402.2 423.1h0M1445.0 357.5h0M1374.7 458.8h0M1378.8 461.2h0M1385.0 424.9h0M1417.2 381.6h0M1404.0 401.3h0M1372.6 453.6h0M1405.3 409.8h0M1378.2 454.6h0M1449.8 348.5h0M1385.7 436.3h0M1420.5 396.7h0M1445.6 366.7h0M1403.9 425.4h0M1503.4 364.4h0M1553.8 298.7h0M1493.6 218.0h0M1473.9 345.9h0M1528.1 292.5h0M1427.8 349.7h0M1434.9 385.7h0M1549.8 258.1h0M1541.6 352.6h0M1520.2 288.0h0M1464.4 364.0h0M1501.8 326.4h0M1552.0 306.1h0M1459.4 341.7h0M1516.7 347.6h0M1424.9 409.5h0M1549.3 260.4h0M1429.4 308.6h0M1509.1 303.9h0M1510.8 256.6h0M1440.1 355.8h0M1544.1 271.7h0M1545.8 362.5h0M1407.2 383.0h0M1545.3 333.9h0M1502.4 282.8h0M1461.6 380.9h0M1525.5 309.1h0M1459.4 287.5h0M1484.4 317.1h0M1536.5 254.1h0M1459.6 358.5h0M1503.4 328.0h0M1421.0 391.2h0M1451.0 367.0h0M1417.6 331.8h0M1477.3 374.3h0M1580.4 300.2h0M1422.6 319.7h0M1464.1 361.8h0M1551.1 321.8h0M1494.6 354.5h0M1537.3 284.8h0M1466.4 249.4h0M1557.2 261.8h0M1462.5 362.9h0M1494.8 260.4h0M1490.5 302.3h0M1443.6 319.6h0M1505.8 284.9h0M1550.4 278.3h0M1453.3 335.3h0M1538.2 329.2h0M1575.8 286.2h0M1530.4 300.1h0M1544.6 324.3h0M1427.0 319.3h0M1445.3 354.0h0M1490.1 316.7h0M1550.0 288.2h0M1509.1 308.1h0M1485.6 299.7h0M1412.2 402.2h0M1550.9 252.5h0M1552.8 268.7h0M1542.0 361.3h0M1478.5 359.5h0M1520.1 316.0h0M1453.2 303.6h0M1509.8 299.7h0M1566.3 291.8h0M1519.9 350.7h0M1453.5 314.3h0M1533.3 295.4h0M1499.7 291.3h0M1524.8 218.1h0M1550.2 279.0h0M1538.8 337.4h0M1455.5 331.8h0M1568.0 289.4h0M1503.4 264.9h0M1544.1 363.4h0M1441.0 347.0h0M1426.0 396.2h0M1496.5 321.5h0M1447.6 380.1h0M1543.0 280.7h0M1491.5 282.2h0M1529.4 293.6h0M1555.9 322.2h0M1509.7 391.7h0M1479.7 302.5h0M1526.9 355.9h0M1440.8 363.8h0M1577.1 299.1h0M1521.8 285.9h0M1513.1 254.3h0M1502.9 359.6h0M1514.5 267.1h0M1447.8 257.8h0M1429.7 361.1h0M1549.1 298.4h0M1478.5 324.9h0M1415.9 406.8h0M1483.6 300.5h0M1530.2 353.2h0M1534.4 312.0h0M1566.4 291.3h0M1533.2 263.6h0M1434.4 307.2h0M1538.9 289.4h0M1529.6 251.1h0M1551.4 323.6h0M1449.1 301.4h0M1424.5 342.6h0M1422.9 361.2h0M1528.1 290.9h0M1479.1 353.8h0M1471.3 326.9h0M1413.0 331.9h0M1508.3 353.4h0M1569.6 296.4h0M1523.4 329.2h0M1597.4 319.7h0M1529.7 319.9h0M1575.2 351.6h0M1564.9 335.7h0M1459.7 381.9h0M1403.4 367.0h0M1490.2 372.8h0M1404.2 378.8h0M1465.5 370.1h0M1488.0 286.3h0M1465.9 321.6h0M1439.5 387.9h0M1424.9 309.9h0M1435.3 320.6h0M1402.9 384.5h0M1483.4 343.2h0M1533.1 331.4h0M1481.4 363.0h0M1532.4 286.6h0M1568.8 307.3h0M1586.3 316.2h0M1527.3 293.0h0M1551.1 276.9h0M1527.2 342.2h0M1509.3 333.6h0M1483.9 347.5h0M1457.9 367.1h0M1450.4 347.4h0M1578.4 351.9h0M1463.5 379.7h0M1440.3 337.8h0M1565.5 278.1h0M1464.8 261.2h0M1495.2 293.4h0M1517.0 370.1h0M1483.6 268.0h0M1568.4 310.0h0M1557.6 308.2h0M1563.2 297.8h0M1517.7 294.6h0M1473.8 197.9h0M1550.9 327.9h0M1499.2 327.3h0M1505.1 329.7h0M1438.9 372.9h0M1487.6 338.7h0M1471.6 293.5h0M1433.3 377.2h0M1447.4 342.6h0M1506.4 266.4h0M1525.7 300.4h0M1413.5 389.1h0M1445.6 415.5h0M1517.8 332.1h0M1584.1 291.3h0M1456.9 265.8h0M1538.2 291.8h0M1398.3 360.1h0M1409.4 367.0h0M1456.4 438.6h0M1450.9 361.2h0M1507.2 333.0h0M1548.5 287.4h0M1431.2 391.6h0M1528.1 378.3h0M1527.5 362.2h0M1550.2 254.9h0M1578.4 300.5h0M1534.0 286.5h0M1425.9 361.2h0M1489.1 313.1h0M1488.8 349.5h0M1544.4 266.9h0M1487.4 311.6h0M1456.1 318.9h0M1478.1 405.3h0M1543.7 325.1h0M1507.8 368.4h0M1542.5 315.2h0M1453.9 393.9h0M1554.8 304.0h0M1485.5 308.5h0M1448.8 338.4h0M1479.0 367.2h0M1516.7 265.0h0M1532.5 244.5h0M1491.5 338.4h0M1564.8 303.3h0M1568.2 294.8h0M1501.3 310.2h0M1428.2 413.2h0M1516.1 278.0h0M1461.6 317.8h0M1441.8 410.3h0M1547.4 284.3h0M1492.0 421.7h0M1593.8 308.2h0M1406.0 355.9h0M1451.7 363.9h0M1462.5 381.0h0M1527.8 380.1h0M1468.9 352.7h0M1457.3 323.9h0M1489.3 374.3h0M1417.2 359.4h0M1443.1 363.7h0M1420.0 345.7h0M1554.3 287.9h0M1413.9 343.2h0M1566.9 307.7h0M1526.7 361.2h0M1475.6 371.5h0M1425.3 334.4h0M1528.4 362.8h0M1484.0 417.5h0M1545.1 281.8h0M1556.0 329.5h0M1425.7 398.8h0M1509.8 296.8h0M1492.1 300.9h0M1507.4 295.4h0M1460.6 354.5h0M1478.2 327.5h0M1510.2 379.4h0M1568.5 298.5h0M1455.2 351.7h0M1437.7 352.6h0M1421.7 336.4h0M1459.3 351.3h0M1511.0 277.9h0M1466.8 310.7h0M1510.2 303.9h0M1583.9 298.5h0M1510.8 266.0h0M1473.6 376.7h0M1544.9 330.4h0M1491.0 337.4h0M1541.3 364.2h0M1439.0 417.6h0M1451.7 347.2h0M1482.7 301.5h0M1546.6 290.9h0M1410.8 361.2h0M1556.0 340.4h0M1465.6 373.4h0M1546.0 366.3h0M1529.2 273.6h0M1439.8 333.6h0M1516.3 337.9h0M1490.1 376.7h0M1454.6 343.8h0M1448.4 295.3h0M1404.9 385.8h0M1499.2 316.1h0M1417.7 391.7h0M1515.4 285.5h0M1518.9 308.9h0M1467.0 308.7h0M1579.0 347.0h0M1486.7 324.5h0M1514.7 360.1h0M1485.8 330.2h0M1426.9 348.2h0M1493.9 303.3h0M1406.3 347.4h0M1591.1 338.6h0M1431.2 344.4h0M1501.6 267.1h0M1550.7 338.8h0M1523.0 288.0h0M1456.7 276.3h0M1572.7 278.5h0M1513.4 281.3h0M1493.5 249.1h0M1401.1 373.4h0M1498.3 279.7h0M1515.1 310.9h0M1429.9 376.5h0M1452.0 307.2h0M1540.1 319.8h0M1437.8 374.3h0M1554.8 263.4h0M1518.3 260.3h0M1553.6 344.0h0M1567.9 301.6h0M1452.0 376.0h0M1498.2 337.0h0M1512.9 277.5h0M1440.9 331.9h0M1625.3 241.5h0M1527.9 306.0h0M1529.0 324.8h0M1490.6 217.0h0M1632.9 272.6h0M1507.5 320.1h0M1636.2 218.3h0M1508.4 209.0h0M1494.4 309.6h0M1519.2 315.3h0M1487.4 284.0h0M1546.6 249.8h0M1591.2 246.5h0M1470.5 289.5h0M1551.2 210.6h0M1512.2 266.8h0M1480.3 220.0h0M1551.5 248.3h0M1524.5 287.4h0M1639.7 315.0h0M1504.5 349.3h0M1610.7 208.7h0M1584.6 157.1h0M1480.7 316.0h0M1630.4 227.9h0M1500.7 335.1h0M1476.5 269.7h0M1592.3 280.2h0M1491.9 336.6h0M1471.0 294.5h0M1496.2 341.3h0M1575.9 297.2h0M1615.6 281.4h0M1632.3 156.8h0M1499.0 234.0h0M1571.6 268.2h0M1570.2 218.0h0M1572.0 304.3h0M1598.5 231.2h0M1541.1 309.6h0M1610.4 219.8h0M1612.8 152.9h0M1502.0 297.4h0M1649.5 143.1h0M1734.2 119.8h0M1728.4 115.2h0M1722.9 153.7h0M1600.9 173.0h0M1725.0 189.4h0M1663.9 113.8h0M1636.3 121.0h0M1742.1 88.8h0M1659.7 121.5h0M1628.7 163.4h0M1632.3 216.5h0M1726.9 138.0h0M1660.9 132.3h0M1700.2 107.2h0M1694.2 197.9h0M1657.2 190.1h0M1645.8 143.7h0M1655.0 147.9h0M1700.0 136.4h0M1695.1 147.9h0M1651.8 217.6h0" stroke="#1f77b4" stroke-opacity="0.6" stroke-width="5.8" stroke-linecap="round" fill="none"/>
<path d="M1418.5 384.9h0M1434.9 374.8h0M1436.0 383.7h0M1368.5 463.1h0M1400.3 419.3h0M1427.9 388.5h0M1376.6 435.2h0M1392.7 423.8h0M1407.3 448.5h0M1420.7 400.1h0M1418.0 392.4h0M1378.4 460.1h0M1435.4 355.0h0M1415.2 406.5h0M1422.0 387.6h0M1378.3 439.3h0M1431.2 366.5h0M1439.1 371.6h0M1380.1 420.7h0M1430.1 376.8h0M1401.1 399.5h0M1420.3 358.5h0M1371.6 463.4h0M1437.4 370.5h0M1375.6 453.5h0M1395.6 402.9h0M1402.3 410.2h0M1382.4 461.6h0M1387.3 424.9h0M1393.1 441.5h0M1409.2 416.9h0M1375.4 446.9h0M1416.0 395.2h0M1400.9 412.4h0M1447.4 345.8h0M1412.4 410.1h0M1378.6 456.3h0M1392.0 437.6h0M1444.6 345.9h0M1386.4 435.6h0M1419.3 396.7h0M1402.4 437.5h0M1383.5 444.0h0M1369.6 455.0h0M1392.2 430.4h0M1400.7 420.8h0M1380.9 453.5h0M1419.0 389.2h0M1488.4 237.1h0M1478.6 307.3h0M1425.8 368.5h0M1481.0 344.2h0M1462.4 330.2h0M1540.5 324.9h0M1579.4 299.0h0M1458.8 327.7h0M1436.2 340.9h0M1484.1 326.6h0M1583.5 349.8h0M1488.2 334.2h0M1535.2 308.7h0M1515.1 341.7h0M1526.6 263.4h0M1506.5 311.3h0M1529.3 347.2h0M1533.4 322.8h0M1423.5 359.9h0M1495.8 259.7h0M1498.9 318.3h0M1557.2 273.9h0M1512.6 322.5h0M1453.0 360.0h0M1486.9 308.8h0M1486.4 376.5h0M1580.0 293.0h0M1432.9 387.0h0M1419.7 324.0h0M1427.1 413.9h0M1431.2 359.2h0M1555.6 320.6h0M1520.4 318.7h0M1434.9 338.3h0M1423.5 376.3h0M1525.9 377.6h0M1398.5 364.8h0M1484.8 274.8h0M1457.3 375.9h0M1533.7 291.8h0M1489.8 267.8h0M1561.6 355.6h0M1569.7 270.4h0M1445.0 407.3h0M1543.5 306.3h0M1546.7 247.8h0M1548.6 272.9h0M1585.4 302.2h0M1445.3 319.1h0M1470.9 303.4h0M1444.7 362.6h0M1445.2 370.1h0M1539.8 292.4h0M1412.1 348.1h0M1444.5 401.3h0M1547.3 352.9h0M1432.7 413.6h0M1531.5 297.5h0M1510.2 308.5h0M1565.9 310.1h0M1436.8 287.9h0M1501.9 308.2h0M1422.4 387.8h0M1529.6 249.6h0M1439.9 380.1h0M1504.3 323.9h0M1527.2 287.2h0M1609.8 337.3h0M1409.6 355.5h0M1504.1 308.3h0M1516.4 333.3h0M1550.7 272.8h0M1510.9 302.7h0M1502.6 276.9h0M1430.9 384.7h0M1505.8 257.6h0M1524.0 225.2h0M1446.7 376.7h0M1493.1 326.5h0M1515.7 272.2h0M1440.4 360.6h0M1530.2 248.2h0M1511.1 298.8h0M1565.9 284.4h0M1421.7 394.4h0M1415.0 368.5h0M1535.5 293.2h0M1449.5 349.6h0M1416.7 369.4h0M1510.2 311.8h0M1533.0 224.5h0M1575.3 293.8h0M1545.0 242.1h0M1493.0 323.8h0M1444.1 313.6h0M1515.5 344.0h0M1431.6 322.1h0M1544.4 333.5h0M1483.9 372.6h0M1500.6 304.7h0M1473.3 321.6h0M1419.0 347.7h0M1559.0 267.3h0M1528.3 263.9h0M1448.1 396.9h0M1579.2 320.7h0M1470.9 313.6h0M1567.3 286.7h0M1542.8 359.5h0M1560.6 296.7h0M1523.9 231.6h0M1526.5 360.5h0M1430.1 398.0h0M1434.1 396.6h0M1487.1 383.6h0M1526.5 290.3h0M1467.8 394.7h0M1445.7 367.2h0M1447.7 303.9h0M1556.5 317.4h0M1513.6 272.4h0M1510.5 289.0h0M1507.1 331.1h0M1430.1 378.2h0M1513.3 256.4h0M1423.5 411.6h0M1434.1 337.6h0M1467.3 336.9h0M1506.8 352.1h0M1504.9 319.2h0M1515.4 317.7h0M1559.0 263.6h0M1557.6 274.4h0M1441.2 374.0h0M1517.4 270.7h0M1459.4 332.5h0M1580.9 294.7h0M1517.8 332.6h0M1551.0 313.1h0M1534.5 304.1h0M1486.8 371.3h0M1512.4 376.9h0M1564.3 298.6h0M1521.8 250.9h0M1533.5 351.7h0M1470.4 267.5h0M1506.6 280.6h0M1439.2 386.6h0M1443.3 329.1h0M1542.9 300.4h0M1444.4 294.5h0M1397.3 364.7h0M1456.8 302.7h0M1533.4 218.5h0M1487.0 325.1h0M1459.7 423.6h0M1485.5 295.1h0M1471.9 394.4h0M1484.9 330.9h0M1492.8 262.0h0M1586.4 323.2h0M1532.8 295.1h0M1468.1 395.9h0M1424.6 356.1h0M1487.2 276.0h0M1483.8 272.4h0M1442.6 334.9h0M1482.4 360.6h0M1469.4 236.8h0M1442.9 365.6h0M1560.0 306.9h0M1418.7 336.1h0M1432.2 375.4h0M1542.3 229.6h0M1475.1 246.0h0M1470.7 356.9h0M1472.2 373.0h0M1440.0 337.6h0M1505.8 350.1h0M1506.3 325.3h0M1438.4 321.0h0M1556.6 351.1h0M1544.2 309.5h0M1445.3 307.3h0M1546.7 314.1h0M1560.1 342.0h0M1523.7 274.1h0M1437.7 438.9h0M1573.1 315.3h0M1557.5 317.9h0M1506.4 341.2h0M1468.6 391.9h0M1433.6 349.5h0M1480.7 252.0h0M1471.6 331.3h0M1517.9 371.6h0M1520.2 250.4h0M1480.5 354.6h0M1557.4 275.3h0M1417.9 338.9h0M1557.4 316.1h0M1466.4 285.4h0M1536.1 290.3h0M1491.7 270.8h0M1556.1 330.0h0M1554.1 264.1h0M1594.8 318.8h0M1450.7 304.0h0M1551.2 255.5h0M1405.9 345.1h0M1545.5 327.4h0M1561.4 324.7h0M1500.9 379.1h0M1416.0 383.1h0M1427.1 309.6h0M1498.5 295.4h0M1519.2 337.6h0M1464.7 282.8h0M1444.2 351.6h0M1481.1 318.3h0M1559.8 323.5h0M1426.7 332.7h0M1429.3 364.8h0M1413.9 399.4h0M1475.3 304.1h0M1493.6 424.2h0M1441.5 373.8h0M1544.5 382.1h0M1530.1 335.3h0M1504.3 314.6h0M1441.5 292.1h0M1428.2 407.0h0M1502.8 228.6h0M1512.7 387.8h0M1496.3 289.5h0M1474.3 292.2h0M1521.4 275.7h0M1556.0 312.8h0M1414.5 391.2h0M1407.3 354.1h0M1521.4 298.9h0M1463.7 290.5h0M1482.5 389.1h0M1476.6 350.1h0M1423.4 408.6h0M1446.9 350.6h0M1427.7 349.9h0M1438.4 399.0h0M1547.4 340.3h0M1498.8 318.6h0M1413.5 376.6h0M1580.8 313.6h0M1470.2 378.6h0M1457.8 358.1h0M1463.3 312.4h0M1424.4 363.4h0M1464.3 342.3h0M1548.6 315.6h0M1478.0 341.5h0M1537.8 250.6h0M1535.0 261.5h0M1541.2 286.7h0M1499.7 405.9h0M1461.4 341.2h0M1486.2 286.4h0M1395.1 371.0h0M1535.0 241.4h0M1440.9 332.3h0M1512.2 344.3h0M1457.6 435.9h0M1417.1 348.1h0M1526.9 223.1h0M1426.8 356.2h0M1557.7 295.7h0M1442.1 384.9h0M1430.7 404.5h0M1493.0 270.1h0M1507.5 336.8h0M1483.4 281.2h0M1466.1 350.1h0M1447.2 333.6h0M1404.1 367.3h0M1437.6 376.0h0M1449.6 449.0h0M1418.0 370.3h0M1480.9 270.2h0M1428.1 421.6h0M1424.8 332.4h0M1508.6 254.1h0M1521.5 207.3h0M1469.2 392.7h0M1556.7 288.2h0M1493.6 267.9h0M1509.9 321.7h0M1497.5 264.8h0M1528.1 314.1h0M1458.1 319.3h0M1431.3 371.6h0M1472.0 360.5h0M1424.2 367.3h0M1451.5 319.3h0M1555.9 338.9h0M1412.8 390.3h0M1553.5 284.2h0M1423.4 339.1h0M1443.6 341.9h0M1527.4 306.1h0M1407.1 387.4h0M1472.8 432.9h0M1458.0 327.9h0M1459.9 348.8h0M1509.6 298.3h0M1541.6 254.0h0M1643.1 187.5h0M1524.0 253.9h0M1470.7 258.2h0M1611.8 261.3h0M1492.8 252.6h0M1520.2 352.1h0M1556.6 216.2h0M1559.5 241.6h0M1527.2 225.9h0M1645.1 240.4h0M1645.2 183.4h0M1509.9 301.3h0M1485.8 295.3h0M1602.9 248.7h0M1528.5 303.2h0M1515.7 282.8h0M1514.4 223.2h0M1603.2 220.7h0M1508.1 312.8h0M1516.9 260.7h0M1564.2 277.8h0M1507.0 292.1h0M1611.3 185.4h0M1476.4 304.0h0M1609.4 214.7h0M1612.7 138.3h0M1600.0 208.8h0M1488.7 236.5h0M1552.4 338.1h0M1540.3 306.1h0M1582.9 287.0h0M1640.3 277.6h0M1506.5 341.1h0M1493.7 303.8h0M1484.9 245.2h0M1628.7 182.5h0M1524.0 265.9h0M1604.8 231.6h0M1498.2 309.7h0M1521.9 289.3h0M1624.8 229.8h0M1615.1 211.2h0M1529.1 237.9h0M1504.7 268.9h0M1537.5 334.0h0M1476.8 295.9h0M1619.5 209.6h0M1595.7 188.5h0M1630.8 234.5h0M1742.8 152.3h0M1742.8 184.0h0M1616.2 186.3h0M1637.5 200.6h0M1675.6 163.9h0M1747.3 145.4h0M1652.1 180.0h0M1743.2 149.6h0M1763.2 194.4h0" stroke="#1f77b4" stroke-opacity="0.6" stroke-width="5.8" stroke-linecap="round" fill="none"/>
<path d="M1411.2 374.8h0M1446.9 353.8h0M1386.5 431.2h0M1429.7 362.8h0M1390.1 424.2h0M1384.0 436.9h0M1389.1 450.2h0M1433.4 373.9h0M1439.0 365.1h0M1427.8 391.2h0M1428.9 350.7h0M1423.9 378.0h0M1429.7 377.9h0M1403.7 433.1h0M1385.9 427.0h0M1435.4 387.2h0M1387.8 444.2h0M1380.5 446.4h0M1404.1 417.4h0M1422.9 391.0h0M1423.1 388.8h0M1400.8 434.1h0M1376.0 460.8h0M1445.0 349.3h0M1433.1 383.3h0M1368.3 446.3h0M1438.8 366.1h0M1429.0 387.5h0M1382.5 429.8h0M1425.2 357.6h0M1415.0 397.4h0M1376.2 461.5h0M1397.9 441.2h0M1397.6 421.2h0M1427.0 387.0h0M1441.7 357.4h0M1389.4 440.8h0M1432.5 379.6h0M1405.8 409.2h0M1388.0 445.7h0M1362.7 457.9h0M1371.9 459.5h0M1394.4 433.8h0M1370.9 447.1h0M1397.5 407.7h0M1434.3 377.8h0M1403.9 405.5h0M1504.5 285.7h0M1558.5 268.5h0M1568.4 282.0h0M1400.7 375.4h0M1536.5 282.8h0M1434.8 396.1h0M1534.7 302.4h0M1462.5 349.1h0M1494.9 280.1h0M1410.0 362.0h0M1521.3 298.1h0M1573.5 296.3h0M1512.5 323.4h0M1438.9 316.3h0M1396.7 376.4h0M1490.0 296.3h0M1512.9 314.3h0M1424.4 410.4h0M1398.8 372.7h0M1459.7 388.9h0M1451.4 300.3h0M1411.1 372.8h0M1575.4 297.2h0M1477.6 366.2h0M1469.2 364.1h0M1551.5 282.6h0M1554.9 324.9h0M1441.5 299.6h0M1580.6 316.4h0M1540.1 315.8h0M1500.5 268.1h0M1543.7 275.6h0M1485.2 363.9h0M1522.0 217.7h0M1520.8 321.1h0M1442.2 342.5h0M1486.8 309.1h0M1566.5 307.5h0M1482.1 321.6h0M1424.6 347.7h0M1420.9 349.7h0M1493.4 329.5h0M1458.1 327.1h0M1493.4 335.7h0M1411.0 397.6h0M1540.9 262.5h0M1545.4 343.4h0M1467.8 292.7h0M1528.6 313.8h0M1575.9 321.7h0M1572.3 278.1h0M1456.3 343.7h0M1543.7 237.9h0M1461.1 380.2h0M1527.8 329.3h0M1441.5 375.5h0M1509.8 227.8h0M1530.5 344.1h0M1407.3 365.3h0M1463.8 401.3h0M1488.6 346.8h0M1506.1 334.4h0M1431.5 339.3h0M1508.7 274.7h0M1514.0 351.9h0M1544.7 324.7h0M1557.0 261.5h0M1544.4 349.0h0M1569.6 279.6h0M1494.1 298.2h0M1481.9 337.0h0M1529.2 308.8h0M1459.0 389.6h0M1487.4 343.2h0M1549.7 302.5h0M1468.7 352.3h0M1501.9 319.5h0M1438.2 384.2h0M1541.6 251.9h0M1503.8 303.2h0M1574.3 313.1h0M1512.9 313.2h0M1491.7 303.8h0M1430.9 320.1h0M1501.6 390.2h0M1479.5 315.0h0M1461.8 365.2h0M1493.6 281.9h0M1554.9 283.5h0M1453.5 279.6h0M1483.6 319.2h0M1499.1 330.5h0M1428.7 393.6h0M1538.9 302.9h0M1466.1 272.2h0M1540.8 279.4h0M1427.5 332.6h0M1476.7 346.0h0M1440.1 316.0h0M1555.2 277.8h0M1463.0 380.0h0M1484.2 308.7h0M1432.2 330.4h0M1518.8 259.5h0M1533.7 317.4h0M1468.1 363.5h0M1463.7 375.2h0M1529.9 319.7h0M1431.2 348.1h0M1572.6 331.8h0M1512.5 355.4h0M1583.8 308.8h0M1552.9 285.7h0M1482.1 367.1h0M1451.5 361.3h0M1525.4 345.2h0M1556.7 312.3h0M1541.9 275.4h0M1507.7 347.0h0M1441.5 357.5h0M1568.2 280.7h0M1478.9 244.9h0M1501.0 233.8h0M1474.2 347.2h0M1522.5 336.5h0M1463.8 311.4h0M1509.2 307.5h0M1469.9 379.3h0M1455.9 316.8h0M1446.9 333.4h0M1568.4 285.9h0M1533.3 317.9h0M1529.8 303.7h0M1541.2 258.7h0M1488.3 335.7h0M1517.7 347.1h0M1497.1 381.8h0M1416.0 395.6h0M1413.9 383.9h0M1443.3 408.0h0M1561.3 278.8h0M1486.8 373.4h0M1556.4 272.7h0M1419.5 334.4h0M1508.7 234.0h0M1413.6 372.5h0M1554.2 278.0h0M1444.9 275.0h0M1529.1 287.5h0M1440.6 382.3h0M1561.1 305.9h0M1480.4 319.9h0M1557.9 290.0h0M1510.3 276.4h0M1440.8 377.9h0M1495.4 306.3h0M1475.5 272.7h0M1455.0 309.0h0M1430.6 340.4h0M1533.3 369.9h0M1534.7 220.6h0M1440.5 376.5h0M1514.4 282.3h0M1569.1 298.6h0M1504.3 414.9h0M1461.8 372.4h0M1456.3 348.0h0M1557.9 334.0h0M1494.1 268.7h0M1505.7 298.9h0M1528.9 262.6h0M1477.6 351.6h0M1478.7 312.1h0M1424.1 367.9h0M1444.3 362.5h0M1550.0 368.0h0M1500.6 300.5h0M1518.6 291.1h0M1570.4 329.6h0M1460.8 360.5h0M1464.7 369.7h0M1433.8 343.7h0M1437.0 349.8h0M1513.2 352.4h0M1516.6 302.2h0M1539.1 268.6h0M1547.1 265.8h0M1547.9 340.0h0M1513.1 334.2h0M1540.1 226.7h0M1468.9 362.0h0M1481.8 303.0h0M1435.3 374.2h0M1420.8 368.4h0M1414.4 352.6h0M1555.4 281.5h0M1516.2 355.6h0M1419.2 395.4h0M1434.8 353.9h0M1494.8 304.3h0M1445.0 303.8h0M1465.6 311.1h0M1516.2 298.1h0M1507.6 348.9h0M1564.1 296.1h0M1545.2 243.9h0M1521.1 358.9h0M1436.1 403.3h0M1529.4 295.3h0M1536.1 297.0h0M1442.2 305.4h0M1467.8 342.2h0M1485.7 319.4h0M1505.7 268.8h0M1454.5 380.2h0M1564.0 280.5h0M1436.4 319.8h0M1580.9 295.7h0M1490.9 348.6h0M1492.6 351.8h0M1440.4 326.2h0M1516.1 262.9h0M1432.2 401.6h0M1488.5 398.8h0M1556.1 319.0h0M1556.2 259.7h0M1527.1 335.1h0M1526.8 256.7h0M1548.4 309.0h0M1543.6 314.3h0M1441.7 428.7h0M1487.6 385.8h0M1570.1 341.9h0M1448.4 368.2h0M1471.3 276.6h0M1455.1 373.6h0M1544.7 265.6h0M1454.4 313.2h0M1455.6 298.0h0M1440.7 378.5h0M1450.0 313.2h0M1502.0 304.6h0M1453.4 350.6h0M1469.6 394.3h0M1445.6 351.4h0M1513.3 346.8h0M1469.9 314.0h0M1439.6 311.7h0M1455.3 248.6h0M1556.7 257.7h0M1506.8 333.8h0M1544.4 266.8h0M1474.7 266.9h0M1419.9 349.2h0M1419.4 355.4h0M1404.7 367.4h0M1427.8 352.2h0M1541.4 255.8h0M1529.5 216.4h0M1420.0 354.0h0M1509.9 384.2h0M1460.9 295.3h0M1479.0 333.4h0M1462.7 351.0h0M1496.8 326.8h0M1542.2 291.6h0M1491.7 294.6h0M1458.2 395.0h0M1529.4 321.9h0M1485.1 332.8h0M1450.4 366.3h0M1420.3 330.2h0M1478.7 310.7h0M1502.4 300.4h0M1492.8 314.6h0M1407.6 360.6h0M1498.7 349.4h0M1453.7 399.6h0M1504.8 282.8h0M1434.4 322.9h0M1517.3 319.3h0M1510.7 259.0h0M1517.5 344.9h0M1493.4 377.1h0M1429.9 339.5h0M1451.2 290.8h0M1453.5 365.9h0M1550.9 310.3h0M1446.5 353.6h0M1487.2 303.7h0M1601.7 297.9h0M1503.4 281.8h0M1631.4 212.9h0M1500.8 349.8h0M1652.7 187.3h0M1498.0 263.1h0M1558.3 199.6h0M1614.4 196.0h0M1557.6 193.5h0M1601.8 147.6h0M1558.2 287.2h0M1547.2 266.5h0M1608.4 208.5h0M1490.1 296.9h0M1541.4 317.7h0M1587.4 213.4h0M1613.6 272.0h0M1588.0 204.0h0M1583.2 174.4h0M1543.5 312.0h0M1616.2 176.7h0M1578.0 258.1h0M1499.0 351.3h0M1555.7 200.9h0M1539.0 267.4h0M1537.9 201.3h0M1615.8 221.5h0M1517.3 308.4h0M1540.2 251.9h0M1516.4 325.1h0M1561.4 232.5h0M1614.3 231.1h0M1481.5 291.8h0M1633.8 216.3h0M1596.8 197.4h0M1577.9 253.1h0M1659.1 239.4h0M1547.5 292.9h0M1505.0 285.4h0M1479.0 284.4h0M1564.4 226.2h0M1556.9 161.5h0M1627.9 211.3h0M1657.2 220.1h0M1561.6 258.2h0M1551.2 244.7h0M1483.9 314.0h0M1471.3 292.4h0M1622.9 186.7h0M1637.8 178.7h0M1640.6 222.6h0M1634.7 173.1h0M1627.0 229.3h0M1639.9 166.1h0M1677.3 184.3h0M1686.8 208.8h0" stroke="#1f77b4" stroke-opacity="0.6" stroke-width="5.8" stroke-linecap="round" fill="none"/>
<path d="M1395.0 426.8h0M1406.6 409.5h0M1390.4 448.6h0M1429.4 355.9h0M1445.8 357.5h0M1452.4 353.4h0M1436.4 365.4h0M1415.4 395.6h0M1417.1 395.7h0M1434.2 397.5h0M1371.3 464.7h0M1429.8 367.3h0M1421.0 401.9h0M1394.6 442.6h0M1421.6 379.3h0M1379.1 436.0h0M1372.5 458.4h0M1392.4 431.2h0M1401.2 413.7h0M1394.1 422.4h0M1440.9 366.9h0M1431.0 360.7h0M1403.9 409.1h0M1449.2 347.2h0M1367.2 461.5h0M1393.9 409.6h0M1448.2 361.2h0M1387.4 436.4h0M1421.8 401.3h0M1429.5 358.6h0M1374.8 449.5h0M1376.8 459.9h0M1396.3 425.7h0M1430.2 387.6h0M1413.8 421.0h0M1378.3 422.6h0M1424.6 407.3h0M1398.9 433.3h0M1392.7 415.9h0M1439.6 357.3h0M1379.1 449.5h0M1387.8 433.0h0M1399.1 415.1h0M1444.7 366.5h0M1405.1 404.1h0M1436.5 366.5h0M1428.4 346.9h0M1444.8 378.8h0M1445.7 346.1h0M1413.5 396.5h0M1377.1 444.4h0M1434.2 345.3h0M1567.1 269.9h0M1460.5 409.4h0M1543.2 328.4h0M1453.8 368.6h0M1557.5 313.2h0M1433.9 326.1h0M1536.0 339.0h0M1518.0 276.7h0M1508.3 322.9h0M1434.5 299.1h0M1486.4 373.1h0M1440.5 380.0h0M1570.9 311.5h0M1477.8 402.3h0M1534.7 260.4h0M1424.7 369.3h0M1566.1 285.7h0M1476.8 330.9h0M1460.8 334.5h0M1431.6 322.3h0M1476.2 296.7h0M1509.5 387.8h0M1499.4 398.0h0M1433.3 370.1h0M1422.1 375.3h0M1413.5 344.0h0M1547.2 334.4h0M1575.4 298.3h0M1448.9 318.5h0M1418.9 374.0h0M1507.7 286.7h0M1505.6 221.9h0M1481.8 278.2h0M1471.5 319.1h0M1443.5 326.6h0M1466.4 337.2h0M1497.4 340.1h0M1539.7 295.2h0M1480.1 367.1h0M1479.3 295.2h0M1556.5 290.2h0M1405.1 379.0h0M1511.5 387.8h0M1541.8 248.5h0M1563.3 301.9h0M1428.1 336.2h0M1497.4 255.8h0M1490.1 269.2h0M1516.9 282.2h0M1562.7 338.1h0M1443.0 352.5h0M1465.2 343.2h0M1434.0 310.0h0M1560.0 306.9h0M1492.9 312.3h0M1506.6 361.8h0M1555.3 264.3h0M1529.9 293.5h0M1528.7 266.5h0M1535.9 273.1h0M1420.4 406.5h0M1442.7 305.1h0M1423.0 415.5h0M1608.7 335.3h0M1420.5 376.7h0M1588.9 312.7h0M1525.5 340.0h0M1512.5 265.0h0M1459.2 303.8h0M1452.7 361.3h0M1405.7 371.7h0M1437.5 404.8h0M1491.2 261.9h0M1555.2 278.0h0M1410.1 386.2h0M1489.4 367.0h0M1482.2 297.6h0M1558.7 289.4h0M1436.5 361.0h0M1490.9 304.8h0M1527.3 385.0h0M1508.3 329.0h0M1487.1 321.8h0M1437.0 375.7h0M1496.0 386.0h0M1564.0 365.5h0M1539.3 279.8h0M1486.6 316.3h0M1595.4 313.0h0M1451.8 380.8h0M1459.6 251.2h0M1481.9 286.1h0M1453.2 364.4h0M1443.1 374.2h0M1510.6 323.0h0M1549.9 245.9h0M1438.6 311.5h0M1511.1 351.5h0M1469.7 408.1h0M1522.1 349.3h0M1467.9 323.1h0M1491.3 352.7h0M1496.3 388.0h0M1524.7 353.8h0M1538.3 285.7h0M1491.7 373.2h0M1519.8 336.1h0M1514.0 364.9h0M1533.5 313.6h0M1484.4 228.5h0M1520.5 286.8h0M1508.4 349.6h0M1514.5 332.1h0M1531.0 302.8h0M1482.9 302.2h0M1535.0 331.6h0M1486.3 338.1h0M1558.6 274.0h0M1435.3 372.1h0M1559.5 275.2h0M1433.4 394.2h0M1474.0 291.8h0M1458.6 373.4h0M1473.4 276.7h0M1521.1 347.5h0M1445.4 353.5h0M1472.3 399.6h0M1413.2 353.9h0M1441.4 284.8h0M1549.3 347.2h0M1463.1 343.8h0M1415.2 332.4h0M1544.0 313.8h0M1514.0 320.2h0M1465.6 319.0h0M1485.4 313.1h0M1437.4 389.3h0M1434.2 396.4h0M1427.9 336.6h0M1443.1 275.6h0M1541.0 287.9h0M1479.3 296.4h0M1415.7 388.7h0M1491.0 352.6h0M1474.8 261.1h0M1420.9 322.5h0M1479.5 345.1h0M1466.9 275.9h0M1553.0 260.0h0M1478.4 348.3h0M1475.7 308.3h0M1453.8 398.6h0M1465.3 284.5h0M1515.6 302.2h0M1491.4 357.4h0M1579.6 301.0h0M1445.4 373.9h0M1525.3 280.4h0M1478.7 367.8h0M1557.3 273.3h0M1417.8 344.4h0M1466.2 303.0h0M1560.9 358.4h0M1570.0 330.0h0M1418.8 368.5h0M1507.3 226.9h0M1545.4 288.6h0M1514.6 273.9h0M1467.0 332.5h0M1527.9 244.2h0M1484.8 295.1h0M1414.7 388.2h0M1494.1 338.7h0M1534.9 304.4h0M1453.2 314.5h0M1504.3 209.3h0M1576.0 286.2h0M1533.7 285.1h0M1441.0 292.9h0M1452.1 334.6h0M1455.8 395.1h0M1526.3 300.2h0M1476.5 322.0h0M1514.5 286.8h0M1582.2 291.3h0M1514.7 292.5h0M1458.1 232.2h0M1433.2 397.3h0M1481.0 340.6h0M1548.7 343.6h0M1543.8 341.0h0M1501.7 356.5h0M1470.5 232.6h0M1480.7 269.9h0M1415.9 351.4h0M1415.8 394.3h0M1549.2 295.5h0M1457.0 380.5h0M1439.6 423.3h0M1527.5 292.4h0M1439.0 410.4h0M1563.9 292.8h0M1497.3 262.2h0M1472.4 357.9h0M1503.5 321.9h0M1444.1 285.1h0M1521.6 214.7h0M1524.4 287.6h0M1536.2 276.8h0M1568.5 312.2h0M1494.8 328.3h0M1552.7 304.6h0M1484.9 389.3h0M1494.5 301.9h0M1547.9 251.2h0M1568.7 309.4h0M1511.8 332.2h0M1441.4 293.1h0M1539.2 343.5h0M1567.4 335.8h0M1506.0 251.8h0M1551.4 323.8h0M1519.4 351.4h0M1521.0 354.3h0M1484.9 335.9h0M1471.4 309.0h0M1468.9 329.0h0M1505.8 307.0h0M1582.3 297.1h0M1465.0 256.3h0M1442.3 384.4h0M1457.2 313.1h0M1554.4 261.6h0M1522.0 260.1h0M1553.5 291.4h0M1502.0 348.4h0M1522.6 259.1h0M1525.2 276.6h0M1532.3 281.1h0M1575.8 305.5h0M1494.7 314.0h0M1428.0 386.1h0M1553.7 348.0h0M1553.4 271.9h0M1566.4 340.3h0M1514.8 384.2h0M1431.2 341.5h0M1450.1 307.5h0M1530.8 259.3h0M1439.6 434.5h0M1502.4 333.2h0M1570.0 276.0h0M1529.2 316.6h0M1561.4 318.7h0M1425.1 367.0h0M1496.1 336.0h0M1443.9 417.2h0M1475.5 378.6h0M1470.6 323.4h0M1408.8 383.9h0M1413.7 382.4h0M1530.4 388.6h0M1476.8 351.0h0M1568.1 272.4h0M1548.2 289.8h0M1570.3 270.9h0M1449.7 407.4h0M1464.3 295.1h0M1527.4 358.6h0M1529.6 304.7h0M1518.0 329.5h0M1564.7 314.4h0M1523.9 259.8h0M1565.1 304.5h0M1488.5 344.1h0M1423.3 367.0h0M1462.7 432.9h0M1470.3 348.6h0M1426.8 338.4h0M1457.8 359.5h0M1458.1 368.5h0M1540.7 356.3h0M1487.6 391.6h0M1581.8 324.9h0M1470.7 335.2h0M1598.9 177.9h0M1458.2 260.3h0M1487.1 317.0h0M1496.1 321.9h0M1470.6 274.6h0M1663.4 234.9h0M1606.8 261.7h0M1610.9 199.2h0M1604.4 237.6h0M1461.3 271.3h0M1547.8 238.4h0M1628.5 261.7h0M1486.5 273.2h0M1579.6 243.6h0M1563.4 240.2h0M1663.4 225.9h0M1639.8 181.8h0M1480.8 306.9h0M1474.5 278.7h0M1578.7 264.8h0M1559.5 267.5h0M1596.7 155.0h0M1671.1 225.3h0M1468.2 283.5h0M1495.2 332.8h0M1574.4 293.4h0M1638.6 297.0h0M1551.1 218.3h0M1500.4 189.6h0M1491.6 217.6h0M1601.0 256.7h0M1564.8 216.0h0M1511.8 264.0h0M1504.5 272.5h0M1518.8 257.7h0M1474.4 286.6h0M1581.9 212.8h0M1548.4 289.9h0M1483.1 306.9h0M1690.3 258.2h0M1601.0 255.8h0M1627.7 224.4h0M1451.3 265.1h0M1466.0 272.7h0M1493.1 306.7h0M1638.3 280.4h0M1584.0 327.1h0M1589.4 213.1h0M1539.4 313.0h0M1641.7 222.1h0M1562.8 256.8h0M1568.2 246.1h0M1541.6 228.7h0M1486.9 297.5h0M1621.6 192.9h0M1516.0 340.2h0M1517.2 283.1h0M1652.1 223.1h0M1577.9 238.3h0M1742.8 201.5h0M1725.2 145.2h0M1599.8 128.4h0M1683.1 141.9h0M1679.5 207.0h0M1722.0 69.8h0M1700.6 146.1h0M1758.0 158.9h0M1651.1 237.5h0M1695.5 213.6h0M1692.5 171.7h0M1680.6 71.4h0M1574.5 149.0h0M1707.9 118.0h0M1700.2 126.5h0M1670.2 174.8h0" stroke="#1f77b4" stroke-opacity="0.6" stroke-width="5.8" stroke-linecap="round" fill="none"/>
<path d="M1376.8 465.5h0M1408.6 460.7h0M1372.0 475.1h0M1411.3 452.7h0M1427.8 453.3h0M1429.1 456.2h0M1376.3 469.2h0M1375.4 474.2h0M1423.4 454.9h0M1367.9 473.4h0M1371.2 472.4h0M1420.9 454.6h0M1427.0 453.9h0M1423.4 460.5h0M1378.4 470.3h0M1432.7 450.2h0M1366.0 472.9h0M1403.6 459.9h0M1364.4 473.3h0M1380.7 473.5h0M1406.8 460.8h0" stroke="#ff7f0e" stroke-opacity="0.6" stroke-width="5.8" stroke-linecap="round" fill="none"/>
<path d="M1390.5 467.4h0M1368.0 476.5h0M1394.8 463.3h0M1434.2 457.3h0M1402.6 461.4h0M1375.5 468.5h0M1422.6 448.6h0M1370.1 472.9h0M1417.7 462.3h0M1432.2 451.9h0M1416.8 450.8h0M1392.0 463.2h0M1392.5 463.5h0M1383.0 467.2h0" stroke="#ff7f0e" stroke-opacity="0.6" stroke-width="5.8" stroke-linecap="round" fill="none"/>
<path d="M1409.7 457.9h0M1429.3 454.7h0M1432.2 450.1h0M1433.3 451.4h0M1416.9 462.5h0M1417.0 455.3h0M1419.4 455.4h0M1431.6 452.5h0M1396.6 463.4h0M1429.9 459.6h0M1378.0 465.4h0M1430.5 457.7h0" stroke="#ff7f0e" stroke-opacity="0.6" stroke-width="5.8" stroke-linecap="round" fill="none"/>
<path d="M1436.3 450.2h0M1381.9 467.0h0M1423.1 456.2h0M1389.5 460.5h0M1372.9 474.1h0M1425.2 455.8h0M1420.1 456.8h0M1378.6 465.3h0M1429.2 451.4h0M1428.6 453.6h0M1390.5 466.7h0M1379.6 470.3h0M1423.2 455.6h0" stroke="#ff7f0e" stroke-opacity="0.6" stroke-width="5.8" stroke-linecap="round" fill="none"/>
<path d="M1501.9 423.2h0M1470.3 437.5h0M1446.7 455.4h0M1492.1 423.3h0M1487.0 434.7h0M1367.8 467.4h0M1488.7 434.9h0M1430.8 453.4h0M1464.0 442.0h0M1482.0 434.9h0M1511.0 422.9h0M1393.6 462.1h0M1506.7 430.8h0M1371.9 477.5h0M1404.7 462.2h0M1381.4 464.4h0M1478.7 436.5h0M1412.9 448.0h0M1394.6 461.7h0M1499.1 427.1h0M1520.0 418.6h0M1470.4 438.0h0M1474.4 439.3h0M1513.1 427.7h0M1410.0 459.1h0M1479.2 434.2h0M1430.3 447.3h0M1486.9 435.2h0M1427.0 463.6h0M1439.2 452.1h0M1405.2 459.1h0M1430.8 455.4h0M1398.7 470.0h0M1460.4 438.5h0M1422.8 455.1h0M1512.0 423.7h0M1512.1 428.6h0M1495.1 432.9h0M1369.4 471.7h0M1384.4 460.7h0M1479.0 442.0h0M1451.1 444.6h0M1474.0 443.7h0M1484.7 441.0h0M1524.0 419.7h0" stroke="#2ca02c" stroke-opacity="0.6" stroke-width="5.8" stroke-linecap="round" fill="none"/>
<path d="M1447.2 444.1h0M1366.6 478.1h0M1470.5 431.1h0M1451.8 446.5h0M1459.5 445.3h0M1379.1 474.4h0M1422.2 449.9h0M1467.0 439.8h0M1509.6 419.2h0M1509.2 431.1h0M1453.5 446.6h0M1529.3 422.0h0M1369.5 469.4h0M1416.4 458.1h0M1511.1 429.5h0M1391.5 464.5h0M1500.4 434.0h0M1513.9 426.7h0M1375.6 475.1h0M1417.6 450.5h0M1416.1 458.2h0M1419.5 447.7h0M1402.1 467.0h0M1406.8 451.0h0M1465.4 439.8h0M1449.1 442.9h0M1410.2 459.8h0M1508.0 428.6h0M1363.3 473.4h0M1515.3 426.3h0M1433.3 455.7h0M1472.6 433.4h0M1412.6 461.2h0M1424.4 446.1h0M1369.3 473.5h0" stroke="#2ca02c" stroke-opacity="0.6" stroke-width="5.8" stroke-linecap="round" fill="none"/>
<path d="M1459.3 443.8h0M1401.3 460.0h0M1378.9 464.7h0M1473.8 439.3h0M1373.1 476.7h0M1419.3 458.2h0M1478.6 440.3h0M1416.7 466.1h0M1375.1 468.8h0M1375.5 464.1h0M1382.9 464.6h0M1400.9 462.5h0M1484.1 433.4h0M1495.7 430.0h0M1399.3 461.8h0M1422.6 463.8h0M1398.7 467.3h0M1427.8 456.2h0M1471.6 442.5h0M1403.4 460.5h0M1454.1 441.9h0M1373.8 472.6h0M1497.9 435.0h0M1409.8 458.2h0M1441.8 439.1h0M1392.0 466.4h0M1427.6 455.5h0M1394.9 463.9h0M1448.2 449.8h0M1516.3 423.7h0" stroke="#2ca02c" stroke-opacity="0.6" stroke-width="5.8" stroke-linecap="round" fill="none"/>
<path d="M1403.1 461.8h0M1389.6 466.8h0M1495.4 437.4h0M1432.0 451.0h0M1518.7 427.7h0M1510.0 419.3h0M1421.9 464.5h0M1448.1 441.7h0M1488.4 432.9h0M1462.6 446.5h0M1525.9 421.8h0M1403.6 455.3h0M1415.1 453.6h0M1428.1 456.9h0M1369.6 476.4h0M1446.7 445.8h0M1396.3 468.0h0M1499.3 427.7h0M1393.2 469.8h0M1496.8 419.8h0M1362.7 469.6h0M1501.4 433.7h0M1409.5 467.8h0M1516.6 417.8h0M1402.1 453.2h0M1405.8 452.1h0M1453.1 447.9h0M1382.0 464.5h0M1394.1 459.2h0M1436.7 449.2h0M1395.5 466.8h0M1487.6 430.8h0M1468.6 442.7h0M1400.4 462.3h0M1406.9 457.0h0M1441.7 447.2h0M1395.6 465.6h0M1418.2 450.9h0M1493.6 427.9h0M1387.8 468.0h0" stroke="#2ca02c" stroke-opacity="0.6" stroke-width="5.8" stroke-linecap="round" fill="none"/>
<path d="M1382.1 477.7h0M1443.2 397.7h0M1357.1 480.8h0M1412.2 432.5h0M1359.0 473.3h0M1386.0 453.8h0M1377.8 439.9h0M1408.4 444.1h0M1431.5 422.6h0M1374.4 460.9h0M1372.1 467.7h0M1401.7 445.1h0M1412.7 446.7h0M1380.8 441.5h0M1418.4 435.0h0M1365.9 475.2h0M1386.8 458.8h0M1420.9 419.6h0M1352.4 480.0h0M1453.6 406.5h0M1419.9 422.8h0M1441.4 416.0h0M1358.0 470.2h0M1392.0 442.1h0M1415.3 437.6h0M1441.2 416.8h0M1432.0 407.5h0M1373.9 478.3h0M1430.8 418.5h0M1420.5 417.2h0M1443.7 405.9h0M1432.3 410.7h0M1432.0 413.2h0M1425.7 429.2h0M1388.2 434.9h0M1439.1 418.8h0M1425.6 432.3h0M1385.0 440.6h0M1415.9 425.2h0M1404.8 436.9h0M1365.8 468.1h0M1394.0 445.0h0M1411.3 404.4h0M1399.9 438.2h0M1416.6 461.8h0M1435.8 412.0h0M1450.9 417.1h0M1402.7 428.6h0M1395.1 477.9h0M1398.5 438.9h0M1431.2 403.9h0M1376.6 459.7h0M1366.3 468.8h0M1352.4 479.6h0M1440.7 414.0h0M1397.0 417.4h0M1384.2 423.5h0M1388.9 463.9h0M1417.8 440.8h0M1389.0 436.8h0M1380.2 476.7h0M1412.1 408.3h0M1365.7 464.1h0M1369.1 466.7h0M1389.7 472.0h0M1398.1 447.9h0M1448.5 402.1h0M1440.2 404.8h0M1418.5 414.3h0M1395.1 431.1h0M1384.7 443.4h0M1401.0 449.0h0M1412.8 407.2h0M1373.6 462.1h0M1369.5 479.7h0M1382.7 465.8h0M1423.0 420.7h0M1360.6 478.5h0M1413.1 415.4h0M1410.8 453.3h0M1433.5 405.9h0M1418.1 395.6h0M1390.4 439.1h0M1399.0 441.3h0M1398.3 465.3h0M1370.8 471.3h0M1405.7 416.7h0M1388.8 441.0h0M1381.2 460.8h0M1358.8 474.7h0M1410.0 436.5h0M1419.6 428.7h0M1413.8 433.1h0M1386.8 463.4h0M1391.7 457.8h0M1443.2 409.1h0M1422.8 428.7h0M1382.3 473.3h0M1397.9 430.3h0M1448.4 402.2h0M1425.4 419.6h0M1387.6 450.4h0M1421.5 433.2h0M1397.8 422.1h0M1436.0 402.0h0M1435.5 405.2h0M1356.5 482.4h0M1572.4 328.0h0M1507.5 374.1h0M1567.9 353.0h0M1526.6 352.9h0M1431.5 373.4h0M1454.9 386.9h0M1462.2 370.4h0M1566.9 330.2h0M1478.4 386.7h0M1521.8 352.3h0M1499.6 324.8h0M1440.2 414.2h0M1488.2 366.6h0M1448.7 398.7h0M1547.4 367.8h0M1515.8 391.6h0M1551.4 348.7h0M1444.6 338.3h0M1570.6 402.1h0M1480.2 335.9h0M1538.4 370.6h0M1569.9 338.7h0M1438.4 379.6h0M1572.7 353.0h0M1422.8 392.6h0M1572.6 375.7h0M1462.6 356.0h0M1459.9 383.2h0M1578.5 367.0h0M1441.2 447.2h0M1513.0 388.1h0M1535.7 409.2h0M1460.7 331.1h0M1528.6 328.2h0M1554.6 383.5h0M1550.3 306.5h0M1556.7 320.7h0M1504.0 362.6h0M1564.6 354.5h0M1470.2 345.6h0M1496.6 383.9h0M1495.2 340.3h0M1535.7 320.7h0M1531.1 379.0h0M1504.2 359.6h0M1510.6 403.0h0M1445.1 384.7h0M1475.3 414.0h0M1454.0 361.0h0M1580.6 359.3h0M1497.0 318.4h0M1569.7 334.0h0M1572.4 330.2h0M1448.6 425.5h0M1550.9 348.0h0M1456.2 381.1h0M1453.3 361.2h0M1553.9 356.5h0M1562.4 363.3h0M1459.3 386.7h0M1552.5 298.0h0M1568.3 344.2h0M1555.9 339.4h0M1432.9 419.1h0M1519.3 367.8h0M1459.8 361.5h0M1560.0 328.0h0M1453.4 391.7h0M1490.3 365.4h0M1479.0 352.1h0M1473.1 372.9h0M1544.7 326.9h0M1544.6 337.3h0M1434.1 410.4h0M1517.0 362.5h0M1469.7 390.7h0M1426.2 412.2h0M1504.5 346.1h0M1524.8 364.8h0M1504.7 364.7h0M1581.1 352.4h0M1465.5 335.9h0M1448.6 423.6h0M1455.9 348.3h0M1448.2 411.3h0M1457.2 355.3h0M1527.7 320.7h0M1412.7 374.2h0M1525.7 369.3h0M1529.2 384.1h0M1477.3 441.5h0M1434.9 418.8h0M1516.8 365.6h0M1464.3 375.0h0M1514.6 296.7h0M1560.6 368.6h0M1518.9 367.9h0M1539.3 392.9h0M1487.7 362.9h0M1489.0 365.4h0M1544.5 336.2h0M1533.5 387.9h0M1515.6 396.6h0M1462.1 383.1h0M1521.6 362.9h0M1552.3 290.6h0M1504.2 362.5h0M1489.1 396.0h0M1512.1 321.9h0M1440.9 418.7h0M1425.2 373.5h0M1455.3 368.0h0M1498.6 369.4h0M1511.0 369.6h0M1487.7 353.3h0M1458.5 379.2h0M1450.8 418.2h0M1489.7 365.8h0M1424.5 394.0h0M1457.1 389.8h0M1456.6 402.4h0M1571.2 345.1h0M1507.7 371.6h0M1526.9 389.9h0M1544.5 365.1h0M1527.1 360.3h0M1485.1 364.8h0M1491.8 352.1h0M1424.9 378.7h0M1426.6 385.9h0M1513.5 340.7h0M1522.0 348.2h0M1450.6 385.5h0M1517.8 349.0h0M1441.9 365.2h0M1530.9 370.1h0M1466.8 354.6h0M1453.8 367.4h0M1416.9 389.8h0M1428.9 411.2h0M1446.5 403.6h0M1517.9 385.0h0M1514.0 350.8h0M1465.4 337.4h0M1489.9 392.7h0M1454.2 348.8h0M1409.8 426.8h0M1426.6 394.8h0M1452.6 358.7h0M1524.9 357.6h0M1471.9 385.1h0M1467.6 369.2h0M1426.4 400.0h0M1517.6 319.1h0M1435.4 375.8h0M1457.9 383.2h0M1408.1 417.3h0M1494.3 358.7h0M1509.3 342.6h0M1491.0 349.7h0M1501.3 345.0h0M1460.3 354.2h0M1464.2 363.4h0M1449.1 389.9h0M1460.4 373.8h0M1461.7 384.2h0M1444.1 373.3h0M1511.7 369.9h0M1471.5 372.4h0M1457.2 387.7h0M1510.6 360.8h0M1450.8 375.9h0M1525.2 375.3h0M1406.1 403.9h0M1426.1 403.9h0M1526.9 346.2h0M1444.6 371.6h0M1487.2 392.8h0M1450.5 384.9h0M1412.6 374.9h0M1461.2 399.1h0M1424.1 398.9h0M1490.3 338.6h0M1431.1 404.3h0M1414.5 356.5h0M1448.0 358.7h0M1439.0 417.3h0M1468.8 369.9h0M1482.4 352.8h0M1523.5 353.9h0M1459.2 356.0h0M1474.4 348.1h0M1529.8 357.0h0M1466.5 354.0h0M1451.0 394.0h0M1458.9 375.2h0M1473.4 350.1h0M1468.8 377.8h0M1496.8 361.6h0M1494.7 366.2h0M1412.3 381.3h0M1454.4 360.9h0M1416.0 365.3h0M1453.7 372.9h0M1492.9 370.3h0M1491.8 380.3h0M1507.4 314.2h0M1487.7 348.9h0M1406.2 397.5h0M1429.1 399.4h0M1464.2 365.8h0M1447.8 379.1h0M1498.5 336.0h0M1518.1 373.8h0M1427.4 404.7h0M1463.3 346.3h0M1433.8 392.6h0M1439.4 370.3h0M1473.8 370.0h0M1400.2 387.3h0M1471.9 375.8h0M1433.4 407.3h0M1499.4 389.6h0M1487.9 395.1h0M1529.6 359.9h0M1404.0 398.7h0M1519.8 366.3h0M1449.8 381.2h0M1433.3 409.7h0M1431.9 383.1h0M1471.5 340.7h0M1540.8 397.1h0M1476.7 397.7h0M1442.9 389.9h0M1437.1 380.4h0M1429.3 377.4h0M1515.9 349.5h0M1430.4 392.6h0M1414.1 382.9h0M1402.7 401.2h0M1422.7 365.8h0M1447.7 354.2h0M1515.1 350.6h0M1410.5 421.8h0M1419.0 394.3h0M1439.6 358.9h0M1462.3 411.4h0M1482.5 381.5h0M1523.9 372.6h0M1464.7 374.5h0M1515.6 365.7h0M1415.0 394.7h0M1515.5 314.5h0M1448.4 404.6h0M1436.1 372.6h0M1486.3 362.8h0M1415.3 374.7h0M1463.0 384.4h0M1446.8 363.4h0M1464.7 362.7h0M1500.2 382.2h0M1513.6 377.6h0M1521.1 360.1h0M1484.5 358.2h0M1416.9 396.9h0M1522.4 372.6h0M1406.3 384.4h0M1511.8 372.3h0M1414.5 411.5h0M1445.3 394.7h0M1417.2 374.9h0M1499.4 340.2h0M1410.1 408.0h0M1526.4 344.4h0M1429.9 365.8h0M1436.1 341.2h0M1531.7 369.6h0M1445.1 373.8h0M1526.6 373.6h0M1492.9 369.1h0M1412.8 409.3h0M1435.1 393.7h0M1443.6 352.6h0M1506.5 340.5h0M1443.0 359.9h0M1525.0 366.7h0M1462.1 397.9h0M1404.7 376.7h0M1509.0 369.5h0M1495.7 364.8h0M1457.3 388.5h0M1427.5 411.4h0M1402.5 379.5h0M1447.1 387.0h0M1526.6 347.9h0M1404.5 387.1h0M1419.5 351.9h0M1429.6 381.6h0M1506.3 355.3h0M1524.1 336.3h0M1489.7 347.9h0M1423.3 402.1h0M1614.3 321.2h0M1580.7 366.3h0M1594.8 399.9h0M1717.6 294.7h0M1720.5 317.8h0M1750.9 332.2h0M1652.1 333.4h0M1577.1 396.3h0M1622.0 351.8h0M1597.1 355.4h0M1584.9 383.3h0M1592.6 363.7h0M1678.5 345.9h0M1683.0 356.0h0M1667.1 354.9h0M1670.7 341.7h0M1644.1 384.7h0M1691.4 349.2h0M1573.4 386.8h0M1602.0 371.7h0M1593.5 373.1h0M1612.2 339.4h0M1669.8 346.4h0M1733.1 292.3h0M1643.6 366.7h0M1581.6 363.8h0M1640.8 360.6h0M1594.7 367.6h0M1680.4 340.7h0M1585.1 393.2h0M1581.8 413.9h0M1577.7 368.7h0M1579.9 374.7h0M1576.1 398.0h0M1578.7 346.4h0M1611.8 360.3h0M1581.9 334.9h0M1668.4 360.9h0M1638.3 369.5h0M1604.7 374.2h0M1647.2 357.1h0M1670.5 374.9h0M1690.2 333.6h0M1693.6 360.6h0M1722.8 309.0h0M1682.3 347.3h0M1587.8 346.7h0M1665.8 365.5h0M1656.6 387.7h0M1612.0 373.3h0M1750.5 306.0h0M1798.8 322.4h0M1765.7 322.8h0M1757.8 340.6h0M1805.1 271.4h0" stroke="#d62728" stroke-opacity="0.6" stroke-width="5.8" stroke-linecap="round" fill="none"/>
<path d="M1355.6 482.1h0M1370.4 450.8h0M1419.9 429.4h0M1435.0 408.9h0M1416.3 381.9h0M1409.3 423.1h0M1384.1 454.1h0M1367.5 469.3h0M1448.6 405.3h0M1370.2 463.5h0M1414.3 428.6h0M1400.0 425.0h0M1387.7 440.3h0M1431.1 434.2h0M1370.4 460.8h0M1368.5 464.2h0M1436.3 451.1h0M1400.3 443.0h0M1384.6 454.4h0M1400.7 433.9h0M1446.7 409.3h0M1398.7 471.9h0M1427.0 407.0h0M1431.1 417.0h0M1453.6 407.2h0M1400.6 423.3h0M1445.1 404.1h0M1401.4 429.3h0M1385.1 447.0h0M1373.5 476.7h0M1386.8 440.9h0M1396.5 439.3h0M1431.6 415.1h0M1381.6 458.4h0M1446.5 405.1h0M1433.9 415.6h0M1369.8 459.3h0M1376.4 446.2h0M1406.3 425.5h0M1415.7 439.6h0M1424.6 417.2h0M1356.5 472.4h0M1428.8 423.2h0M1392.4 435.5h0M1387.6 446.5h0M1407.3 428.8h0M1405.8 442.0h0M1440.6 431.3h0M1407.3 446.1h0M1385.1 463.5h0M1411.7 398.7h0M1403.0 423.8h0M1420.2 419.4h0M1441.9 396.1h0M1383.8 466.1h0M1371.2 454.0h0M1374.5 465.4h0M1375.3 467.0h0M1432.6 428.8h0M1409.4 440.3h0M1369.7 456.4h0M1422.0 416.9h0M1399.6 442.6h0M1442.1 407.3h0M1375.1 452.4h0M1432.7 423.8h0M1401.7 433.6h0M1436.0 415.3h0M1416.4 444.5h0M1406.1 426.4h0M1372.3 455.1h0M1378.2 445.9h0M1442.7 403.4h0M1404.7 437.0h0M1416.6 411.2h0M1399.7 456.5h0M1374.4 457.2h0M1377.4 445.8h0M1372.0 479.1h0M1451.7 411.0h0M1408.6 447.6h0M1457.0 414.3h0M1418.8 433.8h0M1441.1 405.5h0M1405.7 431.3h0M1450.7 430.9h0M1372.4 471.8h0M1400.3 433.3h0M1428.6 423.3h0M1419.0 400.6h0M1400.8 444.2h0M1415.9 450.5h0M1367.4 465.3h0M1406.4 436.7h0M1433.3 424.2h0M1364.0 457.8h0M1430.5 416.4h0M1443.6 403.4h0M1413.1 440.8h0M1405.8 427.1h0M1412.6 423.3h0M1373.7 450.7h0M1367.1 476.6h0M1408.7 423.7h0M1544.1 360.7h0M1478.9 386.7h0M1447.5 394.2h0M1501.2 368.4h0M1468.5 382.8h0M1445.3 388.4h0M1518.9 361.1h0M1560.9 348.7h0M1555.6 334.9h0M1420.1 389.6h0M1491.7 336.2h0M1504.8 356.1h0M1561.2 391.7h0M1443.8 359.9h0M1552.9 329.5h0M1569.7 313.7h0M1485.9 337.2h0M1457.3 372.0h0M1463.2 387.9h0M1499.3 362.0h0M1534.2 333.8h0M1534.5 331.2h0M1559.6 373.8h0M1513.1 357.1h0M1497.0 370.5h0M1481.9 360.0h0M1520.3 375.4h0M1491.5 366.2h0M1514.7 345.7h0M1496.0 400.6h0M1421.9 403.8h0M1531.3 349.5h0M1439.8 413.7h0M1465.7 342.0h0M1519.6 349.2h0M1502.9 366.8h0M1568.9 324.8h0M1556.0 338.9h0M1562.1 389.3h0M1420.0 391.5h0M1443.1 401.2h0M1580.6 386.7h0M1426.0 397.3h0M1488.8 350.2h0M1510.6 375.9h0M1547.7 351.0h0M1447.0 407.9h0M1510.3 382.0h0M1463.2 374.4h0M1559.8 335.7h0M1554.5 338.0h0M1440.6 399.9h0M1435.9 379.0h0M1558.9 317.6h0M1533.4 364.4h0M1432.0 402.8h0M1447.1 385.4h0M1451.3 395.2h0M1525.2 371.7h0M1477.8 382.5h0M1450.3 390.2h0M1519.8 366.5h0M1426.8 387.6h0M1524.9 347.5h0M1417.7 360.0h0M1424.6 378.0h0M1531.9 360.6h0M1564.2 402.9h0M1523.5 325.4h0M1489.7 375.0h0M1493.2 363.3h0M1517.7 403.6h0M1425.8 391.8h0M1476.6 385.7h0M1458.3 372.3h0M1445.6 389.6h0M1519.9 363.1h0M1509.7 356.1h0M1508.1 387.9h0M1518.3 326.8h0M1500.7 366.3h0M1562.1 327.6h0M1491.0 357.8h0M1568.0 340.0h0M1502.4 355.4h0M1447.8 434.8h0M1431.1 385.9h0M1536.6 311.4h0M1565.6 359.0h0M1467.0 378.3h0M1558.8 373.3h0M1459.2 395.2h0M1524.8 369.4h0M1458.2 438.1h0M1471.0 375.6h0M1501.1 344.6h0M1493.0 334.5h0M1517.2 377.9h0M1520.4 347.3h0M1555.6 310.3h0M1528.9 382.7h0M1503.5 350.4h0M1446.2 328.7h0M1461.1 370.2h0M1507.1 416.4h0M1505.7 336.4h0M1512.0 354.0h0M1557.6 359.9h0M1564.0 326.3h0M1509.2 399.5h0M1492.7 357.7h0M1573.9 345.7h0M1518.8 390.4h0M1536.7 369.4h0M1442.8 388.8h0M1559.6 345.5h0M1498.3 376.2h0M1483.9 364.9h0M1496.3 365.2h0M1537.3 328.8h0M1516.3 339.9h0M1451.6 379.2h0M1454.9 386.2h0M1419.5 403.2h0M1534.9 379.6h0M1483.3 367.9h0M1406.6 416.3h0M1480.5 370.6h0M1407.1 399.6h0M1488.3 381.5h0M1469.0 335.7h0M1447.7 407.0h0M1437.3 390.4h0M1426.8 370.2h0M1493.0 364.9h0M1412.1 391.7h0M1427.5 397.0h0M1508.7 363.2h0M1421.1 400.5h0M1505.0 364.8h0M1467.7 376.1h0M1521.3 357.5h0M1491.7 349.3h0M1410.5 391.8h0M1404.2 382.9h0M1521.5 338.9h0M1495.5 322.6h0M1489.9 333.2h0M1480.1 358.8h0M1419.2 390.7h0M1424.2 354.8h0M1482.9 342.5h0M1444.4 389.7h0M1488.3 395.4h0M1451.0 375.4h0M1429.3 390.9h0M1448.6 377.2h0M1395.9 392.8h0M1481.2 368.3h0M1531.0 374.5h0M1517.1 360.9h0M1445.9 355.8h0M1436.7 387.3h0M1492.8 356.8h0M1449.5 379.2h0M1447.7 368.4h0M1436.8 368.4h0M1428.8 392.8h0M1474.6 392.1h0M1493.2 372.3h0M1492.0 354.5h0M1486.1 336.1h0M1449.2 378.0h0M1468.0 338.2h0M1404.5 380.8h0M1420.4 420.0h0M1491.4 355.0h0M1517.6 345.6h0M1431.6 387.4h0M1456.5 365.0h0M1416.7 363.2h0M1465.9 376.3h0M1489.2 355.9h0M1426.3 387.4h0M1424.8 368.4h0M1445.7 399.4h0M1454.4 345.1h0M1452.1 377.4h0M1491.5 369.8h0M1407.4 393.7h0M1460.4 349.2h0M1516.0 365.4h0M1446.6 362.8h0M1527.4 368.1h0M1444.7 371.6h0M1486.6 383.8h0M1478.8 382.7h0M1442.1 383.1h0M1471.9 385.3h0M1413.3 377.2h0M1495.4 373.2h0M1494.5 353.7h0M1477.8 335.5h0M1429.8 386.1h0M1430.5 373.7h0M1460.5 386.1h0M1418.0 360.9h0M1491.3 359.8h0M1505.7 360.8h0M1496.1 367.4h0M1406.0 380.4h0M1494.8 350.3h0M1415.2 387.5h0M1482.5 369.5h0M1418.4 398.4h0M1524.4 360.9h0M1494.1 357.7h0M1459.8 389.6h0M1455.4 389.7h0M1430.4 355.2h0M1507.1 317.4h0M1519.2 325.4h0M1402.3 401.2h0M1397.8 396.7h0M1447.4 377.4h0M1491.2 351.1h0M1448.8 379.5h0M1427.0 366.1h0M1444.2 387.3h0M1407.6 405.3h0M1482.3 363.5h0M1516.8 365.9h0M1408.5 371.2h0M1495.1 354.7h0M1406.4 370.9h0M1449.9 390.1h0M1433.8 382.2h0M1496.8 375.0h0M1528.5 366.8h0M1419.4 417.2h0M1522.6 373.4h0M1535.9 379.9h0M1486.9 366.5h0M1512.2 383.5h0M1509.6 392.9h0M1490.2 373.3h0M1486.5 334.7h0M1518.0 363.8h0M1480.2 391.0h0M1478.9 357.7h0M1463.0 396.1h0M1405.6 391.2h0M1485.6 383.8h0M1500.1 384.6h0M1455.0 377.9h0M1420.8 380.6h0M1444.8 383.4h0M1413.9 375.1h0M1472.8 355.0h0M1414.9 392.5h0M1448.7 384.7h0M1514.5 370.6h0M1502.4 340.8h0M1431.6 388.2h0M1461.9 372.3h0M1484.3 362.9h0M1440.7 382.9h0M1504.7 373.3h0M1431.7 417.9h0M1487.3 376.9h0M1459.1 322.6h0M1500.7 361.7h0M1483.4 379.8h0M1402.2 382.5h0M1477.8 368.6h0M1464.8 378.9h0M1511.4 373.3h0M1428.2 401.5h0M1503.6 397.2h0M1508.1 374.6h0M1509.7 363.2h0M1511.2 353.9h0M1449.7 346.8h0M1431.8 340.4h0M1429.8 378.6h0M1475.6 363.0h0M1463.6 374.1h0M1485.5 368.8h0M1409.1 368.6h0M1518.3 377.6h0M1455.2 372.2h0M1449.5 378.0h0M1494.0 355.3h0M1441.8 387.0h0M1477.4 360.3h0M1521.5 354.0h0M1487.4 357.0h0M1517.7 380.2h0M1506.7 381.6h0M1499.7 364.1h0M1507.3 357.2h0M1450.0 393.1h0M1445.4 393.0h0M1644.3 360.6h0M1618.3 391.6h0M1749.4 328.3h0M1719.8 330.3h0M1705.8 340.3h0M1708.4 359.8h0M1702.2 330.5h0M1723.9 333.6h0M1660.3 337.3h0M1627.9 364.3h0M1574.8 369.3h0M1733.1 331.2h0M1744.7 317.5h0M1668.4 354.1h0M1686.1 351.1h0M1715.0 353.9h0M1608.4 393.6h0M1630.1 360.2h0M1678.3 320.7h0M1678.3 348.4h0M1706.9 327.6h0M1691.9 361.0h0M1630.1 370.3h0M1613.7 379.5h0M1570.9 379.6h0M1737.6 321.0h0M1654.4 338.1h0M1732.5 292.9h0M1626.1 365.0h0M1715.7 336.5h0M1737.7 335.4h0M1586.0 377.7h0M1584.3 361.3h0M1581.6 356.7h0M1677.9 362.8h0M1577.2 351.0h0M1588.9 400.3h0M1695.4 351.8h0M1738.4 349.3h0M1738.0 296.1h0M1740.3 298.5h0M1793.8 305.1h0" stroke="#d62728" stroke-opacity="0.6" stroke-width="5.8" stroke-linecap="round" fill="none"/>
<path d="M1429.0 428.1h0M1406.9 436.2h0M1438.6 400.9h0M1442.1 390.4h0M1377.5 460.9h0M1415.8 436.5h0M1415.5 438.2h0M1417.8 404.3h0M1403.8 421.3h0M1447.7 400.8h0M1398.6 448.7h0M1389.3 459.6h0M1421.7 430.7h0M1421.6 437.2h0M1447.6 407.7h0M1436.5 417.7h0M1388.6 437.9h0M1422.2 397.8h0M1434.6 401.1h0M1425.8 427.3h0M1360.8 482.5h0M1400.8 433.3h0M1415.1 431.6h0M1432.9 405.0h0M1374.3 446.6h0M1401.7 460.1h0M1437.8 406.9h0M1406.8 437.0h0M1370.8 471.2h0M1426.3 422.7h0M1367.6 481.6h0M1373.3 451.3h0M1373.8 466.9h0M1403.3 425.4h0M1451.6 407.8h0M1362.5 460.0h0M1420.6 420.4h0M1374.8 465.7h0M1454.0 419.7h0M1372.2 452.4h0M1403.3 429.5h0M1411.2 428.7h0M1388.4 460.9h0M1391.2 426.5h0M1440.9 417.1h0M1409.9 432.3h0M1417.2 442.7h0M1381.0 469.8h0M1368.6 477.2h0M1378.4 469.3h0M1419.0 430.8h0M1400.5 444.0h0M1444.3 414.3h0M1376.8 448.9h0M1428.1 408.1h0M1430.8 427.0h0M1412.5 435.1h0M1452.6 416.3h0M1365.9 460.6h0M1411.0 412.1h0M1359.1 469.4h0M1430.9 417.0h0M1445.6 401.0h0M1386.2 450.5h0M1377.6 458.4h0M1381.8 462.8h0M1353.7 479.1h0M1416.8 419.5h0M1410.6 431.6h0M1386.3 447.9h0M1437.3 427.9h0M1423.8 429.7h0M1369.1 482.1h0M1381.3 437.5h0M1448.8 409.0h0M1374.3 440.7h0M1409.1 422.2h0M1436.8 421.5h0M1387.0 464.5h0M1450.1 405.0h0M1442.2 416.6h0M1380.7 450.7h0M1402.3 470.6h0M1393.5 459.6h0M1400.5 438.1h0M1433.1 418.2h0M1400.6 442.6h0M1414.3 419.9h0M1417.5 430.7h0M1399.1 440.2h0M1416.8 432.5h0M1501.6 345.3h0M1584.1 365.4h0M1564.2 349.2h0M1473.1 359.4h0M1500.2 411.0h0M1576.0 358.8h0M1471.1 387.3h0M1554.4 323.4h0M1530.7 353.2h0M1499.8 365.7h0M1487.7 358.6h0M1522.0 329.6h0M1540.8 347.5h0M1546.0 411.6h0M1467.1 389.8h0M1437.4 427.1h0M1474.7 374.2h0M1540.1 330.6h0M1469.5 409.4h0M1459.0 357.1h0M1451.1 366.2h0M1551.6 364.9h0M1559.2 350.0h0M1458.2 359.6h0M1531.9 387.2h0M1527.5 366.3h0M1443.1 396.9h0M1460.5 436.8h0M1556.6 357.8h0M1466.7 353.4h0M1488.9 380.2h0M1460.2 395.9h0M1529.5 392.1h0M1443.5 372.8h0M1515.9 342.8h0M1423.4 406.8h0M1560.7 381.5h0M1521.5 396.4h0M1489.8 375.2h0M1531.3 329.0h0M1532.6 418.8h0M1412.8 363.1h0M1425.9 381.1h0M1544.0 348.2h0M1508.9 379.8h0M1518.5 404.7h0M1456.2 383.6h0M1475.9 379.2h0M1424.4 368.5h0M1547.6 336.9h0M1512.6 316.0h0M1427.8 418.5h0M1533.1 390.3h0M1573.2 347.5h0M1449.1 346.4h0M1440.0 442.8h0M1450.2 404.5h0M1453.4 387.2h0M1479.4 428.0h0M1505.0 343.9h0M1446.0 416.8h0M1549.3 308.0h0M1532.8 351.2h0M1462.4 376.1h0M1465.7 397.6h0M1479.0 385.0h0M1548.4 321.1h0M1420.2 390.7h0M1555.0 360.9h0M1495.2 366.1h0M1528.0 336.9h0M1445.5 355.1h0M1556.0 377.2h0M1487.4 396.4h0M1535.4 361.6h0M1547.1 362.9h0M1449.0 392.7h0M1528.9 379.0h0M1433.0 375.0h0M1536.5 414.2h0M1483.9 340.6h0M1492.8 383.0h0M1547.5 297.2h0M1452.2 368.4h0M1506.0 350.8h0M1489.9 343.4h0M1418.8 388.4h0M1487.0 360.6h0M1439.2 418.7h0M1481.2 365.9h0M1575.3 328.8h0M1510.3 362.0h0M1564.6 381.1h0M1426.1 379.0h0M1565.0 379.9h0M1584.0 378.3h0M1561.5 357.5h0M1589.2 392.3h0M1468.1 378.2h0M1446.0 452.9h0M1555.6 349.3h0M1546.8 363.3h0M1460.6 367.0h0M1432.2 403.6h0M1570.8 348.3h0M1497.5 394.0h0M1556.7 325.3h0M1478.0 335.6h0M1480.8 386.7h0M1484.3 313.4h0M1425.7 405.6h0M1538.6 296.7h0M1451.1 411.4h0M1456.2 318.1h0M1516.8 356.9h0M1474.0 398.5h0M1495.4 338.5h0M1503.6 381.1h0M1542.8 327.1h0M1562.3 362.8h0M1496.7 399.2h0M1458.3 394.1h0M1443.5 403.0h0M1480.7 395.6h0M1441.7 404.2h0M1481.7 373.7h0M1511.0 351.8h0M1483.8 383.9h0M1475.0 354.0h0M1424.5 403.1h0M1459.6 389.2h0M1517.8 334.2h0M1511.9 387.4h0M1499.4 363.7h0M1506.3 378.4h0M1513.4 354.4h0M1467.5 359.0h0M1507.1 340.1h0M1479.0 383.9h0M1404.5 396.2h0M1485.8 371.5h0M1463.9 384.9h0M1436.3 387.8h0M1476.6 344.5h0M1492.3 350.8h0M1504.2 368.7h0M1428.7 421.9h0M1450.5 388.8h0M1424.1 365.2h0M1458.4 371.0h0M1510.5 345.8h0M1490.0 322.0h0M1414.1 406.1h0M1471.3 367.8h0M1427.8 387.5h0M1504.2 368.5h0M1524.0 359.5h0M1428.0 404.7h0M1445.1 370.1h0M1518.5 371.2h0M1450.8 390.5h0M1483.8 351.6h0M1407.9 374.9h0M1445.5 381.6h0M1420.3 387.1h0M1407.9 407.2h0M1464.5 373.7h0M1510.6 358.5h0M1515.9 354.4h0M1419.1 413.8h0M1448.0 362.9h0M1490.3 364.5h0M1443.6 391.6h0M1494.6 315.2h0M1487.5 378.8h0M1514.8 379.2h0M1427.1 360.4h0M1507.2 375.5h0M1488.4 390.3h0M1442.1 376.3h0M1486.9 364.4h0M1517.3 354.6h0M1448.2 395.9h0M1506.6 374.6h0M1402.0 393.1h0M1469.2 374.5h0M1413.8 390.7h0M1504.0 356.7h0M1400.8 387.3h0M1431.0 366.3h0M1465.5 376.9h0M1444.3 373.6h0M1464.3 358.2h0M1505.3 356.0h0M1505.9 349.1h0M1439.9 404.0h0M1512.3 353.0h0M1432.2 375.4h0M1479.3 348.1h0M1455.2 349.5h0M1402.7 405.2h0M1400.1 390.1h0M1414.6 403.4h0M1475.4 350.3h0M1486.8 353.0h0M1450.0 368.3h0M1409.6 404.4h0M1401.8 411.6h0M1446.5 396.4h0M1501.2 366.8h0M1492.4 338.4h0M1460.8 379.5h0M1417.8 395.9h0M1509.6 354.4h0M1460.0 357.6h0M1462.5 380.1h0M1444.7 385.3h0M1524.8 341.2h0M1476.4 352.5h0M1467.5 386.9h0M1464.8 358.6h0M1455.4 362.4h0M1422.0 375.9h0M1433.4 359.3h0M1461.5 378.8h0M1407.9 416.1h0M1419.4 409.9h0M1419.0 395.7h0M1427.9 398.0h0M1482.3 380.3h0M1413.0 355.5h0M1419.3 377.0h0M1456.0 360.4h0M1400.1 404.2h0M1490.8 391.7h0M1431.7 392.3h0M1490.0 396.2h0M1511.5 395.4h0M1481.9 354.6h0M1480.0 343.6h0M1429.4 379.5h0M1465.7 346.8h0M1507.9 335.5h0M1461.1 443.5h0M1524.2 364.0h0M1448.2 388.5h0M1458.9 357.4h0M1461.5 364.3h0M1452.5 365.6h0M1433.7 407.0h0M1432.1 384.3h0M1487.2 380.0h0M1436.0 375.3h0M1482.6 336.6h0M1447.5 389.1h0M1491.1 362.2h0M1508.2 368.2h0M1442.9 392.5h0M1488.4 361.0h0M1442.0 357.6h0M1440.5 381.8h0M1504.5 405.4h0M1529.0 359.5h0M1405.9 388.5h0M1442.6 393.9h0M1408.5 383.2h0M1426.7 392.8h0M1507.5 348.3h0M1509.2 353.8h0M1523.8 394.4h0M1424.3 372.0h0M1519.5 368.0h0M1474.1 350.4h0M1474.4 399.0h0M1449.3 340.7h0M1482.5 342.1h0M1471.6 352.4h0M1519.8 331.4h0M1492.9 356.3h0M1436.6 369.3h0M1521.8 343.5h0M1488.5 373.7h0M1502.0 366.1h0M1467.3 370.9h0M1528.0 370.6h0M1467.3 387.6h0M1444.1 384.3h0M1411.7 370.4h0M1404.9 401.0h0M1412.7 364.2h0M1428.6 404.6h0M1425.4 413.3h0M1505.8 370.0h0M1499.9 349.3h0M1522.4 357.2h0M1530.0 355.1h0M1505.0 363.4h0M1678.3 334.6h0M1579.7 374.7h0M1576.1 390.8h0M1578.7 383.5h0M1587.7 374.1h0M1694.8 361.5h0M1601.6 357.8h0M1618.9 378.0h0M1599.7 370.9h0M1616.6 362.4h0M1588.5 403.7h0M1577.3 348.1h0M1677.8 339.6h0M1744.5 325.8h0M1596.0 382.2h0M1582.9 384.2h0M1627.0 342.7h0M1649.2 350.2h0M1570.4 373.1h0M1576.0 368.1h0M1637.3 395.6h0M1569.1 372.4h0M1600.7 358.9h0M1582.2 377.5h0M1610.6 383.8h0M1597.8 396.8h0M1605.6 380.5h0M1572.8 383.8h0M1630.5 382.6h0M1713.1 307.0h0M1638.8 373.7h0M1725.9 354.1h0M1603.3 390.0h0M1719.2 347.3h0M1603.9 357.4h0M1634.0 358.5h0M1597.3 331.0h0M1656.6 370.6h0M1706.3 348.6h0M1725.3 352.9h0M1738.9 292.2h0M1749.7 313.3h0M1761.1 321.9h0M1804.9 301.2h0" stroke="#d62728" stroke-opacity="0.6" stroke-width="5.8" stroke-linecap="round" fill="none"/>
<path d="M1419.7 420.0h0M1435.8 401.0h0M1403.8 446.2h0M1413.0 411.8h0M1431.4 414.9h0M1436.7 426.4h0M1424.0 408.3h0M1401.9 435.9h0M1380.4 457.9h0M1415.6 443.2h0M1382.6 478.8h0M1380.4 453.8h0M1419.5 430.8h0M1368.1 473.2h0M1416.5 429.3h0M1383.0 454.8h0M1405.4 434.2h0M1447.4 411.6h0M1367.0 452.1h0M1382.4 464.3h0M1401.4 448.2h0M1405.3 417.3h0M1449.3 427.1h0M1386.4 451.0h0M1423.9 440.5h0M1422.4 433.4h0M1404.3 452.1h0M1433.6 406.1h0M1390.2 454.0h0M1358.7 483.2h0M1426.1 428.8h0M1406.2 431.5h0M1387.4 455.8h0M1391.1 440.1h0M1432.3 421.5h0M1370.0 467.0h0M1441.1 403.0h0M1381.9 452.2h0M1439.9 415.5h0M1363.5 461.7h0M1358.8 486.6h0M1446.3 414.0h0M1381.6 446.1h0M1444.1 409.5h0M1386.6 448.4h0M1368.3 466.3h0M1376.7 476.2h0M1392.3 433.2h0M1435.0 407.0h0M1391.1 468.7h0M1445.9 418.9h0M1380.2 440.6h0M1375.1 446.0h0M1358.2 474.9h0M1386.7 453.3h0M1370.1 468.5h0M1402.0 450.3h0M1427.6 418.2h0M1434.8 435.1h0M1400.9 443.5h0M1439.9 404.2h0M1404.2 451.8h0M1402.7 428.7h0M1379.2 451.3h0M1374.0 451.4h0M1383.2 453.4h0M1407.5 446.0h0M1384.5 461.3h0M1370.7 461.6h0M1396.8 451.3h0M1409.8 435.9h0M1417.4 422.6h0M1385.8 448.7h0M1399.9 458.2h0M1398.0 465.9h0M1400.3 425.5h0M1451.8 420.8h0M1369.0 474.8h0M1441.5 405.3h0M1432.8 397.2h0M1358.7 473.5h0M1407.9 422.4h0M1368.2 476.3h0M1440.6 413.2h0M1437.2 408.1h0M1452.8 404.0h0M1385.5 450.4h0M1399.4 447.2h0M1400.4 428.8h0M1382.6 437.4h0M1364.0 476.6h0M1393.4 449.2h0M1433.4 420.1h0M1437.1 408.5h0M1388.5 466.7h0M1415.2 432.1h0M1450.3 401.9h0M1402.8 435.9h0M1563.4 363.6h0M1456.0 383.5h0M1455.7 358.8h0M1572.3 331.9h0M1480.5 379.9h0M1522.8 358.6h0M1459.8 347.2h0M1563.2 323.3h0M1486.6 376.8h0M1534.9 390.5h0M1462.7 329.7h0M1415.3 353.6h0M1415.0 370.6h0M1577.4 345.8h0M1471.6 415.8h0M1430.3 398.5h0M1517.4 378.6h0M1562.3 349.0h0M1507.6 374.0h0M1523.6 360.7h0M1456.5 420.5h0M1499.0 359.1h0M1532.8 394.8h0M1550.8 356.9h0M1544.8 382.7h0M1442.5 358.9h0M1492.1 357.9h0M1500.4 365.8h0M1549.8 350.8h0M1538.6 397.9h0M1477.2 396.8h0M1530.0 352.0h0M1575.5 353.0h0M1547.5 379.9h0M1538.0 367.2h0M1420.1 367.6h0M1461.0 364.9h0M1556.7 384.9h0M1428.6 420.5h0M1532.7 369.7h0M1524.0 393.3h0M1544.4 354.2h0M1493.9 356.6h0M1499.0 373.3h0M1582.4 353.9h0M1436.2 352.7h0M1573.4 406.9h0M1500.3 396.3h0M1526.5 387.6h0M1427.5 389.0h0M1449.5 390.3h0M1547.7 314.7h0M1508.5 376.3h0M1456.9 408.0h0M1457.7 414.7h0M1543.5 370.1h0M1416.6 382.5h0M1465.8 400.5h0M1456.6 409.1h0M1489.9 421.9h0M1436.9 401.2h0M1462.8 341.0h0M1503.9 363.2h0M1561.6 356.1h0M1427.2 401.4h0M1439.5 389.0h0M1562.2 364.3h0M1432.6 428.5h0M1487.8 362.4h0M1459.4 393.6h0M1505.9 353.5h0M1575.2 372.0h0M1463.8 346.8h0M1573.6 366.0h0M1445.3 369.4h0M1576.2 354.8h0M1563.6 353.2h0M1496.4 408.6h0M1469.9 392.3h0M1587.6 365.0h0M1547.8 354.2h0M1446.5 387.6h0M1449.7 415.5h0M1595.9 393.1h0M1549.4 416.6h0M1576.2 337.4h0M1528.5 393.1h0M1496.2 380.4h0M1491.7 379.3h0M1470.0 377.4h0M1427.4 402.2h0M1439.8 422.7h0M1481.3 415.5h0M1487.3 398.5h0M1506.5 433.9h0M1441.3 429.7h0M1495.8 340.9h0M1488.9 422.9h0M1437.2 349.2h0M1471.2 402.2h0M1478.8 441.4h0M1517.9 312.5h0M1487.4 362.8h0M1505.9 423.8h0M1496.5 359.7h0M1448.5 389.6h0M1490.1 383.0h0M1441.2 386.7h0M1497.6 382.4h0M1447.9 398.3h0M1549.1 358.6h0M1515.2 359.4h0M1571.2 319.6h0M1581.7 380.1h0M1449.2 389.5h0M1511.3 404.0h0M1521.4 385.5h0M1518.1 362.3h0M1495.4 405.7h0M1524.3 360.6h0M1572.5 349.1h0M1427.8 420.6h0M1532.1 344.1h0M1542.0 390.5h0M1490.3 402.3h0M1528.5 321.1h0M1489.8 337.3h0M1436.1 396.6h0M1431.0 403.4h0M1402.8 390.6h0M1407.5 393.4h0M1446.1 385.3h0M1467.3 389.9h0M1467.1 390.3h0M1479.4 364.9h0M1490.8 373.4h0M1421.4 398.1h0M1472.9 335.4h0M1474.4 344.2h0M1425.7 368.2h0M1473.6 353.6h0M1473.9 357.3h0M1434.4 371.3h0M1462.0 376.8h0M1462.6 365.0h0M1476.8 374.7h0M1443.9 371.3h0M1517.4 353.6h0M1431.5 357.2h0M1523.6 356.1h0M1418.6 396.7h0M1413.2 368.2h0M1435.8 392.2h0M1417.8 361.5h0M1507.0 352.8h0M1524.7 357.3h0M1441.6 365.3h0M1440.0 400.8h0M1487.4 370.7h0M1479.4 372.6h0M1503.8 377.9h0M1476.4 407.3h0M1504.5 346.2h0M1490.0 371.2h0M1446.6 392.0h0M1505.7 344.5h0M1415.9 379.9h0M1414.4 396.7h0M1498.6 375.3h0M1508.5 357.3h0M1521.9 331.6h0M1478.9 388.8h0M1508.4 350.9h0M1461.9 407.6h0M1476.9 393.1h0M1435.3 385.6h0M1514.9 377.8h0M1512.9 331.7h0M1533.2 378.2h0M1496.8 385.8h0M1414.8 412.2h0M1402.1 397.2h0M1418.2 372.2h0M1457.0 396.2h0M1477.5 380.9h0M1509.2 358.6h0M1470.2 368.2h0M1406.3 401.7h0M1472.4 383.4h0M1409.1 380.5h0M1456.4 340.8h0M1453.9 362.1h0M1441.4 411.2h0M1426.5 400.5h0M1432.4 401.0h0M1454.0 372.6h0M1437.6 387.4h0M1523.3 359.4h0M1432.2 344.2h0M1436.3 384.8h0M1498.7 343.1h0M1504.1 380.8h0M1525.1 357.0h0M1423.9 395.0h0M1525.0 385.8h0M1421.9 378.8h0M1407.8 382.8h0M1524.9 360.9h0M1421.7 364.0h0M1460.0 386.8h0M1500.0 366.5h0M1488.6 359.1h0M1451.9 354.6h0M1434.6 372.0h0M1474.3 363.5h0M1480.8 362.4h0M1481.9 375.9h0M1463.7 402.1h0M1488.8 391.2h0M1487.6 417.3h0M1504.7 349.1h0M1412.4 391.1h0M1493.4 391.2h0M1452.5 404.5h0M1490.4 311.2h0M1406.2 395.1h0M1459.9 390.7h0M1490.1 360.9h0M1432.9 387.3h0M1456.9 337.2h0M1495.5 366.2h0M1487.3 348.6h0M1415.9 396.9h0M1419.9 404.7h0M1461.3 402.2h0M1414.1 371.3h0M1420.9 390.4h0M1463.3 377.9h0M1488.7 402.6h0M1499.8 381.4h0M1461.4 349.5h0M1425.0 399.1h0M1450.5 397.2h0M1489.7 360.9h0M1509.3 338.2h0M1478.6 383.7h0M1478.6 360.8h0M1445.5 377.0h0M1457.5 355.3h0M1453.4 360.0h0M1417.1 364.5h0M1459.3 373.4h0M1463.5 369.7h0M1478.9 381.6h0M1486.5 378.9h0M1412.1 387.7h0M1507.3 355.1h0M1470.6 376.5h0M1403.6 410.0h0M1503.6 384.2h0M1478.2 359.8h0M1411.3 390.3h0M1477.8 354.7h0M1490.6 336.9h0M1486.2 366.4h0M1478.0 364.5h0M1481.1 389.9h0M1443.3 392.1h0M1504.4 386.2h0M1483.2 397.5h0M1477.5 408.1h0M1439.3 387.5h0M1505.5 343.7h0M1417.4 360.9h0M1512.3 375.4h0M1481.9 418.4h0M1410.1 404.2h0M1423.0 396.0h0M1434.0 396.7h0M1521.1 372.0h0M1493.4 403.1h0M1529.4 380.2h0M1436.8 381.1h0M1511.2 360.7h0M1408.9 396.6h0M1522.1 387.6h0M1529.1 376.7h0M1485.6 344.2h0M1514.9 313.4h0M1434.9 338.7h0M1522.8 352.7h0M1405.5 401.4h0M1509.4 336.1h0M1410.6 366.0h0M1460.6 397.2h0M1524.9 374.7h0M1499.8 323.3h0M1478.3 344.3h0M1601.3 357.2h0M1594.2 359.9h0M1713.9 345.0h0M1680.2 345.2h0M1584.8 358.4h0M1575.0 385.5h0M1580.7 405.9h0M1737.4 347.0h0M1612.4 347.9h0M1599.0 378.3h0M1586.8 395.9h0M1727.1 301.0h0M1570.5 376.2h0M1618.5 364.3h0M1621.2 378.3h0M1624.6 369.4h0M1574.3 385.7h0M1619.4 362.8h0M1644.3 345.6h0M1749.1 339.6h0M1585.9 411.4h0M1733.6 332.3h0M1711.6 312.8h0M1627.0 385.7h0M1634.5 378.4h0M1659.0 347.1h0M1573.8 375.4h0M1620.6 369.8h0M1618.8 392.3h0M1660.5 348.4h0M1642.4 368.6h0M1637.9 364.6h0M1748.5 319.9h0M1570.0 368.0h0M1589.3 357.2h0M1722.1 344.5h0M1604.0 405.2h0M1592.4 377.6h0M1689.8 348.5h0M1755.6 345.7h0M1743.9 312.1h0M1753.8 338.0h0M1573.7 391.4h0M1573.9 354.2h0M1591.8 376.9h0M1597.1 367.8h0M1785.7 284.9h0M1768.3 318.1h0M1783.8 306.7h0" stroke="#d62728" stroke-opacity="0.6" stroke-width="5.8" stroke-linecap="round" fill="none"/>
<polygon points="1350.0,478.0 1370.0,446.0 1386.0,418.0 1396.0,402.0 1422.0,393.0 1452.0,396.0 1483.0,402.0 1514.0,409.0 1530.0,412.0 1453.0,422.0 1400.0,452.0 1350.0,482.0" fill="#9467bd" fill-opacity="0.9" stroke="#9467bd" stroke-opacity="0.9" stroke-width="4" stroke-linejoin="round"/>
<path d="M1381.0 428.9h0M1377.6 441.8h0M1388.5 458.4h0M1389.4 470.4h0M1382.2 462.2h0M1364.4 450.6h0M1416.9 442.5h0M1364.1 474.9h0M1395.9 445.5h0M1404.4 451.1h0M1386.9 440.9h0M1433.6 416.6h0M1415.1 413.7h0M1402.3 455.7h0M1397.2 437.5h0M1400.0 450.2h0M1424.6 415.0h0M1411.4 449.8h0M1412.0 449.1h0M1431.5 419.6h0M1427.6 399.8h0M1418.6 402.8h0M1411.4 449.1h0M1420.6 436.1h0M1389.0 452.1h0M1443.3 426.2h0M1414.8 439.5h0M1413.9 412.8h0M1404.0 444.2h0M1404.5 460.1h0M1387.8 435.0h0M1428.5 425.3h0M1444.6 421.8h0M1413.4 443.4h0M1347.8 478.9h0M1404.2 443.2h0M1418.0 447.0h0M1384.5 462.9h0M1435.5 410.2h0M1425.7 419.1h0M1388.0 456.8h0M1382.4 464.6h0M1364.9 461.0h0M1414.5 415.6h0M1431.1 429.6h0M1384.6 443.1h0M1432.3 428.5h0M1421.0 393.7h0M1383.8 429.1h0M1403.8 446.8h0M1414.1 432.1h0M1394.2 458.1h0M1406.9 454.3h0M1383.9 466.8h0M1422.9 427.7h0M1438.0 415.0h0M1346.4 479.5h0M1393.4 423.6h0M1389.6 436.7h0M1367.0 460.7h0M1401.5 431.9h0M1419.8 447.5h0M1412.7 444.4h0M1423.6 395.9h0M1406.2 402.8h0M1414.7 416.9h0M1355.7 481.0h0M1400.0 456.7h0M1354.6 480.2h0M1434.4 427.5h0M1403.8 434.2h0M1364.5 476.3h0M1399.8 429.0h0M1410.8 437.8h0M1430.2 411.2h0M1441.8 416.3h0M1367.2 474.3h0M1373.6 473.5h0M1389.4 437.5h0M1446.0 419.5h0M1419.5 441.0h0M1367.5 474.1h0M1366.6 462.7h0M1385.6 447.3h0M1414.8 421.4h0M1393.0 446.7h0M1369.8 471.2h0M1382.5 456.5h0M1404.7 436.3h0M1415.8 438.1h0M1376.5 444.6h0M1399.3 432.6h0M1380.4 460.4h0M1390.0 451.6h0M1382.9 466.4h0M1422.1 444.7h0M1434.2 455.2h0M1381.8 436.7h0M1418.1 426.4h0M1424.6 416.4h0M1378.0 440.7h0M1412.9 435.9h0M1419.0 424.5h0M1384.9 455.3h0M1420.4 424.5h0M1382.8 463.0h0M1355.4 474.9h0M1352.3 474.0h0M1406.9 433.6h0M1432.3 444.5h0M1373.0 464.2h0M1367.1 458.9h0M1356.9 479.1h0M1356.7 477.1h0M1391.4 451.3h0M1424.3 440.3h0M1386.8 426.0h0M1402.9 438.0h0M1398.9 444.8h0M1401.1 453.6h0M1424.3 415.5h0M1404.6 414.3h0M1417.3 432.6h0M1431.8 441.4h0M1417.6 401.9h0M1438.0 410.0h0M1422.0 407.9h0M1360.1 472.7h0M1421.0 403.8h0M1397.0 460.1h0M1398.5 449.1h0M1434.3 440.6h0M1423.8 417.8h0M1408.0 418.3h0M1371.4 450.9h0M1374.7 456.1h0M1387.1 455.9h0M1400.5 443.2h0M1427.7 422.6h0M1419.7 433.5h0M1404.2 441.9h0M1446.3 429.5h0M1361.5 475.5h0M1390.8 443.3h0M1389.5 442.4h0M1396.6 451.5h0M1462.0 444.1h0M1356.8 467.6h0M1398.0 410.9h0M1430.6 415.2h0M1385.6 461.7h0M1388.1 415.9h0M1379.7 445.9h0M1427.8 422.4h0M1413.9 447.7h0M1374.5 469.2h0M1430.2 401.2h0M1381.2 454.7h0M1358.0 482.6h0M1414.1 431.5h0M1362.1 468.0h0M1406.1 416.0h0M1365.1 461.8h0M1401.9 417.6h0M1402.7 429.5h0M1429.0 429.6h0M1386.9 432.4h0M1420.1 396.6h0M1384.8 472.0h0M1395.3 469.3h0M1399.3 456.3h0M1393.3 426.2h0M1426.2 418.1h0M1402.7 427.0h0M1388.1 442.8h0M1374.2 459.8h0M1366.8 460.5h0M1398.5 448.6h0M1373.2 470.3h0M1434.3 448.3h0M1392.2 459.7h0M1430.4 401.1h0M1371.7 460.6h0M1412.3 452.1h0M1392.9 467.4h0M1386.2 450.9h0M1380.5 476.2h0M1432.9 424.8h0M1381.8 458.0h0M1385.7 440.8h0M1415.0 401.5h0M1383.6 466.8h0M1361.7 474.7h0M1420.5 451.4h0M1415.8 429.7h0M1419.8 423.8h0M1415.5 426.3h0M1397.4 442.8h0M1387.5 471.2h0M1415.2 436.7h0M1438.8 419.6h0M1378.4 456.7h0M1393.8 447.4h0M1374.9 468.9h0M1440.1 449.1h0M1400.1 450.9h0M1367.6 471.3h0M1369.9 444.4h0M1353.7 472.1h0M1402.3 423.2h0M1384.9 461.7h0M1440.3 411.1h0M1362.0 458.6h0M1408.9 433.5h0M1375.8 443.5h0M1364.0 469.7h0M1375.8 451.1h0M1357.0 471.2h0M1431.5 427.3h0M1373.4 446.3h0M1434.4 422.0h0M1419.0 426.4h0M1423.4 444.0h0M1364.1 462.4h0M1426.4 406.7h0M1380.1 440.9h0M1432.3 416.2h0M1409.6 461.4h0M1358.3 462.0h0M1358.9 464.7h0M1389.2 469.5h0M1353.5 475.1h0M1439.8 434.2h0M1427.8 422.5h0M1388.8 457.4h0M1394.6 429.5h0M1374.8 430.7h0M1414.5 422.1h0M1382.7 431.6h0M1422.5 426.4h0M1410.3 401.2h0M1363.7 450.9h0M1416.4 410.3h0M1373.0 444.3h0M1381.6 461.0h0M1381.8 443.3h0M1417.2 403.7h0M1422.2 430.3h0M1412.2 431.1h0M1416.3 412.1h0M1447.3 429.5h0M1410.9 433.9h0M1429.1 416.2h0M1364.9 459.7h0M1374.6 459.8h0M1393.7 442.4h0M1431.5 403.5h0M1413.9 405.9h0M1419.0 427.0h0M1426.7 415.3h0M1413.0 424.8h0M1439.3 403.0h0M1410.6 378.9h0M1582.6 368.3h0M1492.5 395.4h0M1521.1 344.5h0M1534.6 341.6h0M1542.7 388.2h0M1418.5 415.9h0M1491.9 392.5h0M1520.4 370.6h0M1474.4 414.2h0M1514.4 373.5h0M1535.9 372.5h0M1541.9 345.1h0M1560.2 357.9h0M1540.4 371.1h0M1546.1 378.9h0M1464.9 398.5h0M1517.1 419.3h0M1460.8 400.6h0M1561.4 354.0h0M1422.7 389.9h0M1434.0 414.8h0M1434.5 372.9h0M1523.8 394.9h0M1552.0 376.6h0M1557.7 380.2h0M1467.1 412.5h0M1565.2 352.5h0M1448.7 389.5h0M1534.7 340.5h0M1504.0 396.1h0M1568.0 354.4h0M1531.7 369.0h0M1474.8 391.6h0M1445.9 401.8h0M1548.2 351.4h0M1529.6 345.5h0M1514.5 380.5h0M1565.0 329.6h0M1517.4 372.3h0M1502.1 414.8h0M1485.1 379.4h0M1449.1 406.4h0M1543.4 382.6h0M1501.7 411.6h0M1515.3 406.9h0M1528.2 356.8h0M1547.1 388.6h0M1474.1 377.8h0M1551.1 381.7h0M1456.4 436.7h0M1537.4 343.5h0M1432.4 415.8h0M1431.6 381.1h0M1423.5 401.3h0M1436.2 424.4h0M1463.7 381.8h0M1435.8 372.9h0M1412.7 398.9h0M1402.9 405.9h0M1438.2 393.5h0M1466.2 391.2h0M1437.8 367.4h0M1437.4 392.6h0M1414.7 400.4h0M1472.7 382.0h0M1448.9 415.5h0M1424.8 393.4h0M1463.2 388.9h0M1419.3 394.7h0M1442.5 388.7h0M1466.5 395.5h0M1458.1 397.7h0M1421.6 405.6h0M1421.4 384.6h0M1446.7 401.2h0M1407.8 414.1h0M1472.8 378.7h0M1475.7 385.2h0M1408.3 384.8h0M1428.3 409.5h0M1391.2 407.8h0M1457.8 380.8h0M1412.1 413.2h0M1473.8 372.3h0M1456.1 381.8h0M1398.2 408.8h0M1473.7 365.3h0M1440.9 352.8h0M1394.1 399.7h0M1469.6 381.1h0M1449.3 399.5h0M1422.0 400.9h0M1450.6 391.1h0M1431.4 399.7h0M1409.8 402.5h0M1413.6 412.8h0M1421.1 370.7h0M1461.7 380.0h0M1438.5 376.9h0M1405.5 397.7h0M1460.4 384.5h0M1453.0 387.8h0M1434.3 360.8h0M1417.4 373.0h0M1438.5 374.4h0M1394.9 408.1h0M1450.8 401.7h0M1450.1 363.9h0M1456.8 383.2h0M1453.2 380.4h0M1402.3 396.6h0M1450.2 341.5h0M1465.1 373.9h0M1465.3 383.4h0M1412.2 399.3h0" stroke="#9467bd" stroke-opacity="0.6" stroke-width="5.8" stroke-linecap="round" fill="none"/>
<path d="M1383.0 465.5h0M1366.7 470.0h0M1430.1 428.4h0M1401.6 433.9h0M1396.5 441.8h0M1364.4 456.3h0M1361.1 463.4h0M1395.1 452.5h0M1412.3 412.4h0M1400.0 443.7h0M1359.8 469.3h0M1385.4 462.0h0M1358.7 469.6h0M1382.3 470.5h0M1375.1 464.3h0M1391.2 438.2h0M1369.8 468.9h0M1400.0 437.6h0M1414.5 436.7h0M1350.8 482.4h0M1434.0 440.1h0M1372.8 451.9h0M1377.7 455.6h0M1371.8 445.9h0M1393.7 418.4h0M1410.9 434.5h0M1399.7 434.1h0M1416.7 415.9h0M1413.7 420.1h0M1401.9 437.2h0M1426.0 433.6h0M1407.5 427.7h0M1412.5 466.3h0M1350.4 474.2h0M1388.1 434.7h0M1381.2 439.9h0M1414.9 427.1h0M1419.4 416.1h0M1443.7 427.2h0M1415.1 430.3h0M1416.0 417.4h0M1436.4 417.2h0M1434.4 434.0h0M1360.7 469.2h0M1422.7 450.1h0M1419.9 441.2h0M1413.2 425.3h0M1409.3 425.9h0M1408.8 432.5h0M1402.2 426.6h0M1416.0 458.3h0M1390.4 439.2h0M1346.4 479.7h0M1367.9 475.6h0M1414.6 419.0h0M1367.5 474.5h0M1373.4 464.5h0M1380.8 445.1h0M1423.1 400.2h0M1413.4 439.4h0M1373.5 470.2h0M1424.4 418.8h0M1402.3 433.7h0M1389.1 458.4h0M1354.7 477.3h0M1383.8 463.6h0M1371.1 462.5h0M1361.9 477.8h0M1408.2 422.8h0M1436.3 434.8h0M1405.0 436.0h0M1427.1 444.5h0M1406.5 435.6h0M1420.6 412.0h0M1407.6 429.4h0M1383.0 449.0h0M1443.8 420.8h0M1366.5 477.9h0M1362.1 467.3h0M1366.2 464.6h0M1361.9 462.2h0M1403.4 449.4h0M1430.5 423.6h0M1402.2 437.2h0M1375.1 456.4h0M1404.8 442.7h0M1392.8 446.9h0M1448.6 433.4h0M1390.9 472.2h0M1365.9 467.2h0M1409.1 421.6h0M1359.9 470.9h0M1361.7 460.4h0M1422.5 421.8h0M1388.6 442.3h0M1430.4 433.5h0M1389.6 459.1h0M1388.9 418.6h0M1413.2 418.3h0M1420.6 440.1h0M1436.4 406.4h0M1380.5 455.7h0M1373.0 479.6h0M1372.2 470.1h0M1393.7 449.8h0M1361.0 462.1h0M1437.1 411.6h0M1361.3 464.5h0M1376.2 448.8h0M1394.3 443.0h0M1367.6 453.1h0M1427.8 409.5h0M1355.2 474.8h0M1413.2 410.7h0M1355.9 467.1h0M1354.3 467.0h0M1373.7 477.4h0M1398.7 448.5h0M1397.0 420.7h0M1383.5 466.9h0M1374.0 469.8h0M1432.5 424.7h0M1355.9 464.5h0M1379.6 444.3h0M1360.2 456.3h0M1388.5 442.3h0M1418.6 393.5h0M1434.6 426.8h0M1428.1 413.9h0M1377.4 470.2h0M1368.2 471.3h0M1436.4 415.7h0M1408.3 418.1h0M1415.0 415.1h0M1389.6 430.4h0M1423.6 441.4h0M1404.1 461.0h0M1361.1 460.9h0M1437.1 428.5h0M1349.3 479.1h0M1397.2 438.0h0M1392.0 448.1h0M1364.5 469.6h0M1425.9 438.1h0M1381.4 441.5h0M1381.2 450.1h0M1439.9 416.3h0M1375.5 451.2h0M1360.4 459.7h0M1363.7 459.7h0M1367.8 465.2h0M1377.5 466.9h0M1403.0 464.7h0M1396.5 444.6h0M1431.2 434.0h0M1393.8 414.0h0M1397.2 452.8h0M1411.2 374.7h0M1388.6 444.7h0M1418.0 396.7h0M1383.3 421.9h0M1386.0 458.2h0M1439.3 411.9h0M1413.1 417.1h0M1440.1 430.7h0M1393.1 447.6h0M1401.8 436.3h0M1406.2 402.7h0M1365.6 460.1h0M1395.4 461.7h0M1428.6 436.1h0M1368.6 476.0h0M1383.0 453.5h0M1453.3 431.8h0M1396.5 440.3h0M1376.4 435.3h0M1403.1 442.0h0M1374.6 458.8h0M1379.2 461.5h0M1411.4 432.4h0M1438.6 418.2h0M1447.9 425.8h0M1351.5 471.3h0M1397.6 439.1h0M1423.0 409.5h0M1402.5 448.2h0M1364.2 458.3h0M1381.0 453.2h0M1373.2 452.3h0M1419.4 412.4h0M1407.4 420.0h0M1431.8 415.9h0M1407.2 458.9h0M1438.2 410.9h0M1425.4 405.8h0M1392.0 467.9h0M1417.5 430.1h0M1381.1 453.5h0M1438.5 411.8h0M1391.6 443.6h0M1419.2 444.7h0M1374.0 472.6h0M1412.9 444.8h0M1407.9 437.4h0M1348.5 481.7h0M1383.2 458.1h0M1373.3 455.1h0M1387.2 446.6h0M1381.0 466.3h0M1418.1 450.7h0M1403.9 431.8h0M1397.8 439.8h0M1367.3 473.2h0M1432.2 430.9h0M1370.6 464.8h0M1374.2 453.7h0M1426.8 409.2h0M1410.0 440.8h0M1433.9 428.8h0M1437.4 420.4h0M1411.8 420.7h0M1409.3 454.9h0M1400.9 421.1h0M1388.9 439.5h0M1433.3 413.0h0M1409.3 428.8h0M1379.6 441.9h0M1418.0 435.1h0M1404.4 407.8h0M1372.2 451.7h0M1417.9 446.7h0M1376.1 431.0h0M1374.5 451.4h0M1399.3 425.3h0M1406.6 446.8h0M1384.4 459.2h0M1407.5 449.4h0M1417.8 418.3h0M1347.2 480.1h0M1386.0 441.2h0M1404.3 461.4h0M1357.1 474.2h0M1409.8 439.2h0M1435.7 411.0h0M1392.7 426.4h0M1431.6 401.6h0M1424.3 455.1h0M1413.9 458.3h0M1418.0 415.0h0M1393.6 429.0h0M1496.6 351.8h0M1559.5 324.4h0M1569.1 362.2h0M1515.6 383.4h0M1511.4 365.0h0M1544.9 376.5h0M1502.5 386.7h0M1484.0 407.2h0M1560.0 367.8h0M1468.6 423.1h0M1424.8 393.4h0M1531.8 372.6h0M1467.8 442.4h0M1427.8 404.6h0M1454.9 413.6h0M1532.2 408.1h0M1551.9 333.3h0M1456.7 442.5h0M1456.4 392.9h0M1498.5 393.5h0M1460.2 416.8h0M1538.8 374.8h0M1564.4 344.6h0M1533.4 396.6h0M1423.2 405.3h0M1575.7 342.1h0M1471.7 365.8h0M1423.9 414.3h0M1562.7 346.3h0M1450.0 432.3h0M1563.0 396.2h0M1478.4 387.8h0M1505.4 398.4h0M1494.7 352.8h0M1505.1 400.3h0M1537.2 398.7h0M1461.8 433.8h0M1479.9 391.0h0M1475.5 420.6h0M1476.3 401.1h0M1521.8 399.7h0M1420.9 416.5h0M1542.4 354.2h0M1430.7 417.8h0M1511.4 395.1h0M1466.2 430.8h0M1420.0 414.5h0M1473.4 373.2h0M1489.5 391.5h0M1525.3 359.9h0M1489.3 387.2h0M1567.9 350.0h0M1494.0 380.9h0M1483.4 412.2h0M1439.8 426.0h0M1470.0 363.2h0M1397.0 401.5h0M1438.9 367.7h0M1482.1 392.5h0M1429.3 385.2h0M1443.0 387.9h0M1447.7 368.6h0M1443.1 376.5h0M1418.2 402.7h0M1467.1 415.4h0M1408.8 404.6h0M1399.1 384.1h0M1468.0 346.2h0M1414.6 419.6h0M1401.9 404.5h0M1465.1 354.4h0M1411.6 402.6h0M1472.0 383.4h0M1407.6 408.7h0M1428.2 365.4h0M1433.2 387.1h0M1410.9 405.0h0M1477.1 392.8h0M1472.7 350.6h0M1455.5 399.9h0M1401.9 405.6h0M1481.6 378.7h0M1465.3 360.6h0M1459.2 385.0h0M1478.0 371.9h0M1426.7 403.8h0M1436.9 375.8h0M1462.0 382.1h0M1417.6 404.6h0M1452.0 397.7h0M1447.2 380.0h0M1432.3 380.1h0M1462.1 379.8h0M1415.3 388.7h0M1424.5 394.7h0M1408.4 416.5h0M1403.1 392.6h0M1472.8 381.1h0M1421.0 389.1h0M1454.0 359.0h0M1456.5 383.8h0M1408.4 411.3h0M1452.9 389.0h0M1431.7 371.4h0M1419.8 393.8h0M1473.4 370.4h0M1472.0 388.2h0M1449.3 349.6h0M1454.4 376.2h0M1453.0 366.7h0M1450.4 382.3h0M1445.7 403.1h0M1430.8 361.9h0M1443.3 388.6h0M1461.1 390.8h0M1415.4 395.8h0M1450.0 396.2h0M1463.6 370.4h0M1402.1 398.6h0M1435.8 382.2h0" stroke="#9467bd" stroke-opacity="0.6" stroke-width="5.8" stroke-linecap="round" fill="none"/>
<path d="M1426.7 450.1h0M1412.6 429.1h0M1428.5 423.4h0M1441.8 419.5h0M1361.7 459.3h0M1408.8 446.1h0M1425.8 426.7h0M1416.9 449.7h0M1362.3 461.7h0M1414.1 437.8h0M1387.5 425.9h0M1396.9 450.2h0M1377.0 456.3h0M1430.2 407.3h0M1399.5 443.0h0M1384.9 457.4h0M1430.2 416.6h0M1369.2 457.0h0M1415.5 429.5h0M1413.6 424.2h0M1372.6 460.4h0M1383.7 456.7h0M1381.3 423.5h0M1394.6 446.3h0M1416.9 421.3h0M1368.4 468.6h0M1406.0 441.1h0M1408.5 453.6h0M1378.7 447.8h0M1386.9 447.1h0M1361.7 466.4h0M1383.1 445.1h0M1409.0 438.3h0M1417.0 427.9h0M1422.7 419.6h0M1371.5 461.8h0M1382.1 445.9h0M1426.6 435.8h0M1361.1 478.2h0M1401.0 430.6h0M1431.3 419.1h0M1380.7 452.3h0M1409.3 428.9h0M1361.7 478.1h0M1421.0 447.1h0M1408.2 434.5h0M1440.6 428.4h0M1397.1 467.1h0M1440.7 418.3h0M1414.3 424.6h0M1416.5 397.7h0M1381.7 437.8h0M1371.8 469.3h0M1426.8 396.1h0M1438.2 422.0h0M1439.1 437.8h0M1348.5 479.3h0M1353.3 474.1h0M1414.8 403.7h0M1399.2 445.5h0M1412.8 416.6h0M1365.8 456.9h0M1438.8 410.6h0M1433.3 428.0h0M1437.7 416.1h0M1391.8 457.8h0M1380.3 477.2h0M1430.3 427.0h0M1368.8 453.9h0M1399.0 409.9h0M1412.0 411.5h0M1396.7 432.4h0M1396.3 460.4h0M1356.0 463.8h0M1371.1 468.2h0M1440.1 421.1h0M1414.6 434.0h0M1372.4 474.2h0M1391.2 471.8h0M1378.2 447.9h0M1361.4 474.3h0M1381.8 451.8h0M1439.2 413.7h0M1410.1 407.1h0M1443.0 426.8h0M1387.5 443.8h0M1367.1 480.5h0M1427.6 428.3h0M1426.3 435.0h0M1383.2 467.2h0M1413.0 420.6h0M1413.6 430.1h0M1399.0 408.7h0M1421.7 440.6h0M1424.4 423.0h0M1422.1 455.3h0M1369.1 469.1h0M1437.5 441.1h0M1445.5 424.5h0M1389.2 426.1h0M1436.2 420.5h0M1352.6 476.6h0M1373.5 450.0h0M1441.0 415.1h0M1388.4 442.6h0M1429.0 431.3h0M1422.8 416.7h0M1436.2 421.1h0M1403.6 410.7h0M1432.7 433.8h0M1429.2 450.9h0M1372.4 454.3h0M1435.7 416.2h0M1353.4 481.5h0M1364.8 457.4h0M1413.9 427.6h0M1436.3 424.3h0M1372.0 475.5h0M1404.3 434.6h0M1358.2 476.5h0M1386.7 420.3h0M1384.9 419.9h0M1404.3 412.7h0M1438.0 411.2h0M1379.2 476.8h0M1417.5 424.8h0M1361.8 477.7h0M1362.3 476.8h0M1405.4 426.6h0M1416.3 453.7h0M1355.7 482.9h0M1441.2 439.7h0M1415.7 402.8h0M1406.8 453.6h0M1417.2 450.6h0M1421.2 427.2h0M1357.3 463.3h0M1388.2 415.4h0M1376.2 455.0h0M1456.3 435.3h0M1431.8 405.4h0M1378.9 437.3h0M1347.9 482.0h0M1368.7 470.0h0M1384.3 443.7h0M1385.2 460.4h0M1354.0 470.7h0M1426.2 397.3h0M1438.2 420.8h0M1349.6 475.4h0M1420.2 426.5h0M1376.2 437.5h0M1353.0 472.5h0M1370.6 447.2h0M1391.5 416.4h0M1419.0 437.6h0M1367.0 477.4h0M1405.7 451.5h0M1386.1 458.6h0M1431.5 418.1h0M1386.6 449.1h0M1368.9 468.6h0M1423.3 401.2h0M1404.0 444.3h0M1369.8 477.2h0M1355.9 481.2h0M1422.3 442.6h0M1410.2 436.6h0M1419.8 413.7h0M1416.9 445.0h0M1387.8 467.6h0M1441.3 429.2h0M1415.4 461.0h0M1401.4 444.2h0M1409.9 445.4h0M1416.7 421.7h0M1392.7 453.1h0M1352.7 471.4h0M1444.4 418.7h0M1407.1 433.5h0M1426.8 416.7h0M1381.1 461.3h0M1415.5 434.2h0M1395.4 445.1h0M1417.3 420.2h0M1433.3 417.2h0M1407.7 445.3h0M1399.0 453.4h0M1386.6 443.5h0M1433.7 460.7h0M1380.0 456.7h0M1365.4 478.2h0M1445.1 425.2h0M1380.6 444.7h0M1391.4 469.5h0M1404.2 425.0h0M1367.1 449.0h0M1401.0 438.7h0M1358.9 468.4h0M1416.6 424.9h0M1372.0 461.1h0M1413.5 419.9h0M1440.5 415.1h0M1414.0 422.3h0M1426.8 414.9h0M1437.0 410.1h0M1433.0 401.3h0M1381.7 458.0h0M1396.6 445.6h0M1411.8 437.7h0M1408.9 442.4h0M1360.6 463.9h0M1347.0 478.4h0M1406.5 435.4h0M1359.4 481.9h0M1420.6 436.0h0M1426.9 415.5h0M1383.3 475.9h0M1413.2 405.9h0M1402.4 420.2h0M1392.8 429.6h0M1412.0 438.9h0M1425.1 450.8h0M1429.7 410.6h0M1393.2 440.1h0M1443.7 426.2h0M1393.1 430.5h0M1392.6 429.9h0M1422.3 433.2h0M1372.7 461.5h0M1396.6 440.6h0M1389.1 445.7h0M1391.9 464.6h0M1401.9 455.6h0M1388.1 427.5h0M1364.6 470.5h0M1382.6 430.3h0M1422.3 441.5h0M1418.4 445.6h0M1420.4 447.1h0M1427.9 399.7h0M1512.6 349.0h0M1536.6 346.8h0M1427.3 429.3h0M1544.0 350.2h0M1488.3 386.2h0M1556.5 317.1h0M1443.1 443.0h0M1466.3 352.8h0M1440.5 369.4h0M1550.0 412.7h0M1491.8 397.7h0M1473.2 402.9h0M1456.0 408.9h0M1510.5 404.0h0M1524.2 392.5h0M1436.4 399.2h0M1546.3 351.7h0M1529.4 349.0h0M1499.0 342.3h0M1475.0 421.5h0M1547.7 376.5h0M1481.6 378.3h0M1541.6 355.8h0M1558.0 361.9h0M1422.7 419.5h0M1479.0 407.0h0M1542.2 398.3h0M1532.1 392.1h0M1426.0 413.2h0M1479.2 402.5h0M1574.3 372.6h0M1454.9 390.7h0M1457.8 434.7h0M1465.6 412.9h0M1557.9 377.7h0M1520.3 382.2h0M1432.0 410.6h0M1459.1 379.8h0M1434.4 431.1h0M1497.2 395.2h0M1539.3 361.4h0M1542.0 375.1h0M1451.5 405.9h0M1437.9 372.4h0M1581.4 363.0h0M1470.6 376.8h0M1406.0 388.1h0M1458.8 374.3h0M1427.2 398.2h0M1421.1 405.2h0M1387.8 407.3h0M1398.8 414.6h0M1450.0 355.1h0M1449.6 410.3h0M1452.3 374.4h0M1463.9 375.7h0M1456.9 353.3h0M1454.5 361.7h0M1455.4 383.1h0M1396.6 400.1h0M1419.3 376.6h0M1393.5 408.8h0M1422.6 405.5h0M1466.4 376.3h0M1391.8 408.2h0M1445.7 390.2h0M1436.1 383.4h0M1438.1 394.3h0M1422.4 390.4h0M1443.8 408.2h0M1414.6 384.7h0M1418.9 404.4h0M1452.3 366.8h0M1424.0 378.2h0M1401.5 387.1h0M1426.0 392.3h0M1393.1 421.7h0M1436.5 348.5h0M1434.8 368.8h0M1425.1 385.6h0M1455.7 391.5h0M1461.2 377.0h0M1394.2 394.4h0M1437.3 402.6h0M1403.1 403.0h0M1405.9 412.4h0M1468.6 384.2h0M1469.7 347.2h0M1430.9 388.4h0M1470.9 379.5h0M1441.8 370.3h0M1458.8 376.4h0M1405.6 401.6h0M1476.6 366.0h0M1433.8 369.6h0M1396.8 401.9h0M1437.9 382.6h0M1492.2 418.4h0M1404.6 391.4h0M1436.3 395.5h0M1417.2 371.7h0M1467.5 357.6h0M1472.6 368.8h0M1450.6 393.6h0M1424.1 380.6h0M1479.9 374.1h0M1398.6 397.5h0" stroke="#9467bd" stroke-opacity="0.6" stroke-width="5.8" stroke-linecap="round" fill="none"/>
<path d="M1415.8 405.0h0M1426.2 413.4h0M1382.4 443.1h0M1378.4 435.5h0M1402.0 474.0h0M1371.3 457.4h0M1382.1 457.8h0M1439.0 419.1h0M1428.2 431.1h0M1403.3 442.0h0M1358.8 458.6h0M1369.2 465.6h0M1446.0 434.3h0M1435.2 435.6h0M1368.7 470.2h0M1417.9 433.8h0M1423.6 421.5h0M1411.3 418.3h0M1428.0 428.6h0M1371.3 472.5h0M1360.8 470.0h0M1382.7 465.5h0M1362.6 460.4h0M1378.6 443.4h0M1380.1 453.7h0M1361.4 475.4h0M1408.2 436.5h0M1443.0 421.9h0M1431.8 433.8h0M1366.6 466.9h0M1395.0 438.1h0M1382.8 439.4h0M1417.9 443.5h0M1414.4 427.3h0M1402.3 433.1h0M1354.2 478.5h0M1411.3 425.0h0M1379.2 442.2h0M1380.2 447.7h0M1391.9 430.8h0M1348.2 481.2h0M1419.7 432.5h0M1377.8 468.2h0M1379.8 467.1h0M1444.9 436.4h0M1378.1 456.1h0M1392.7 435.3h0M1406.9 436.2h0M1365.5 467.9h0M1420.0 422.1h0M1352.9 480.7h0M1358.4 465.3h0M1387.9 445.5h0M1422.4 401.7h0M1356.2 482.0h0M1450.5 427.4h0M1404.6 450.1h0M1375.1 459.6h0M1379.9 461.8h0M1376.0 440.5h0M1441.9 421.1h0M1364.7 474.0h0M1418.6 411.4h0M1417.0 435.2h0M1351.1 477.4h0M1363.5 455.3h0M1420.4 427.3h0M1420.3 442.9h0M1358.9 462.1h0M1363.4 467.3h0M1442.0 428.3h0M1352.0 473.6h0M1439.3 410.9h0M1367.0 453.4h0M1382.2 476.7h0M1353.4 474.6h0M1432.9 447.9h0M1383.0 456.6h0M1397.2 460.1h0M1424.0 437.9h0M1449.0 437.4h0M1388.1 452.6h0M1358.4 471.9h0M1366.5 451.4h0M1423.9 401.6h0M1427.2 422.6h0M1433.1 422.0h0M1386.9 447.5h0M1441.1 415.0h0M1349.6 474.8h0M1428.3 426.3h0M1435.8 408.3h0M1418.1 417.0h0M1387.7 447.4h0M1444.4 419.6h0M1413.6 421.0h0M1412.7 415.9h0M1433.1 410.7h0M1430.4 415.9h0M1369.4 456.6h0M1427.1 401.0h0M1415.4 461.5h0M1431.3 410.4h0M1416.5 422.1h0M1387.5 444.8h0M1407.1 407.9h0M1367.2 445.8h0M1397.2 425.1h0M1372.1 447.5h0M1402.7 457.6h0M1411.8 432.7h0M1426.6 433.1h0M1373.2 445.6h0M1371.2 476.8h0M1393.4 442.8h0M1365.8 448.9h0M1360.0 469.5h0M1404.3 473.0h0M1382.9 451.8h0M1381.6 452.4h0M1395.9 399.6h0M1385.2 462.0h0M1394.0 432.0h0M1419.6 408.3h0M1373.0 447.7h0M1414.3 419.7h0M1439.4 410.2h0M1415.8 437.6h0M1441.1 412.2h0M1416.6 420.8h0M1389.1 461.0h0M1388.5 445.7h0M1409.1 437.4h0M1421.0 437.0h0M1357.7 467.0h0M1412.6 404.0h0M1422.6 418.5h0M1384.7 451.1h0M1424.3 456.8h0M1427.6 413.7h0M1402.8 467.4h0M1438.3 421.9h0M1368.4 455.9h0M1406.1 422.9h0M1445.3 431.0h0M1400.2 462.9h0M1427.8 407.8h0M1410.8 449.5h0M1419.2 415.8h0M1446.5 423.2h0M1421.4 430.3h0M1434.6 439.5h0M1371.5 464.2h0M1401.1 432.6h0M1397.8 440.0h0M1425.5 440.6h0M1369.7 460.3h0M1419.3 440.2h0M1368.1 465.8h0M1366.9 455.7h0M1383.4 439.1h0M1387.7 464.6h0M1388.6 440.9h0M1389.0 455.5h0M1430.8 407.2h0M1388.3 458.4h0M1388.1 475.5h0M1427.5 408.5h0M1438.4 423.9h0M1435.4 418.3h0M1370.1 451.5h0M1415.5 443.4h0M1413.6 430.9h0M1380.7 467.2h0M1378.8 445.3h0M1360.3 475.4h0M1357.5 473.3h0M1349.4 474.9h0M1404.6 443.1h0M1423.4 424.7h0M1407.2 423.5h0M1401.5 440.8h0M1421.7 414.4h0M1377.5 445.9h0M1369.3 479.5h0M1423.5 396.5h0M1374.2 462.3h0M1400.2 410.7h0M1390.4 465.2h0M1395.4 410.5h0M1365.2 478.7h0M1388.1 454.4h0M1412.2 430.3h0M1371.7 458.5h0M1391.3 465.6h0M1386.6 458.0h0M1436.7 411.3h0M1361.3 455.4h0M1439.7 419.9h0M1430.0 418.9h0M1426.6 444.9h0M1429.0 425.4h0M1390.7 453.6h0M1408.1 446.6h0M1402.3 439.3h0M1377.5 466.9h0M1353.2 475.4h0M1376.4 460.1h0M1360.5 477.8h0M1403.1 444.1h0M1436.9 422.3h0M1386.6 443.6h0M1392.1 444.9h0M1402.0 437.3h0M1378.5 457.7h0M1434.2 408.9h0M1359.7 461.5h0M1423.8 451.4h0M1380.3 440.5h0M1410.3 419.0h0M1406.6 436.2h0M1399.8 471.0h0M1371.1 456.3h0M1357.3 481.5h0M1359.6 465.6h0M1362.8 469.6h0M1380.4 433.8h0M1406.7 429.3h0M1403.6 412.8h0M1385.7 441.4h0M1427.4 415.1h0M1441.6 415.0h0M1382.0 444.4h0M1384.5 418.5h0M1432.3 433.6h0M1392.4 463.6h0M1443.0 422.0h0M1403.8 459.7h0M1418.5 427.1h0M1397.1 448.2h0M1393.8 433.8h0M1360.0 462.6h0M1421.1 419.8h0M1435.8 438.7h0M1400.6 436.7h0M1363.7 476.5h0M1439.2 414.3h0M1351.7 472.6h0M1421.1 405.2h0M1530.4 380.4h0M1452.1 432.0h0M1561.7 365.1h0M1434.6 423.0h0M1541.0 352.5h0M1542.9 378.4h0M1505.4 365.7h0M1536.6 384.0h0M1542.1 353.1h0M1458.2 383.8h0M1431.4 393.1h0M1566.8 365.9h0M1551.8 395.9h0M1520.0 378.2h0M1548.3 335.9h0M1565.2 345.1h0M1499.9 391.2h0M1506.9 406.2h0M1501.7 376.4h0M1456.8 401.4h0M1508.7 335.2h0M1482.8 387.7h0M1535.5 359.4h0M1458.0 380.3h0M1419.0 398.6h0M1570.5 362.3h0M1442.4 436.3h0M1496.7 358.5h0M1530.7 338.7h0M1559.0 381.9h0M1535.6 394.4h0M1524.4 359.5h0M1419.3 393.6h0M1467.6 389.5h0M1524.3 379.8h0M1462.9 393.9h0M1541.4 353.6h0M1465.8 401.1h0M1406.9 387.2h0M1539.0 350.8h0M1488.0 395.3h0M1481.5 408.0h0M1432.6 414.1h0M1501.2 351.5h0M1515.4 391.9h0M1557.3 403.3h0M1434.7 427.8h0M1481.6 399.4h0M1469.7 394.5h0M1404.4 385.7h0M1441.1 355.7h0M1443.3 374.4h0M1441.4 388.6h0M1427.2 405.5h0M1435.4 380.7h0M1433.0 384.3h0M1446.3 416.3h0M1458.0 372.4h0M1480.4 382.8h0M1458.2 401.3h0M1397.4 403.5h0M1399.9 402.8h0M1473.4 363.8h0M1460.0 371.4h0M1461.7 399.0h0M1395.0 392.6h0M1443.6 383.4h0M1432.6 381.1h0M1415.8 380.1h0M1409.5 384.7h0M1411.0 415.6h0M1401.6 390.4h0M1446.7 376.1h0M1449.1 384.3h0M1403.1 392.6h0M1405.6 395.2h0M1439.0 377.1h0M1420.7 408.9h0M1424.0 416.2h0M1425.8 383.9h0M1473.7 357.3h0M1404.2 404.6h0M1411.9 382.4h0M1455.0 391.2h0M1423.5 392.5h0M1441.3 347.3h0M1398.0 420.7h0M1469.2 396.8h0M1471.8 365.9h0M1393.0 423.9h0M1427.8 356.8h0M1413.6 399.1h0M1419.9 395.7h0M1423.6 403.3h0M1475.8 393.2h0M1439.1 389.0h0M1405.2 397.8h0M1462.9 386.1h0M1467.9 399.8h0M1451.3 380.2h0M1421.3 398.7h0M1420.7 364.1h0M1429.8 392.4h0M1434.6 392.2h0M1424.3 399.1h0" stroke="#9467bd" stroke-opacity="0.6" stroke-width="5.8" stroke-linecap="round" fill="none"/>
<polygon points="1342.0,491.0 1400.0,455.0 1453.0,425.0 1530.0,418.0 1530.0,452.0 1480.0,470.0 1400.0,488.0 1347.0,494.0" fill="#8c564b" fill-opacity="0.85" stroke="#8c564b" stroke-opacity="0.85" stroke-width="4" stroke-linejoin="round"/>
<path d="M1374.8 481.8h0M1477.0 468.4h0M1393.9 471.0h0M1448.8 459.8h0M1398.6 484.3h0M1389.4 475.7h0M1365.9 487.5h0M1367.5 485.0h0M1464.0 478.8h0M1388.1 486.9h0M1450.4 465.5h0M1373.2 489.5h0M1412.6 473.6h0M1378.5 476.6h0M1461.7 468.6h0M1384.6 479.3h0M1392.7 483.0h0M1344.5 490.8h0M1387.5 479.7h0M1367.2 478.7h0M1478.5 463.7h0M1425.1 470.7h0M1443.5 473.4h0M1427.8 476.5h0M1474.9 465.9h0M1362.9 480.2h0M1474.7 451.9h0M1435.5 466.7h0M1464.1 459.6h0M1468.2 468.7h0M1362.4 485.8h0M1393.7 469.3h0M1384.4 478.2h0M1476.8 456.1h0M1367.6 487.8h0M1357.8 480.4h0M1476.2 461.8h0M1363.8 487.7h0M1421.5 474.1h0M1351.6 492.2h0M1442.6 477.3h0M1407.1 470.8h0M1386.9 476.7h0M1408.3 473.4h0M1419.1 477.6h0M1404.1 468.3h0M1364.5 479.0h0M1479.1 467.9h0M1428.1 469.5h0M1469.7 459.1h0M1406.4 468.3h0M1397.4 473.0h0M1431.1 471.1h0M1448.0 468.3h0M1445.7 470.7h0M1388.2 484.1h0M1386.2 478.1h0M1472.9 479.2h0M1453.0 460.3h0M1466.8 461.5h0M1458.1 478.1h0M1397.3 475.0h0M1371.2 485.1h0M1372.1 480.4h0M1387.2 476.3h0M1409.0 474.3h0M1434.0 476.1h0M1424.7 470.5h0M1416.2 478.1h0M1435.8 483.0h0M1474.3 462.4h0M1437.3 472.5h0M1356.2 487.1h0M1427.4 483.1h0M1403.0 477.2h0M1412.2 476.6h0M1452.3 477.1h0M1425.9 472.9h0M1467.2 455.3h0M1474.6 461.2h0M1373.8 475.7h0M1455.6 478.2h0M1429.6 471.7h0M1417.5 475.8h0M1354.2 487.4h0M1406.1 481.6h0M1347.1 488.5h0M1451.5 462.6h0M1446.3 473.7h0M1449.6 466.8h0M1463.5 477.7h0M1443.7 467.8h0M1440.1 471.7h0M1357.3 491.2h0M1425.4 463.5h0M1462.5 468.4h0M1412.5 472.9h0M1388.8 482.8h0M1362.9 476.7h0M1465.5 457.1h0M1412.5 482.5h0M1440.6 471.8h0M1403.4 484.3h0M1406.7 479.9h0M1367.1 477.9h0M1396.8 479.6h0M1399.5 482.1h0M1442.9 470.7h0M1443.0 475.8h0M1381.4 485.0h0M1372.1 486.9h0M1380.6 477.8h0M1367.8 485.9h0M1422.4 470.1h0M1440.4 477.6h0M1463.2 469.3h0M1370.6 485.1h0M1343.0 491.4h0M1435.8 472.6h0M1378.4 487.3h0M1358.7 485.5h0M1471.8 473.9h0M1361.3 480.9h0M1366.1 475.0h0M1408.5 476.5h0M1428.4 475.4h0M1450.4 467.3h0M1474.1 457.1h0M1387.7 487.7h0M1471.8 471.4h0M1375.0 481.4h0M1384.9 483.8h0M1422.6 473.7h0M1457.1 470.1h0M1377.9 477.6h0M1413.6 465.5h0M1473.3 464.1h0M1383.4 488.4h0M1404.6 475.3h0M1369.1 481.0h0M1459.0 472.5h0M1384.7 484.7h0M1373.0 483.1h0M1455.1 472.0h0M1422.8 484.6h0M1399.8 476.0h0M1438.9 470.8h0M1362.4 483.8h0M1388.1 475.1h0M1430.9 481.4h0M1471.6 474.6h0M1379.4 476.4h0M1451.6 478.5h0M1398.6 471.4h0M1395.6 480.6h0M1452.3 465.9h0M1478.2 468.3h0M1461.0 474.2h0M1392.0 478.0h0M1458.0 467.9h0M1358.0 483.8h0M1440.1 463.8h0M1479.7 468.7h0M1440.7 475.0h0M1419.2 474.1h0M1470.2 472.0h0M1450.0 471.4h0M1410.9 472.8h0M1413.3 463.7h0M1351.1 489.1h0M1452.2 464.7h0M1440.5 477.4h0M1463.4 464.3h0M1358.4 488.6h0M1407.9 472.8h0M1385.3 488.2h0M1393.7 481.4h0M1445.7 470.2h0M1443.0 464.3h0M1399.4 475.5h0M1381.8 486.8h0M1397.1 482.3h0M1426.3 472.5h0M1434.0 473.2h0M1424.0 471.8h0M1447.8 458.0h0M1451.6 463.6h0M1387.5 472.2h0M1429.2 471.2h0M1464.4 465.3h0M1444.4 464.6h0M1417.6 475.0h0M1478.0 459.7h0M1463.7 469.3h0M1403.7 473.5h0M1453.2 457.8h0M1472.9 466.9h0M1361.0 478.1h0M1406.7 478.7h0M1472.2 464.0h0M1392.4 478.8h0M1420.1 478.6h0M1441.8 475.7h0M1363.6 483.3h0M1375.3 478.1h0M1464.0 465.6h0M1440.9 479.0h0M1354.3 485.1h0M1447.0 462.2h0M1475.6 458.8h0M1540.0 423.2h0M1510.6 457.3h0M1734.1 410.8h0M1743.5 433.6h0M1479.6 459.7h0M1475.2 450.2h0M1493.1 463.4h0M1517.5 459.0h0M1593.7 442.9h0M1543.8 443.9h0M1469.3 470.4h0M1692.7 442.7h0M1724.7 434.4h0M1525.4 458.0h0M1461.9 480.1h0M1755.4 423.7h0M1529.4 455.8h0M1552.6 455.9h0M1603.9 451.1h0M1624.9 456.2h0M1492.6 446.9h0M1691.8 440.4h0M1465.8 464.0h0M1583.8 443.5h0M1672.0 442.5h0M1641.2 435.6h0M1702.9 434.3h0M1573.6 462.8h0M1628.1 450.8h0M1477.5 447.6h0M1461.6 477.4h0M1616.0 434.9h0M1652.6 447.5h0M1593.3 463.6h0M1592.7 429.4h0M1712.3 442.4h0M1480.1 471.7h0M1544.8 434.4h0M1652.6 437.4h0M1481.6 447.2h0M1664.6 445.3h0M1477.0 460.3h0M1556.3 456.6h0M1492.6 463.0h0M1773.6 426.1h0M1570.5 445.5h0M1598.1 450.3h0M1591.2 448.4h0M1468.1 467.1h0M1460.5 467.0h0M1461.3 459.7h0M1670.9 439.1h0M1705.6 443.5h0M1605.7 455.8h0M1514.0 437.5h0M1543.3 455.9h0M1501.7 463.0h0M1687.7 434.9h0M1619.1 444.8h0M1602.2 442.6h0M1468.6 467.4h0M1719.8 436.6h0M1569.8 444.8h0M1555.9 468.1h0M1729.6 428.8h0M1481.9 465.8h0M1601.5 444.0h0M1609.1 449.4h0M1461.9 471.8h0M1620.7 452.0h0M1677.2 434.5h0M1691.0 443.2h0M1517.3 450.3h0M1583.8 458.3h0M1721.1 428.9h0M1717.3 421.6h0M1473.8 469.8h0M1487.5 465.7h0M1610.2 446.8h0M1670.2 446.8h0M1659.5 436.8h0M1620.6 439.7h0M1659.1 447.0h0M1471.1 451.9h0M1550.4 457.3h0M1593.5 457.5h0M1508.8 458.3h0M1600.4 457.8h0M1767.1 427.4h0M1475.2 450.2h0M1473.4 449.3h0M1649.1 444.8h0M1520.7 458.2h0M1644.1 447.5h0M1776.2 427.5h0M1526.1 465.0h0M1664.7 431.6h0" stroke="#8c564b" stroke-opacity="0.6" stroke-width="5.8" stroke-linecap="round" fill="none"/>
<path d="M1450.1 477.4h0M1471.0 465.1h0M1393.1 488.2h0M1346.5 491.1h0M1408.4 473.6h0M1407.4 467.4h0M1351.8 489.3h0M1365.5 488.9h0M1459.5 463.0h0M1361.7 478.9h0M1350.2 485.8h0M1392.2 484.4h0M1353.0 492.8h0M1420.0 471.3h0M1463.4 465.6h0M1410.2 460.1h0M1428.1 466.2h0M1407.0 478.1h0M1441.4 469.2h0M1452.7 460.9h0M1455.5 473.8h0M1460.5 473.0h0M1462.0 474.4h0M1427.5 472.2h0M1477.3 475.2h0M1400.3 472.0h0M1477.6 469.2h0M1373.8 481.5h0M1430.7 465.9h0M1470.5 473.2h0M1436.1 475.0h0M1384.5 483.3h0M1374.7 486.8h0M1479.2 469.1h0M1409.5 470.7h0M1414.2 478.0h0M1365.3 479.6h0M1472.8 465.9h0M1397.9 477.1h0M1401.0 482.2h0M1459.2 469.9h0M1389.5 480.5h0M1355.9 491.7h0M1476.5 454.6h0M1423.6 477.0h0M1450.5 464.1h0M1445.0 473.0h0M1379.1 483.6h0M1351.7 487.2h0M1411.3 481.7h0M1362.3 485.7h0M1404.0 479.9h0M1477.9 473.7h0M1403.6 480.9h0M1405.8 486.6h0M1388.3 479.0h0M1374.1 477.2h0M1424.7 473.0h0M1400.0 471.5h0M1404.4 483.0h0M1445.5 479.4h0M1393.2 480.0h0M1380.0 489.4h0M1442.7 460.2h0M1422.0 465.6h0M1457.8 465.3h0M1366.4 478.8h0M1369.6 484.4h0M1421.8 479.7h0M1462.6 472.8h0M1475.2 466.7h0M1410.0 480.9h0M1375.3 490.1h0M1450.5 470.0h0M1396.4 471.1h0M1438.6 480.1h0M1421.5 480.3h0M1349.9 492.4h0M1399.3 483.4h0M1455.5 472.8h0M1370.0 484.2h0M1387.2 483.6h0M1449.4 476.4h0M1406.6 468.9h0M1464.3 467.0h0M1405.5 474.8h0M1420.3 460.3h0M1387.3 480.8h0M1439.2 472.4h0M1376.1 489.3h0M1413.2 474.6h0M1425.1 469.3h0M1353.9 489.8h0M1433.4 481.3h0M1456.9 468.9h0M1417.8 477.7h0M1388.3 486.2h0M1379.7 482.6h0M1450.3 467.3h0M1438.6 458.4h0M1365.9 487.2h0M1462.7 465.4h0M1409.0 473.3h0M1422.1 471.5h0M1443.2 474.0h0M1450.0 473.1h0M1431.4 473.0h0M1353.5 485.7h0M1425.3 482.4h0M1398.3 485.9h0M1439.5 477.4h0M1421.0 474.9h0M1397.8 479.8h0M1353.4 482.6h0M1347.3 488.1h0M1374.7 480.8h0M1468.4 473.2h0M1353.7 491.2h0M1388.6 482.7h0M1473.1 475.0h0M1352.8 486.1h0M1381.1 486.4h0M1415.0 485.7h0M1367.1 481.6h0M1363.5 489.5h0M1364.5 481.9h0M1459.1 462.1h0M1349.9 493.0h0M1358.8 487.2h0M1452.4 468.8h0M1476.3 461.3h0M1367.9 484.5h0M1460.7 468.4h0M1376.8 478.9h0M1346.6 493.5h0M1392.7 477.8h0M1447.2 468.2h0M1441.7 472.9h0M1358.9 483.8h0M1358.5 491.3h0M1389.9 480.9h0M1432.9 461.7h0M1394.2 472.1h0M1436.9 459.3h0M1396.3 484.4h0M1432.8 473.7h0M1420.3 467.5h0M1409.8 471.9h0M1426.3 478.2h0M1419.1 484.3h0M1413.8 475.3h0M1453.6 473.7h0M1454.6 474.4h0M1359.6 488.8h0M1391.7 476.2h0M1392.8 480.7h0M1390.2 485.1h0M1461.6 472.1h0M1369.6 480.2h0M1477.6 475.1h0M1418.3 479.9h0M1424.3 479.5h0M1396.1 477.4h0M1389.7 477.0h0M1436.6 472.9h0M1369.3 480.4h0M1464.7 464.4h0M1479.4 462.5h0M1442.6 470.9h0M1352.2 490.4h0M1349.6 490.5h0M1362.4 485.9h0M1362.8 485.2h0M1408.8 478.4h0M1422.8 473.2h0M1467.3 467.2h0M1404.0 481.9h0M1415.2 480.8h0M1390.7 476.3h0M1389.0 477.3h0M1435.5 465.9h0M1418.6 459.1h0M1478.9 471.2h0M1460.3 451.2h0M1370.3 482.2h0M1453.0 467.7h0M1415.7 477.8h0M1441.0 474.5h0M1360.7 482.7h0M1441.1 469.8h0M1431.2 473.2h0M1420.1 475.0h0M1397.6 473.0h0M1424.3 471.3h0M1394.9 483.3h0M1369.2 489.2h0M1358.0 484.4h0M1406.1 474.0h0M1436.1 469.1h0M1447.8 469.2h0M1533.9 465.8h0M1469.6 460.1h0M1727.1 436.2h0M1481.2 474.9h0M1465.5 460.2h0M1523.3 463.9h0M1466.7 462.7h0M1729.6 436.9h0M1468.2 468.0h0M1466.1 466.1h0M1764.6 433.4h0M1761.3 414.7h0M1627.5 438.0h0M1476.1 457.9h0M1495.4 457.4h0M1745.7 434.2h0M1497.6 463.2h0M1581.8 460.7h0M1556.4 454.7h0M1499.3 450.2h0M1540.9 460.8h0M1663.1 439.9h0M1640.6 448.9h0M1515.0 449.2h0M1483.9 467.1h0M1481.8 449.2h0M1654.3 450.1h0M1467.0 467.9h0M1767.8 421.4h0M1460.7 470.5h0M1622.3 447.4h0M1633.1 455.9h0M1471.9 475.6h0M1470.2 457.7h0M1630.7 449.2h0M1469.0 456.6h0M1715.1 433.0h0M1747.6 432.3h0M1531.3 436.2h0M1706.8 435.9h0M1743.5 430.3h0M1553.1 458.7h0M1635.6 449.8h0M1509.0 453.6h0M1642.7 445.3h0M1699.9 429.0h0M1506.7 472.1h0M1576.7 450.6h0M1663.0 440.1h0M1612.5 456.6h0M1672.2 438.4h0M1541.6 470.8h0M1680.7 443.6h0M1753.9 412.2h0M1714.2 426.1h0M1652.7 441.4h0M1664.7 452.4h0M1758.5 427.3h0M1598.0 444.8h0M1582.8 448.3h0M1640.3 443.2h0M1528.6 459.4h0M1746.6 423.3h0M1477.6 474.0h0M1598.9 429.4h0M1571.4 456.6h0M1543.1 465.4h0M1462.9 466.1h0M1484.5 469.1h0M1529.5 442.3h0M1728.6 429.8h0M1459.9 439.7h0M1508.3 461.7h0M1651.7 436.0h0M1520.3 471.2h0M1662.3 431.7h0M1725.5 423.2h0M1673.0 435.2h0M1511.0 448.7h0M1483.5 453.1h0M1772.0 416.2h0M1599.9 449.5h0M1565.8 440.6h0M1537.4 470.1h0M1630.6 450.2h0M1726.3 426.6h0M1670.2 435.9h0M1533.7 454.3h0M1467.6 447.7h0M1500.9 457.4h0M1679.4 423.7h0M1686.9 430.3h0M1776.9 423.2h0M1767.7 416.1h0M1559.3 459.7h0M1700.4 441.2h0M1655.9 439.1h0M1679.4 444.9h0M1523.4 455.8h0M1689.1 429.0h0M1468.6 459.0h0M1480.0 443.4h0" stroke="#8c564b" stroke-opacity="0.6" stroke-width="5.8" stroke-linecap="round" fill="none"/>
<path d="M1437.0 475.6h0M1423.0 482.2h0M1442.4 464.6h0M1376.2 487.5h0M1392.8 487.7h0M1447.8 460.3h0M1402.8 478.4h0M1447.0 473.3h0M1382.8 482.2h0M1443.0 469.7h0M1430.9 463.8h0M1461.2 469.2h0M1420.8 476.6h0M1470.1 476.2h0M1460.7 474.2h0M1474.9 458.6h0M1453.1 467.8h0M1349.4 490.4h0M1436.6 467.3h0M1474.6 458.2h0M1377.9 489.8h0M1456.1 468.1h0M1433.8 471.4h0M1426.3 479.0h0M1462.5 465.7h0M1416.8 478.3h0M1450.6 462.0h0M1374.4 484.0h0M1423.8 476.9h0M1427.2 475.0h0M1465.1 476.2h0M1362.3 488.4h0M1431.1 483.0h0M1394.1 480.7h0M1390.6 484.7h0M1374.2 483.5h0M1438.8 480.0h0M1477.5 466.5h0M1443.7 464.0h0M1401.8 481.7h0M1369.5 480.7h0M1477.7 459.6h0M1410.2 486.1h0M1478.3 462.6h0M1376.6 488.3h0M1384.9 473.9h0M1439.7 470.7h0M1436.4 477.3h0M1457.5 469.5h0M1457.9 463.4h0M1468.8 473.5h0M1359.2 479.4h0M1371.2 487.5h0M1354.2 487.2h0M1449.5 464.4h0M1360.5 479.1h0M1432.6 476.6h0M1422.0 473.9h0M1366.0 491.0h0M1389.5 471.9h0M1374.5 472.9h0M1468.0 470.6h0M1399.4 475.9h0M1397.2 481.1h0M1342.1 490.7h0M1356.1 481.3h0M1405.8 468.7h0M1362.8 483.0h0M1466.3 470.9h0M1459.4 463.5h0M1474.2 465.2h0M1364.2 482.3h0M1405.9 478.3h0M1444.7 473.7h0M1425.2 462.3h0M1393.4 477.4h0M1396.5 474.3h0M1435.2 477.1h0M1392.1 473.7h0M1449.4 478.6h0M1450.8 464.7h0M1444.7 465.6h0M1476.7 466.9h0M1420.6 479.4h0M1362.1 487.8h0M1398.3 479.1h0M1372.8 478.3h0M1404.5 478.0h0M1407.4 477.7h0M1389.3 486.5h0M1450.8 468.7h0M1359.5 487.8h0M1442.3 463.1h0M1435.0 473.1h0M1350.7 487.0h0M1373.2 481.5h0M1368.0 485.9h0M1437.7 472.9h0M1474.5 465.0h0M1476.0 467.2h0M1453.8 463.6h0M1472.7 465.5h0M1478.2 467.6h0M1455.3 476.4h0M1481.5 474.1h0M1370.0 484.4h0M1410.9 472.2h0M1444.4 474.6h0M1344.3 489.9h0M1366.6 487.3h0M1433.7 479.7h0M1382.0 482.0h0M1446.6 459.2h0M1463.2 468.6h0M1435.8 468.3h0M1401.5 487.2h0M1443.2 468.2h0M1453.5 463.3h0M1391.4 481.1h0M1411.3 475.3h0M1436.4 469.1h0M1443.2 469.5h0M1473.8 460.3h0M1467.0 467.0h0M1367.2 489.1h0M1383.2 486.4h0M1348.1 488.8h0M1388.6 478.3h0M1457.6 467.0h0M1344.5 488.1h0M1453.0 465.0h0M1464.2 468.2h0M1378.3 485.2h0M1348.3 493.1h0M1381.5 485.0h0M1386.9 480.3h0M1474.4 466.4h0M1371.1 486.8h0M1382.1 484.0h0M1468.2 470.2h0M1477.4 468.7h0M1466.4 468.0h0M1370.1 483.3h0M1365.4 476.6h0M1349.6 493.0h0M1353.0 485.5h0M1374.0 489.5h0M1403.7 479.5h0M1458.5 467.7h0M1378.1 487.0h0M1456.1 467.7h0M1393.2 486.7h0M1401.2 482.9h0M1470.9 461.8h0M1352.8 490.4h0M1370.4 487.4h0M1426.1 474.4h0M1416.1 484.5h0M1393.5 473.5h0M1380.8 471.5h0M1398.5 474.0h0M1476.7 468.9h0M1455.8 467.8h0M1351.7 487.1h0M1412.8 473.9h0M1444.7 464.7h0M1437.6 483.0h0M1463.4 460.8h0M1355.5 481.9h0M1395.5 483.8h0M1436.1 466.2h0M1446.9 470.3h0M1447.7 466.2h0M1392.3 484.8h0M1389.6 472.0h0M1432.4 481.7h0M1430.7 474.7h0M1474.6 468.8h0M1394.5 474.8h0M1414.3 479.4h0M1415.5 473.1h0M1455.0 478.5h0M1437.7 470.8h0M1417.4 485.5h0M1386.6 469.0h0M1435.3 467.3h0M1454.4 470.7h0M1438.7 468.6h0M1418.7 456.7h0M1364.1 476.4h0M1463.4 476.6h0M1588.4 452.4h0M1469.3 458.3h0M1614.6 435.7h0M1709.6 428.0h0M1494.9 458.7h0M1496.1 460.8h0M1509.7 446.8h0M1663.2 437.6h0M1579.2 458.7h0M1769.0 419.4h0M1547.5 458.9h0M1657.5 437.7h0M1779.5 429.6h0M1669.2 419.4h0M1570.2 441.3h0M1562.9 430.5h0M1485.6 471.9h0M1539.8 438.2h0M1702.6 438.8h0M1672.0 445.3h0M1626.7 433.7h0M1542.5 442.1h0M1633.3 424.4h0M1597.0 447.2h0M1640.9 456.8h0M1749.7 425.2h0M1593.4 459.6h0M1549.6 437.2h0M1523.6 443.2h0M1462.5 468.3h0M1599.9 450.6h0M1553.8 457.5h0M1501.4 451.2h0M1667.0 439.4h0M1634.1 455.4h0M1466.8 468.8h0M1622.2 455.5h0M1489.0 454.1h0M1587.5 442.5h0M1538.8 466.2h0M1491.9 447.7h0M1590.2 457.7h0M1565.1 445.5h0M1464.5 461.1h0M1485.4 454.0h0M1465.0 461.7h0M1462.4 452.1h0M1749.1 415.0h0M1522.7 460.3h0M1525.2 452.4h0M1560.9 459.1h0M1504.8 451.7h0M1569.7 445.8h0M1479.1 468.3h0M1469.4 448.4h0M1720.6 425.3h0M1654.3 443.3h0M1527.3 464.6h0M1609.9 435.4h0M1468.2 478.4h0M1504.8 475.1h0M1740.7 412.6h0M1495.3 461.8h0M1523.1 458.7h0M1625.1 421.6h0M1660.9 434.0h0M1495.3 441.2h0M1493.0 442.1h0M1673.7 433.3h0M1469.0 463.9h0M1728.6 437.7h0M1585.4 440.6h0M1755.7 419.6h0M1530.7 451.9h0M1669.4 434.9h0M1483.8 461.8h0M1532.2 453.8h0M1569.3 456.5h0M1641.8 450.5h0M1635.6 440.4h0M1705.4 440.0h0M1666.1 427.9h0M1568.4 461.1h0M1690.7 435.9h0M1477.6 477.1h0M1506.6 454.3h0M1542.9 457.6h0M1568.1 445.7h0M1481.2 461.4h0M1496.3 450.5h0" stroke="#8c564b" stroke-opacity="0.6" stroke-width="5.8" stroke-linecap="round" fill="none"/>
<path d="M1424.8 478.1h0M1451.1 464.4h0M1365.8 487.2h0M1364.8 475.1h0M1476.2 465.5h0M1364.9 486.7h0M1480.4 469.2h0M1398.7 479.5h0M1440.2 475.2h0M1454.5 474.0h0M1441.1 471.9h0M1468.3 465.9h0M1380.5 474.0h0M1470.0 472.9h0M1474.0 460.9h0M1406.3 482.6h0M1405.2 480.9h0M1424.4 473.5h0M1427.8 471.8h0M1363.8 485.1h0M1440.7 472.1h0M1381.3 482.1h0M1374.8 484.6h0M1452.9 473.0h0M1438.5 463.5h0M1383.7 469.2h0M1347.1 490.1h0M1472.6 472.2h0M1467.6 462.9h0M1454.1 465.0h0M1476.8 471.8h0M1430.6 480.8h0M1368.9 483.2h0M1441.6 472.3h0M1451.7 465.0h0M1475.9 471.8h0M1368.6 480.8h0M1425.5 471.1h0M1390.5 482.6h0M1370.0 480.7h0M1414.9 474.6h0M1423.7 462.1h0M1382.6 474.1h0M1475.5 471.4h0M1442.8 468.1h0M1450.3 473.4h0M1463.5 466.8h0M1420.9 476.9h0M1404.4 481.1h0M1453.5 471.4h0M1430.0 471.3h0M1425.2 476.4h0M1386.3 473.5h0M1459.1 470.0h0M1399.5 482.0h0M1382.5 487.3h0M1441.1 470.3h0M1454.8 467.5h0M1364.7 479.6h0M1362.5 481.3h0M1391.2 481.2h0M1372.3 489.9h0M1422.6 476.4h0M1478.4 472.6h0M1441.3 463.2h0M1384.9 478.9h0M1413.9 477.3h0M1379.2 480.4h0M1372.2 487.2h0M1461.3 471.6h0M1477.5 458.6h0M1430.8 477.1h0M1458.7 474.4h0M1464.9 469.7h0M1469.8 461.4h0M1463.9 460.1h0M1476.3 472.0h0M1435.2 476.1h0M1386.5 470.2h0M1371.3 476.3h0M1374.0 479.2h0M1389.9 478.4h0M1478.1 472.3h0M1380.8 487.4h0M1401.7 477.4h0M1427.1 469.8h0M1395.6 481.8h0M1409.9 477.2h0M1463.5 464.1h0M1445.9 466.8h0M1450.2 465.8h0M1426.1 469.1h0M1356.1 482.1h0M1462.3 466.4h0M1429.7 474.4h0M1419.7 462.8h0M1439.4 466.0h0M1444.4 465.7h0M1451.4 478.2h0M1386.5 482.7h0M1456.0 480.1h0M1473.0 464.4h0M1443.8 469.9h0M1447.7 468.5h0M1441.9 460.4h0M1398.1 475.6h0M1444.5 475.9h0M1424.8 484.1h0M1363.9 489.9h0M1411.9 475.3h0M1439.5 477.3h0M1388.1 479.7h0M1454.4 477.4h0M1375.7 483.3h0M1423.1 478.8h0M1434.8 467.8h0M1417.4 484.6h0M1356.1 488.5h0M1411.2 472.2h0M1445.0 481.7h0M1462.3 464.6h0M1383.2 481.7h0M1382.9 481.5h0M1396.3 479.2h0M1387.1 487.5h0M1386.7 483.8h0M1412.8 461.4h0M1404.3 472.7h0M1345.6 492.5h0M1418.1 475.1h0M1432.0 467.4h0M1414.8 466.6h0M1436.3 475.7h0M1355.9 488.2h0M1449.3 476.3h0M1352.3 484.9h0M1466.3 470.3h0M1456.9 469.7h0M1364.3 487.8h0M1422.3 469.8h0M1394.9 472.5h0M1364.3 490.8h0M1422.2 472.4h0M1377.4 480.2h0M1352.6 487.3h0M1479.0 463.8h0M1397.8 480.4h0M1358.3 482.6h0M1392.5 476.1h0M1389.1 479.4h0M1470.3 463.5h0M1434.8 482.3h0M1466.3 467.3h0M1435.1 469.8h0M1385.7 478.8h0M1374.6 478.7h0M1446.9 469.6h0M1409.9 470.0h0M1442.5 461.7h0M1381.9 484.6h0M1420.4 479.8h0M1467.6 462.9h0M1367.7 475.6h0M1410.4 477.5h0M1400.9 483.1h0M1345.4 491.2h0M1388.5 482.3h0M1423.2 481.8h0M1450.7 467.4h0M1416.6 474.7h0M1466.4 467.4h0M1432.4 476.5h0M1386.6 488.8h0M1440.4 472.5h0M1465.9 473.6h0M1439.2 475.2h0M1451.7 474.2h0M1345.6 488.4h0M1427.2 471.7h0M1457.6 464.0h0M1394.8 484.6h0M1429.5 470.0h0M1385.7 479.5h0M1460.5 471.6h0M1402.3 485.6h0M1430.6 476.1h0M1398.3 474.9h0M1425.2 472.2h0M1459.7 467.8h0M1366.4 487.1h0M1434.4 470.3h0M1421.7 483.4h0M1453.0 472.1h0M1452.8 470.6h0M1400.4 485.5h0M1435.2 467.0h0M1436.6 468.1h0M1410.1 476.5h0M1370.3 481.1h0M1341.3 490.1h0M1432.8 481.8h0M1750.6 427.3h0M1508.3 450.7h0M1706.1 440.2h0M1758.5 420.7h0M1490.9 448.6h0M1515.4 459.3h0M1575.6 451.7h0M1712.2 440.1h0M1461.4 468.3h0M1732.3 412.5h0M1543.3 456.2h0M1681.1 432.2h0M1756.6 428.2h0M1587.6 445.8h0M1564.2 449.3h0M1468.4 474.3h0M1584.4 447.4h0M1634.9 449.7h0M1487.8 472.8h0M1474.9 466.0h0M1515.5 457.8h0M1610.0 436.7h0M1658.8 425.2h0M1515.8 460.7h0M1486.3 468.8h0M1477.1 468.8h0M1596.3 459.8h0M1473.1 469.4h0M1721.2 420.9h0M1459.3 451.3h0M1568.0 434.4h0M1700.3 438.9h0M1584.6 461.1h0M1541.2 450.4h0M1731.5 434.5h0M1493.4 465.1h0M1722.5 423.4h0M1481.5 468.1h0M1579.5 450.7h0M1476.1 459.8h0M1566.1 459.2h0M1587.7 450.0h0M1653.9 450.5h0M1706.8 443.9h0M1701.7 440.5h0M1466.8 456.7h0M1518.6 465.0h0M1500.2 475.0h0M1562.0 453.0h0M1577.3 450.0h0M1690.8 437.9h0M1727.5 421.8h0M1531.5 459.9h0M1708.1 439.5h0M1553.5 450.0h0M1555.8 457.6h0M1665.0 444.1h0M1507.4 464.6h0M1499.0 472.0h0M1526.1 449.9h0M1498.7 467.3h0M1525.5 446.9h0M1595.6 438.6h0M1731.2 420.7h0M1632.4 437.0h0M1590.7 462.9h0M1554.1 445.7h0M1521.9 465.8h0M1468.3 463.9h0M1565.9 446.8h0M1579.1 455.2h0M1502.0 464.6h0M1554.5 454.0h0M1735.0 431.2h0M1663.9 443.9h0M1549.2 455.7h0M1651.8 451.3h0M1599.3 447.8h0M1597.6 455.7h0M1489.2 456.4h0M1684.8 441.1h0M1697.7 428.3h0M1746.3 421.9h0M1492.7 450.3h0M1726.4 428.5h0M1708.3 444.1h0M1725.7 428.6h0M1705.3 436.9h0M1555.7 458.5h0" stroke="#8c564b" stroke-opacity="0.6" stroke-width="5.8" stroke-linecap="round" fill="none"/>
<polygon points="517.5,48.1 503.2,145.0 419.2,260.0 373.4,319.9 323.0,369.3 288.2,400.0 215.1,462.7 168.0,470.0 91.8,485.6 79.0,487.0 190.0,348.2 279.8,250.0 322.1,201.0 380.5,136.4" fill="none" stroke="#1f77b4" stroke-width="4.2" stroke-linejoin="round"/>
<polygon points="103.6,458.7 169.0,396.3 173.8,393.4 178.7,407.0 105.6,460.6" fill="none" stroke="#ff7f0e" stroke-width="4.2" stroke-linejoin="round"/>
<polygon points="99.7,462.6 190.0,375.3 248.5,327.3 271.5,329.4 230.0,369.0 198.4,400.0 101.7,466.5" fill="none" stroke="#2ca02c" stroke-width="4.2" stroke-linejoin="round"/>
<polygon points="551.5,48.1 558.2,54.9 539.6,95.7 338.1,319.9 317.0,337.5 242.2,400.0 230.0,406.0 138.7,470.0 85.3,486.7 80.0,482.0 190.0,356.5 286.1,250.0 374.8,153.4 490.3,73.6" fill="none" stroke="#d62728" stroke-width="4.2" stroke-linejoin="round"/>
<polygon points="322.1,201.0 339.1,239.0 333.0,250.0 288.0,319.0 250.6,367.0 230.0,382.6 200.0,412.6 119.2,470.0 81.4,492.6 78.5,486.7 190.0,348.2 279.8,250.0" fill="none" stroke="#9467bd" stroke-width="4.2" stroke-linejoin="round"/>
<polygon points="522.6,222.4 534.5,252.0 525.0,260.0 325.8,385.1 230.0,425.5 148.5,470.0 77.7,485.6 76.5,483.0 140.0,416.0 167.2,386.0 194.3,359.5 217.9,341.0 241.4,324.4 270.0,310.0 340.0,258.4 364.6,241.8 483.5,226.5" fill="none" stroke="#8c564b" stroke-width="4.2" stroke-linejoin="round"/>
<polygon points="1116.5,48.1 1133.5,58.3 1151.2,70.9 1001.0,270.0 980.4,300.0 909.8,383.3 877.2,412.3 850.0,427.0 800.0,456.0 713.4,487.0 798.0,375.6 862.7,287.0 950.0,180.6 1077.4,68.5" fill="none" stroke="#1f77b4" stroke-width="4.2" stroke-linejoin="round"/>
<polygon points="793.4,420.1 809.4,420.7 811.5,431.9 787.8,445.0 758.4,459.9 735.4,470.8 745.0,458.0 760.0,438.1" fill="none" stroke="#ff7f0e" stroke-width="4.2" stroke-linejoin="round"/>
<polygon points="882.8,361.9 904.1,367.6 850.0,410.5 825.0,429.0 777.2,457.0 731.9,477.0 729.3,472.7 760.0,440.9 820.0,399.2" fill="none" stroke="#2ca02c" stroke-width="4.2" stroke-linejoin="round"/>
<polygon points="1183.8,111.0 1190.6,154.4 1172.6,190.8 1079.1,270.0 990.0,348.9 962.3,372.5 868.1,430.0 805.8,465.1 711.5,489.3 717.8,482.5 798.0,381.2 889.9,275.7 950.0,223.1 1006.1,170.4 1123.3,129.6" fill="none" stroke="#d62728" stroke-width="4.2" stroke-linejoin="round"/>
<polygon points="955.1,197.6 970.4,270.0 972.1,283.5 962.3,300.0 940.0,330.9 927.9,341.7 877.2,415.9 719.1,485.5 709.5,491.0 798.0,369.0 836.4,330.0 950.0,201.0" fill="none" stroke="#9467bd" stroke-width="4.2" stroke-linejoin="round"/>
<polygon points="1156.5,310.6 1167.3,341.0 960.3,427.3 940.0,435.8 805.8,472.7 708.9,491.1 724.2,477.8 813.4,386.1 850.0,372.5 940.0,332.6 995.8,310.6" fill="none" stroke="#8c564b" stroke-width="4.2" stroke-linejoin="round"/>
<polygon points="1769.8,48.9 1784.0,204.6 1726.5,250.0 1620.0,330.1 1530.0,397.8 1510.2,411.2 1496.8,423.4 1457.8,452.4 1430.0,464.5 1362.0,481.0 1352.0,477.0 1388.5,380.0 1450.0,251.2 1479.8,178.7 1597.7,66.1" fill="none" stroke="#1f77b4" stroke-width="4.2" stroke-linejoin="round"/>
<polygon points="1361.7,471.9 1423.5,440.1 1443.6,455.2 1436.9,458.5 1368.4,476.9" fill="none" stroke="#ff7f0e" stroke-width="4.2" stroke-linejoin="round"/>
<polygon points="1361.7,470.2 1416.9,433.4 1450.8,422.4 1513.5,417.0 1533.6,421.5 1480.0,445.0 1430.0,463.5 1361.7,480.2" fill="none" stroke="#2ca02c" stroke-width="4.2" stroke-linejoin="round"/>
<polygon points="1818.1,269.0 1823.6,313.0 1803.4,325.1 1620.0,405.9 1558.0,430.0 1480.0,463.5 1355.0,487.5 1351.7,478.5 1373.4,440.0 1411.8,355.1 1445.2,320.0 1455.2,302.5 1500.1,270.0 1507.5,261.1 1580.0,263.9" fill="none" stroke="#d62728" stroke-width="4.2" stroke-linejoin="round"/>
<polygon points="1535.8,296.7 1589.3,296.3 1606.0,370.2 1535.8,430.0 1480.0,457.0 1430.0,470.0 1352.0,484.0 1345.0,481.0 1370.0,440.0 1411.8,358.4 1426.9,343.4 1440.0,339.1" fill="none" stroke="#9467bd" stroke-width="4.2" stroke-linejoin="round"/>
<polygon points="1340.9,490.2 1423.5,435.1 1450.3,420.1 1480.0,415.9 1620.0,401.4 1635.0,399.5 1790.6,409.3 1799.8,427.7 1580.0,468.0 1480.0,478.5 1346.7,493.6" fill="none" stroke="#8c564b" stroke-width="4.2" stroke-linejoin="round"/>
<rect x="265.8" y="574.5" width="1368.7" height="141.5" rx="6" ry="6" fill="#fff" stroke="#d4d4d4" stroke-width="1.2"/>
<circle cx="301.2" cy="613.9" r="8.3" fill="#79add2"/>
<circle cx="301.2" cy="651.0" r="8.3" fill="#ffb26e"/>
<circle cx="667.3" cy="614.0" r="8.3" fill="#80c680"/>
<circle cx="667.3" cy="668.2" r="8.3" fill="#e67d7e"/>
<circle cx="1259.2" cy="614.1" r="8.3" fill="#bfa4d8"/>
<circle cx="1259.2" cy="681.2" r="8.3" fill="#ba9a93"/>
<text x="346.5" y="620.9" font-size="25.5">CCAM-12.5 (target)</text>
<text x="346.5" y="658.2" font-size="25.5">CCAM-100 (input)</text>
<text x="713.0" y="621.2" font-size="25.5">CCAM-12.5 coarsen to 100km (input)</text>
<text x="713.0" y="657.9" font-size="25.5">ML<tspan font-size="18" dy="3.9">Perfect</tspan><tspan dy="-3.9"> prediction with</tspan></text>
<text x="713.0" y="686.5" font-size="25.5">CCAM-12.5 coarsen to 100km</text>
<text x="1305.4" y="603.6" font-size="25.5">ML<tspan font-size="18" dy="3.9">Perfect</tspan><tspan dy="-3.9"> prediction with</tspan></text>
<text x="1305.4" y="632.2" font-size="25.5">CCAM-100</text>
<text x="1305.4" y="669.5" font-size="25.5">ML<tspan font-size="18" dy="3.9">Imperfect</tspan><tspan dy="-3.9"> prediction with</tspan></text>
<text x="1305.4" y="700.3" font-size="25.5">CCAM-100</text>
</svg>
</body></html>
